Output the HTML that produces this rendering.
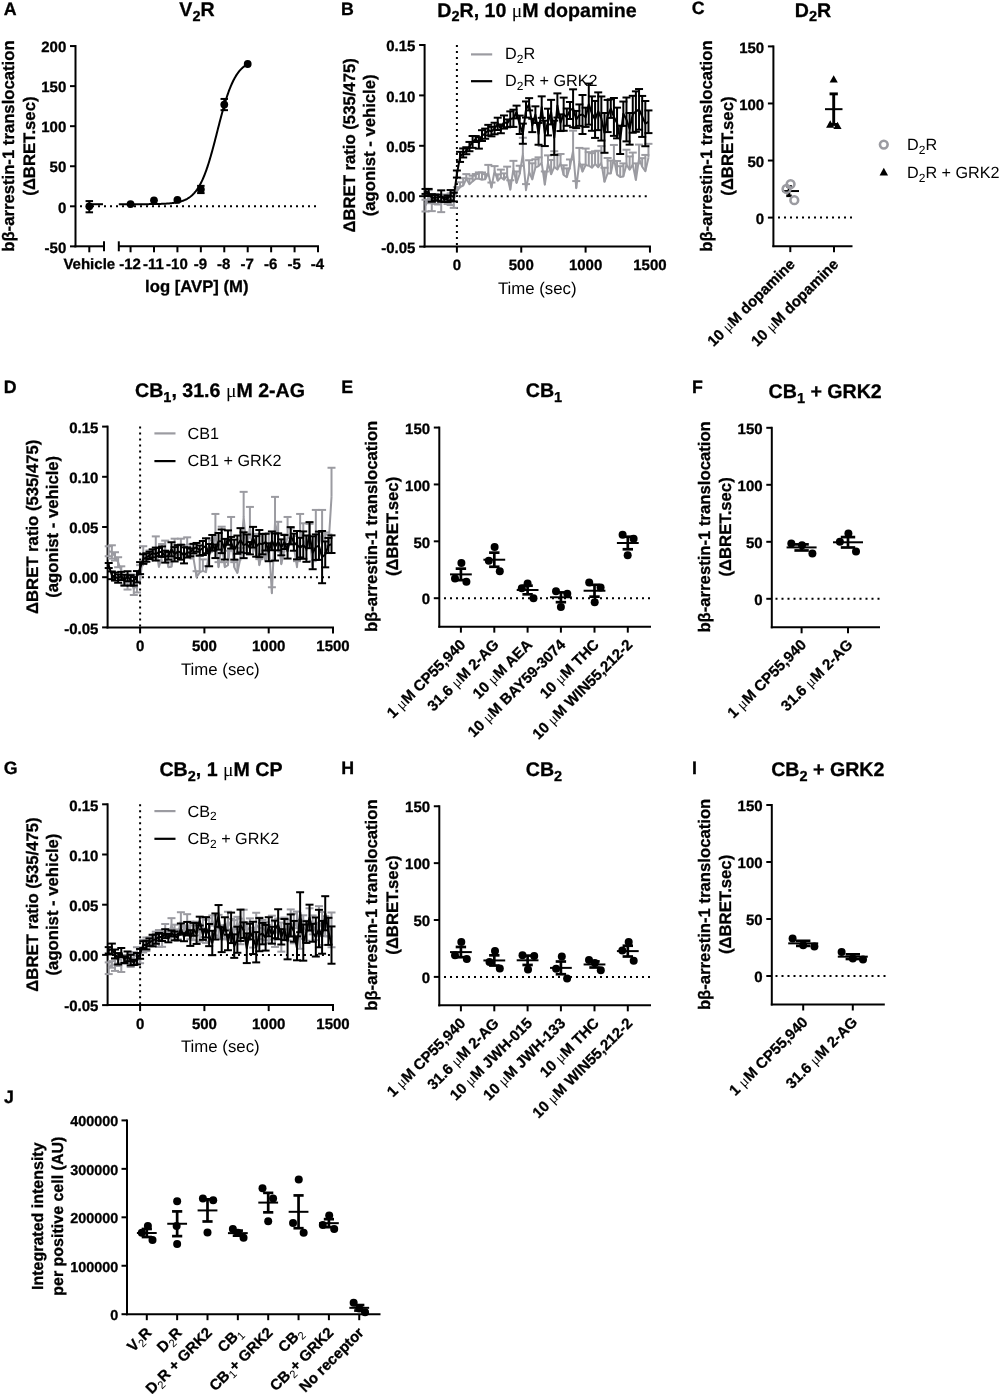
<!DOCTYPE html>
<html><head><meta charset="utf-8"><style>
html,body{margin:0;padding:0;background:#fff;}
svg{display:block;font-family:"Liberation Sans",sans-serif;text-rendering:geometricPrecision;will-change:transform;}
text[font-weight="bold"]{stroke:#000;stroke-width:0.3px;}
tspan[font-weight="normal"]{stroke:none;}
</style></head><body>
<svg width="1000" height="1394" viewBox="0 0 1000 1394">
<rect width="1000" height="1394" fill="#fff"/>
<text x="3.7" y="14.5" font-size="17.8" text-anchor="start" font-weight="bold" >A</text>
<text x="197" y="15.8" font-size="19.6" text-anchor="middle" font-weight="bold" >V<tspan font-size="14.5" dy="4.7">2</tspan><tspan dy="-4.7">R</tspan></text>
<line x1="75.5" y1="45.06" x2="75.5" y2="247.36" stroke="#000" stroke-width="2.0" />
<line x1="70" y1="46.06" x2="75.5" y2="46.06" stroke="#000" stroke-width="2.0" />
<text x="66.3" y="52.26" font-size="15.0" text-anchor="end" font-weight="bold" >200</text>
<line x1="70" y1="86.12" x2="75.5" y2="86.12" stroke="#000" stroke-width="2.0" />
<text x="66.3" y="92.32" font-size="15.0" text-anchor="end" font-weight="bold" >150</text>
<line x1="70" y1="126.18" x2="75.5" y2="126.18" stroke="#000" stroke-width="2.0" />
<text x="66.3" y="132.38" font-size="15.0" text-anchor="end" font-weight="bold" >100</text>
<line x1="70" y1="166.24" x2="75.5" y2="166.24" stroke="#000" stroke-width="2.0" />
<text x="66.3" y="172.44" font-size="15.0" text-anchor="end" font-weight="bold" >50</text>
<line x1="70" y1="206.3" x2="75.5" y2="206.3" stroke="#000" stroke-width="2.0" />
<text x="66.3" y="212.5" font-size="15.0" text-anchor="end" font-weight="bold" >0</text>
<line x1="70" y1="246.36" x2="75.5" y2="246.36" stroke="#000" stroke-width="2.0" />
<text x="66.3" y="252.56" font-size="15.0" text-anchor="end" font-weight="bold" >-50</text>
<text transform="translate(13.7,146.1) rotate(-90)" font-size="16.7" text-anchor="middle" font-weight="bold">bβ-arrestin-1 translocation</text>
<text transform="translate(34.7,146.1) rotate(-90)" font-size="16.7" text-anchor="middle" font-weight="bold">(ΔBRET.sec)</text>
<line x1="74.5" y1="246.3" x2="104" y2="246.3" stroke="#000" stroke-width="2.0" />
<line x1="104" y1="241.3" x2="104" y2="251.3" stroke="#000" stroke-width="2.0" />
<line x1="89.3" y1="246.3" x2="89.3" y2="252.3" stroke="#000" stroke-width="2.0" />
<line x1="118.8" y1="246.3" x2="319" y2="246.3" stroke="#000" stroke-width="2.0" />
<line x1="118.8" y1="241.3" x2="118.8" y2="251.3" stroke="#000" stroke-width="2.0" />
<line x1="130.56" y1="246.3" x2="130.56" y2="252.3" stroke="#000" stroke-width="2.0" />
<line x1="153.99" y1="246.3" x2="153.99" y2="252.3" stroke="#000" stroke-width="2.0" />
<line x1="177.42" y1="246.3" x2="177.42" y2="252.3" stroke="#000" stroke-width="2.0" />
<line x1="200.85" y1="246.3" x2="200.85" y2="252.3" stroke="#000" stroke-width="2.0" />
<line x1="224.28" y1="246.3" x2="224.28" y2="252.3" stroke="#000" stroke-width="2.0" />
<line x1="247.71" y1="246.3" x2="247.71" y2="252.3" stroke="#000" stroke-width="2.0" />
<line x1="271.14" y1="246.3" x2="271.14" y2="252.3" stroke="#000" stroke-width="2.0" />
<line x1="294.57" y1="246.3" x2="294.57" y2="252.3" stroke="#000" stroke-width="2.0" />
<line x1="318" y1="246.3" x2="318" y2="252.3" stroke="#000" stroke-width="2.0" />
<text x="89.3" y="269.1" font-size="15.0" text-anchor="middle" font-weight="bold" >Vehicle</text>
<text x="130.06" y="269.1" font-size="15.0" text-anchor="middle" font-weight="bold" >-12</text>
<text x="153.49" y="269.1" font-size="15.0" text-anchor="middle" font-weight="bold" >-11</text>
<text x="176.92" y="269.1" font-size="15.0" text-anchor="middle" font-weight="bold" >-10</text>
<text x="200.35" y="269.1" font-size="15.0" text-anchor="middle" font-weight="bold" >-9</text>
<text x="223.78" y="269.1" font-size="15.0" text-anchor="middle" font-weight="bold" >-8</text>
<text x="247.21" y="269.1" font-size="15.0" text-anchor="middle" font-weight="bold" >-7</text>
<text x="270.64" y="269.1" font-size="15.0" text-anchor="middle" font-weight="bold" >-6</text>
<text x="294.07" y="269.1" font-size="15.0" text-anchor="middle" font-weight="bold" >-5</text>
<text x="317.5" y="269.1" font-size="15.0" text-anchor="middle" font-weight="bold" >-4</text>
<text x="196.8" y="292.4" font-size="16.7" text-anchor="middle" font-weight="bold" >log [AVP] (M)</text>
<line x1="80" y1="206.3" x2="318" y2="206.3" stroke="#000" stroke-width="2" stroke-dasharray="2 4"/>
<polyline fill="none" stroke="#000" stroke-width="2" points="118.8,204.21 119.27,204.21 119.74,204.21 120.21,204.21 120.67,204.21 121.14,204.21 121.61,204.21 122.08,204.21 122.55,204.21 123.02,204.21 123.49,204.21 123.95,204.21 124.42,204.21 124.89,204.21 125.36,204.21 125.83,204.21 126.3,204.21 126.77,204.21 127.23,204.21 127.7,204.21 128.17,204.21 128.64,204.21 129.11,204.21 129.58,204.21 130.05,204.21 130.51,204.2 130.98,204.2 131.45,204.2 131.92,204.2 132.39,204.2 132.86,204.2 133.33,204.2 133.8,204.2 134.26,204.2 134.73,204.2 135.2,204.2 135.67,204.2 136.14,204.19 136.61,204.19 137.08,204.19 137.54,204.19 138.01,204.19 138.48,204.19 138.95,204.19 139.42,204.18 139.89,204.18 140.36,204.18 140.82,204.18 141.29,204.18 141.76,204.18 142.23,204.17 142.7,204.17 143.17,204.17 143.64,204.17 144.1,204.16 144.57,204.16 145.04,204.16 145.51,204.15 145.98,204.15 146.45,204.15 146.92,204.14 147.38,204.14 147.85,204.14 148.32,204.13 148.79,204.13 149.26,204.12 149.73,204.12 150.2,204.11 150.66,204.11 151.13,204.1 151.6,204.1 152.07,204.09 152.54,204.08 153.01,204.08 153.48,204.07 153.94,204.06 154.41,204.05 154.88,204.05 155.35,204.04 155.82,204.03 156.29,204.02 156.76,204.01 157.23,204 157.69,203.98 158.16,203.97 158.63,203.96 159.1,203.95 159.57,203.93 160.04,203.92 160.51,203.9 160.97,203.89 161.44,203.87 161.91,203.85 162.38,203.83 162.85,203.81 163.32,203.79 163.79,203.77 164.25,203.75 164.72,203.72 165.19,203.7 165.66,203.67 166.13,203.64 166.6,203.61 167.07,203.58 167.53,203.55 168,203.51 168.47,203.48 168.94,203.44 169.41,203.4 169.88,203.35 170.35,203.31 170.81,203.26 171.28,203.21 171.75,203.16 172.22,203.11 172.69,203.05 173.16,202.99 173.63,202.93 174.09,202.86 174.56,202.79 175.03,202.72 175.5,202.64 175.97,202.56 176.44,202.47 176.91,202.39 177.37,202.29 177.84,202.19 178.31,202.09 178.78,201.98 179.25,201.87 179.72,201.75 180.19,201.62 180.66,201.49 181.12,201.35 181.59,201.2 182.06,201.05 182.53,200.89 183,200.72 183.47,200.54 183.94,200.36 184.4,200.16 184.87,199.96 185.34,199.74 185.81,199.52 186.28,199.28 186.75,199.03 187.22,198.78 187.68,198.5 188.15,198.22 188.62,197.92 189.09,197.61 189.56,197.28 190.03,196.94 190.5,196.58 190.96,196.21 191.43,195.81 191.9,195.4 192.37,194.98 192.84,194.53 193.31,194.06 193.78,193.57 194.24,193.06 194.71,192.53 195.18,191.97 195.65,191.39 196.12,190.78 196.59,190.15 197.06,189.5 197.52,188.81 197.99,188.1 198.46,187.36 198.93,186.59 199.4,185.79 199.87,184.96 200.34,184.1 200.8,183.21 201.27,182.28 201.74,181.32 202.21,180.32 202.68,179.3 203.15,178.23 203.62,177.13 204.09,176 204.55,174.83 205.02,173.62 205.49,172.38 205.96,171.11 206.43,169.79 206.9,168.44 207.37,167.06 207.83,165.64 208.3,164.19 208.77,162.7 209.24,161.19 209.71,159.64 210.18,158.05 210.65,156.44 211.11,154.81 211.58,153.14 212.05,151.45 212.52,149.74 212.99,148 213.46,146.24 213.93,144.47 214.39,142.68 214.86,140.88 215.33,139.06 215.8,137.23 216.27,135.4 216.74,133.56 217.21,131.72 217.67,129.88 218.14,128.05 218.61,126.21 219.08,124.39 219.55,122.57 220.02,120.76 220.49,118.97 220.95,117.19 221.42,115.43 221.89,113.69 222.36,111.97 222.83,110.28 223.3,108.61 223.77,106.96 224.23,105.35 224.7,103.76 225.17,102.21 225.64,100.68 226.11,99.19 226.58,97.73 227.05,96.31 227.52,94.92 227.98,93.56 228.45,92.24 228.92,90.96 229.39,89.71 229.86,88.5 230.33,87.32 230.8,86.18 231.26,85.07 231.73,84 232.2,82.97 232.67,81.97 233.14,81 233.61,80.07 234.08,79.17 234.54,78.3 235.01,77.46 235.48,76.66 235.95,75.88 236.42,75.13 236.89,74.42 237.36,73.73 237.82,73.07 238.29,72.43 238.76,71.82 239.23,71.24 239.7,70.68 240.17,70.14 240.64,69.62 241.1,69.13 241.57,68.66 242.04,68.21 242.51,67.77 242.98,67.36 243.45,66.96 243.92,66.59 244.38,66.22 244.85,65.88 245.32,65.55 245.79,65.23 246.26,64.93 246.73,64.65 247.2,64.37 247.66,64.11 247.71,64.09"/>
<line x1="89.3" y1="204.22" x2="103" y2="204.22" stroke="#000" stroke-width="2" />
<line x1="89.3" y1="201.09" x2="89.3" y2="212.31" stroke="#000" stroke-width="2.0" />
<line x1="85.55" y1="201.09" x2="93.05" y2="201.09" stroke="#000" stroke-width="2.0" />
<line x1="85.55" y1="212.31" x2="93.05" y2="212.31" stroke="#000" stroke-width="2.0" />
<circle cx="89.3" cy="206.3" r="3.9" fill="#000" stroke="none" stroke-width="0"/>
<circle cx="130.56" cy="204.06" r="3.9" fill="#000" stroke="none" stroke-width="0"/>
<circle cx="153.99" cy="200.29" r="3.9" fill="#000" stroke="none" stroke-width="0"/>
<circle cx="177.42" cy="199.89" r="3.9" fill="#000" stroke="none" stroke-width="0"/>
<line x1="200.85" y1="185.87" x2="200.85" y2="193.08" stroke="#000" stroke-width="2.0" />
<line x1="197.1" y1="185.87" x2="204.6" y2="185.87" stroke="#000" stroke-width="2.0" />
<line x1="197.1" y1="193.08" x2="204.6" y2="193.08" stroke="#000" stroke-width="2.0" />
<circle cx="200.85" cy="189.47" r="3.9" fill="#000" stroke="none" stroke-width="0"/>
<line x1="224.28" y1="98.94" x2="224.28" y2="110.16" stroke="#000" stroke-width="2.0" />
<line x1="220.53" y1="98.94" x2="228.03" y2="98.94" stroke="#000" stroke-width="2.0" />
<line x1="220.53" y1="110.16" x2="228.03" y2="110.16" stroke="#000" stroke-width="2.0" />
<circle cx="224.28" cy="104.55" r="3.9" fill="#000" stroke="none" stroke-width="0"/>
<circle cx="247.71" cy="64.01" r="3.9" fill="#000" stroke="none" stroke-width="0"/>
<text x="341" y="14.5" font-size="17.8" text-anchor="start" font-weight="bold" >B</text>
<text x="537" y="16.6" font-size="19.6" text-anchor="middle" font-weight="bold" >D<tspan font-size="14.5" dy="4.7">2</tspan><tspan dy="-4.7">R, 10 <tspan font-weight="normal" font-family="Liberation Serif">μ</tspan>M dopamine</tspan></text>
<line x1="424.6" y1="44" x2="424.6" y2="247.6" stroke="#000" stroke-width="2.0" />
<line x1="419.1" y1="45" x2="424.6" y2="45" stroke="#000" stroke-width="2.0" />
<text x="415.4" y="51.2" font-size="15.0" text-anchor="end" font-weight="bold" >0.15</text>
<line x1="419.1" y1="95.4" x2="424.6" y2="95.4" stroke="#000" stroke-width="2.0" />
<text x="415.4" y="101.6" font-size="15.0" text-anchor="end" font-weight="bold" >0.10</text>
<line x1="419.1" y1="145.8" x2="424.6" y2="145.8" stroke="#000" stroke-width="2.0" />
<text x="415.4" y="152" font-size="15.0" text-anchor="end" font-weight="bold" >0.05</text>
<line x1="419.1" y1="196.2" x2="424.6" y2="196.2" stroke="#000" stroke-width="2.0" />
<text x="415.4" y="202.4" font-size="15.0" text-anchor="end" font-weight="bold" >0.00</text>
<line x1="419.1" y1="246.6" x2="424.6" y2="246.6" stroke="#000" stroke-width="2.0" />
<text x="415.4" y="252.8" font-size="15.0" text-anchor="end" font-weight="bold" >-0.05</text>
<text transform="translate(355,145.4) rotate(-90)" font-size="16.7" text-anchor="middle" font-weight="bold">ΔBRET ratio (535/475)</text>
<text transform="translate(375.3,145.4) rotate(-90)" font-size="16.7" text-anchor="middle" font-weight="bold">(agonist - vehicle)</text>
<line x1="423.6" y1="246.6" x2="650.95" y2="246.6" stroke="#000" stroke-width="2.0" />
<line x1="456.9" y1="246.6" x2="456.9" y2="252.6" stroke="#000" stroke-width="2.0" />
<text x="456.9" y="269.7" font-size="15.0" text-anchor="middle" font-weight="bold" >0</text>
<line x1="521.25" y1="246.6" x2="521.25" y2="252.6" stroke="#000" stroke-width="2.0" />
<text x="521.25" y="269.7" font-size="15.0" text-anchor="middle" font-weight="bold" >500</text>
<line x1="585.6" y1="246.6" x2="585.6" y2="252.6" stroke="#000" stroke-width="2.0" />
<text x="585.6" y="269.7" font-size="15.0" text-anchor="middle" font-weight="bold" >1000</text>
<line x1="649.95" y1="246.6" x2="649.95" y2="252.6" stroke="#000" stroke-width="2.0" />
<text x="649.95" y="269.7" font-size="15.0" text-anchor="middle" font-weight="bold" >1500</text>
<text x="537.28" y="294" font-size="16.8" text-anchor="middle"  >Time (sec)</text>
<line x1="428.72" y1="196.2" x2="649.95" y2="196.2" stroke="#000" stroke-width="2" stroke-dasharray="2 4"/>
<line x1="456.9" y1="45" x2="456.9" y2="246.6" stroke="#000" stroke-width="2" stroke-dasharray="2 4"/>
<polyline fill="none" stroke="#9b9ba1" stroke-width="2.0" stroke-linejoin="round" points="425.5,205.61 428.64,196.7 431.78,203.48 434.92,198.91 438.06,200.93 441.2,203.55 444.34,197.9 447.48,200.4 450.62,199.19 453.76,199.97 456.9,191.16 460.04,187.12 463.18,185.51 466.32,178.8 469.46,184.21 472.6,181.37 475.74,178.75 478.88,178.68 482.02,179.69 485.16,179.32 488.3,173.02 491.44,187.65 494.58,170.88 497.72,180.78 500.86,177.32 504,179.77 507.14,175.47 510.28,189.66 513.43,168.78 516.57,183.03 519.71,174.03 522.85,153.86 525.99,190.15 529.13,171.86 532.27,179.36 535.41,167.62 538.55,166.07 541.69,162.89 544.83,184.68 547.97,163.14 551.11,174.27 554.25,166.83 557.39,169.57 560.53,163.11 563.67,174.97 566.81,177.24 569.95,166.78 573.09,150.84 576.23,188.14 579.37,161.72 582.51,171.62 585.65,165.12 588.79,165.7 591.93,167.76 595.07,163.86 598.21,167.19 601.35,162.7 604.49,181.86 607.63,173.23 610.77,173.49 613.91,158.24 617.05,174.6 620.19,177.06 623.33,176.4 626.48,164.56 629.62,169.61 632.76,164.66 635.9,180.06 639.04,158.64 642.18,166.69 645.32,171.3 648.46,157.73"/>
<line x1="425.5" y1="199.75" x2="425.5" y2="211.48" stroke="#9b9ba1" stroke-width="2.0" />
<line x1="421.5" y1="199.75" x2="429.5" y2="199.75" stroke="#9b9ba1" stroke-width="2.0" />
<line x1="421.5" y1="211.48" x2="429.5" y2="211.48" stroke="#9b9ba1" stroke-width="2.0" />
<line x1="428.64" y1="190.18" x2="428.64" y2="203.23" stroke="#9b9ba1" stroke-width="2.0" />
<line x1="424.64" y1="190.18" x2="432.64" y2="190.18" stroke="#9b9ba1" stroke-width="2.0" />
<line x1="424.64" y1="203.23" x2="432.64" y2="203.23" stroke="#9b9ba1" stroke-width="2.0" />
<line x1="431.78" y1="195.83" x2="431.78" y2="211.12" stroke="#9b9ba1" stroke-width="2.0" />
<line x1="427.78" y1="195.83" x2="435.78" y2="195.83" stroke="#9b9ba1" stroke-width="2.0" />
<line x1="427.78" y1="211.12" x2="435.78" y2="211.12" stroke="#9b9ba1" stroke-width="2.0" />
<line x1="434.92" y1="193.93" x2="434.92" y2="203.88" stroke="#9b9ba1" stroke-width="2.0" />
<line x1="430.92" y1="193.93" x2="438.92" y2="193.93" stroke="#9b9ba1" stroke-width="2.0" />
<line x1="430.92" y1="203.88" x2="438.92" y2="203.88" stroke="#9b9ba1" stroke-width="2.0" />
<line x1="438.06" y1="197.37" x2="438.06" y2="204.48" stroke="#9b9ba1" stroke-width="2.0" />
<line x1="434.06" y1="197.37" x2="442.06" y2="197.37" stroke="#9b9ba1" stroke-width="2.0" />
<line x1="434.06" y1="204.48" x2="442.06" y2="204.48" stroke="#9b9ba1" stroke-width="2.0" />
<line x1="441.2" y1="194.97" x2="441.2" y2="212.13" stroke="#9b9ba1" stroke-width="2.0" />
<line x1="437.2" y1="194.97" x2="445.2" y2="194.97" stroke="#9b9ba1" stroke-width="2.0" />
<line x1="437.2" y1="212.13" x2="445.2" y2="212.13" stroke="#9b9ba1" stroke-width="2.0" />
<line x1="444.34" y1="194.49" x2="444.34" y2="201.31" stroke="#9b9ba1" stroke-width="2.0" />
<line x1="440.34" y1="194.49" x2="448.34" y2="194.49" stroke="#9b9ba1" stroke-width="2.0" />
<line x1="440.34" y1="201.31" x2="448.34" y2="201.31" stroke="#9b9ba1" stroke-width="2.0" />
<line x1="447.48" y1="196.75" x2="447.48" y2="204.05" stroke="#9b9ba1" stroke-width="2.0" />
<line x1="443.48" y1="196.75" x2="451.48" y2="196.75" stroke="#9b9ba1" stroke-width="2.0" />
<line x1="443.48" y1="204.05" x2="451.48" y2="204.05" stroke="#9b9ba1" stroke-width="2.0" />
<line x1="450.62" y1="193.33" x2="450.62" y2="205.04" stroke="#9b9ba1" stroke-width="2.0" />
<line x1="446.62" y1="193.33" x2="454.62" y2="193.33" stroke="#9b9ba1" stroke-width="2.0" />
<line x1="446.62" y1="205.04" x2="454.62" y2="205.04" stroke="#9b9ba1" stroke-width="2.0" />
<line x1="453.76" y1="192.06" x2="453.76" y2="207.88" stroke="#9b9ba1" stroke-width="2.0" />
<line x1="449.76" y1="192.06" x2="457.76" y2="192.06" stroke="#9b9ba1" stroke-width="2.0" />
<line x1="449.76" y1="207.88" x2="457.76" y2="207.88" stroke="#9b9ba1" stroke-width="2.0" />
<line x1="456.9" y1="187.13" x2="456.9" y2="191.16" stroke="#9b9ba1" stroke-width="2.0" />
<line x1="452.9" y1="187.13" x2="460.9" y2="187.13" stroke="#9b9ba1" stroke-width="2.0" />
<line x1="460.04" y1="182.24" x2="460.04" y2="187.12" stroke="#9b9ba1" stroke-width="2.0" />
<line x1="456.04" y1="182.24" x2="464.04" y2="182.24" stroke="#9b9ba1" stroke-width="2.0" />
<line x1="463.18" y1="178.2" x2="463.18" y2="185.51" stroke="#9b9ba1" stroke-width="2.0" />
<line x1="459.18" y1="178.2" x2="467.18" y2="178.2" stroke="#9b9ba1" stroke-width="2.0" />
<line x1="466.32" y1="174.1" x2="466.32" y2="178.8" stroke="#9b9ba1" stroke-width="2.0" />
<line x1="462.32" y1="174.1" x2="470.32" y2="174.1" stroke="#9b9ba1" stroke-width="2.0" />
<line x1="469.46" y1="178.5" x2="469.46" y2="184.21" stroke="#9b9ba1" stroke-width="2.0" />
<line x1="465.46" y1="178.5" x2="473.46" y2="178.5" stroke="#9b9ba1" stroke-width="2.0" />
<line x1="472.6" y1="175.7" x2="472.6" y2="181.37" stroke="#9b9ba1" stroke-width="2.0" />
<line x1="468.6" y1="175.7" x2="476.6" y2="175.7" stroke="#9b9ba1" stroke-width="2.0" />
<line x1="475.74" y1="174.03" x2="475.74" y2="178.75" stroke="#9b9ba1" stroke-width="2.0" />
<line x1="471.74" y1="174.03" x2="479.74" y2="174.03" stroke="#9b9ba1" stroke-width="2.0" />
<line x1="478.88" y1="172.42" x2="478.88" y2="178.68" stroke="#9b9ba1" stroke-width="2.0" />
<line x1="474.88" y1="172.42" x2="482.88" y2="172.42" stroke="#9b9ba1" stroke-width="2.0" />
<line x1="482.02" y1="172.45" x2="482.02" y2="179.69" stroke="#9b9ba1" stroke-width="2.0" />
<line x1="478.02" y1="172.45" x2="486.02" y2="172.45" stroke="#9b9ba1" stroke-width="2.0" />
<line x1="485.16" y1="174.13" x2="485.16" y2="179.32" stroke="#9b9ba1" stroke-width="2.0" />
<line x1="481.16" y1="174.13" x2="489.16" y2="174.13" stroke="#9b9ba1" stroke-width="2.0" />
<line x1="488.3" y1="164.89" x2="488.3" y2="173.02" stroke="#9b9ba1" stroke-width="2.0" />
<line x1="484.3" y1="164.89" x2="492.3" y2="164.89" stroke="#9b9ba1" stroke-width="2.0" />
<line x1="491.44" y1="182.52" x2="491.44" y2="187.65" stroke="#9b9ba1" stroke-width="2.0" />
<line x1="487.44" y1="182.52" x2="495.44" y2="182.52" stroke="#9b9ba1" stroke-width="2.0" />
<line x1="494.58" y1="166.12" x2="494.58" y2="170.88" stroke="#9b9ba1" stroke-width="2.0" />
<line x1="490.58" y1="166.12" x2="498.58" y2="166.12" stroke="#9b9ba1" stroke-width="2.0" />
<line x1="497.72" y1="174.34" x2="497.72" y2="180.78" stroke="#9b9ba1" stroke-width="2.0" />
<line x1="493.72" y1="174.34" x2="501.72" y2="174.34" stroke="#9b9ba1" stroke-width="2.0" />
<line x1="500.86" y1="169.62" x2="500.86" y2="177.32" stroke="#9b9ba1" stroke-width="2.0" />
<line x1="496.86" y1="169.62" x2="504.86" y2="169.62" stroke="#9b9ba1" stroke-width="2.0" />
<line x1="504" y1="173.39" x2="504" y2="179.77" stroke="#9b9ba1" stroke-width="2.0" />
<line x1="500" y1="173.39" x2="508" y2="173.39" stroke="#9b9ba1" stroke-width="2.0" />
<line x1="507.14" y1="166.66" x2="507.14" y2="175.47" stroke="#9b9ba1" stroke-width="2.0" />
<line x1="503.14" y1="166.66" x2="511.14" y2="166.66" stroke="#9b9ba1" stroke-width="2.0" />
<line x1="510.28" y1="180.26" x2="510.28" y2="189.66" stroke="#9b9ba1" stroke-width="2.0" />
<line x1="506.28" y1="180.26" x2="514.28" y2="180.26" stroke="#9b9ba1" stroke-width="2.0" />
<line x1="513.43" y1="160.85" x2="513.43" y2="168.78" stroke="#9b9ba1" stroke-width="2.0" />
<line x1="509.43" y1="160.85" x2="517.43" y2="160.85" stroke="#9b9ba1" stroke-width="2.0" />
<line x1="516.57" y1="171.46" x2="516.57" y2="183.03" stroke="#9b9ba1" stroke-width="2.0" />
<line x1="512.57" y1="171.46" x2="520.57" y2="171.46" stroke="#9b9ba1" stroke-width="2.0" />
<line x1="519.71" y1="165.75" x2="519.71" y2="174.03" stroke="#9b9ba1" stroke-width="2.0" />
<line x1="515.71" y1="165.75" x2="523.71" y2="165.75" stroke="#9b9ba1" stroke-width="2.0" />
<line x1="522.85" y1="137.74" x2="522.85" y2="153.86" stroke="#9b9ba1" stroke-width="2.0" />
<line x1="518.85" y1="137.74" x2="526.85" y2="137.74" stroke="#9b9ba1" stroke-width="2.0" />
<line x1="525.99" y1="184.1" x2="525.99" y2="190.15" stroke="#9b9ba1" stroke-width="2.0" />
<line x1="521.99" y1="184.1" x2="529.99" y2="184.1" stroke="#9b9ba1" stroke-width="2.0" />
<line x1="529.13" y1="160.28" x2="529.13" y2="171.86" stroke="#9b9ba1" stroke-width="2.0" />
<line x1="525.13" y1="160.28" x2="533.13" y2="160.28" stroke="#9b9ba1" stroke-width="2.0" />
<line x1="532.27" y1="163.27" x2="532.27" y2="179.36" stroke="#9b9ba1" stroke-width="2.0" />
<line x1="528.27" y1="163.27" x2="536.27" y2="163.27" stroke="#9b9ba1" stroke-width="2.0" />
<line x1="535.41" y1="159.29" x2="535.41" y2="167.62" stroke="#9b9ba1" stroke-width="2.0" />
<line x1="531.41" y1="159.29" x2="539.41" y2="159.29" stroke="#9b9ba1" stroke-width="2.0" />
<line x1="538.55" y1="157.35" x2="538.55" y2="166.07" stroke="#9b9ba1" stroke-width="2.0" />
<line x1="534.55" y1="157.35" x2="542.55" y2="157.35" stroke="#9b9ba1" stroke-width="2.0" />
<line x1="541.69" y1="146" x2="541.69" y2="162.89" stroke="#9b9ba1" stroke-width="2.0" />
<line x1="537.69" y1="146" x2="545.69" y2="146" stroke="#9b9ba1" stroke-width="2.0" />
<line x1="544.83" y1="171.45" x2="544.83" y2="184.68" stroke="#9b9ba1" stroke-width="2.0" />
<line x1="540.83" y1="171.45" x2="548.83" y2="171.45" stroke="#9b9ba1" stroke-width="2.0" />
<line x1="547.97" y1="155.36" x2="547.97" y2="163.14" stroke="#9b9ba1" stroke-width="2.0" />
<line x1="543.97" y1="155.36" x2="551.97" y2="155.36" stroke="#9b9ba1" stroke-width="2.0" />
<line x1="551.11" y1="159.95" x2="551.11" y2="174.27" stroke="#9b9ba1" stroke-width="2.0" />
<line x1="547.11" y1="159.95" x2="555.11" y2="159.95" stroke="#9b9ba1" stroke-width="2.0" />
<line x1="554.25" y1="151.21" x2="554.25" y2="166.83" stroke="#9b9ba1" stroke-width="2.0" />
<line x1="550.25" y1="151.21" x2="558.25" y2="151.21" stroke="#9b9ba1" stroke-width="2.0" />
<line x1="557.39" y1="155.08" x2="557.39" y2="169.57" stroke="#9b9ba1" stroke-width="2.0" />
<line x1="553.39" y1="155.08" x2="561.39" y2="155.08" stroke="#9b9ba1" stroke-width="2.0" />
<line x1="560.53" y1="153.97" x2="560.53" y2="163.11" stroke="#9b9ba1" stroke-width="2.0" />
<line x1="556.53" y1="153.97" x2="564.53" y2="153.97" stroke="#9b9ba1" stroke-width="2.0" />
<line x1="563.67" y1="165.27" x2="563.67" y2="174.97" stroke="#9b9ba1" stroke-width="2.0" />
<line x1="559.67" y1="165.27" x2="567.67" y2="165.27" stroke="#9b9ba1" stroke-width="2.0" />
<line x1="566.81" y1="168.37" x2="566.81" y2="177.24" stroke="#9b9ba1" stroke-width="2.0" />
<line x1="562.81" y1="168.37" x2="570.81" y2="168.37" stroke="#9b9ba1" stroke-width="2.0" />
<line x1="569.95" y1="159.47" x2="569.95" y2="166.78" stroke="#9b9ba1" stroke-width="2.0" />
<line x1="565.95" y1="159.47" x2="573.95" y2="159.47" stroke="#9b9ba1" stroke-width="2.0" />
<line x1="573.09" y1="130.68" x2="573.09" y2="150.84" stroke="#9b9ba1" stroke-width="2.0" />
<line x1="569.09" y1="130.68" x2="577.09" y2="130.68" stroke="#9b9ba1" stroke-width="2.0" />
<line x1="576.23" y1="181.08" x2="576.23" y2="188.14" stroke="#9b9ba1" stroke-width="2.0" />
<line x1="572.23" y1="181.08" x2="580.23" y2="181.08" stroke="#9b9ba1" stroke-width="2.0" />
<line x1="579.37" y1="147.91" x2="579.37" y2="161.72" stroke="#9b9ba1" stroke-width="2.0" />
<line x1="575.37" y1="147.91" x2="583.37" y2="147.91" stroke="#9b9ba1" stroke-width="2.0" />
<line x1="582.51" y1="164.59" x2="582.51" y2="171.62" stroke="#9b9ba1" stroke-width="2.0" />
<line x1="578.51" y1="164.59" x2="586.51" y2="164.59" stroke="#9b9ba1" stroke-width="2.0" />
<line x1="585.65" y1="148.56" x2="585.65" y2="165.12" stroke="#9b9ba1" stroke-width="2.0" />
<line x1="581.65" y1="148.56" x2="589.65" y2="148.56" stroke="#9b9ba1" stroke-width="2.0" />
<line x1="588.79" y1="152.12" x2="588.79" y2="165.7" stroke="#9b9ba1" stroke-width="2.0" />
<line x1="584.79" y1="152.12" x2="592.79" y2="152.12" stroke="#9b9ba1" stroke-width="2.0" />
<line x1="591.93" y1="153.16" x2="591.93" y2="167.76" stroke="#9b9ba1" stroke-width="2.0" />
<line x1="587.93" y1="153.16" x2="595.93" y2="153.16" stroke="#9b9ba1" stroke-width="2.0" />
<line x1="595.07" y1="151.26" x2="595.07" y2="163.86" stroke="#9b9ba1" stroke-width="2.0" />
<line x1="591.07" y1="151.26" x2="599.07" y2="151.26" stroke="#9b9ba1" stroke-width="2.0" />
<line x1="598.21" y1="150.73" x2="598.21" y2="167.19" stroke="#9b9ba1" stroke-width="2.0" />
<line x1="594.21" y1="150.73" x2="602.21" y2="150.73" stroke="#9b9ba1" stroke-width="2.0" />
<line x1="601.35" y1="146.09" x2="601.35" y2="162.7" stroke="#9b9ba1" stroke-width="2.0" />
<line x1="597.35" y1="146.09" x2="605.35" y2="146.09" stroke="#9b9ba1" stroke-width="2.0" />
<line x1="604.49" y1="167.75" x2="604.49" y2="181.86" stroke="#9b9ba1" stroke-width="2.0" />
<line x1="600.49" y1="167.75" x2="608.49" y2="167.75" stroke="#9b9ba1" stroke-width="2.0" />
<line x1="607.63" y1="157.97" x2="607.63" y2="173.23" stroke="#9b9ba1" stroke-width="2.0" />
<line x1="603.63" y1="157.97" x2="611.63" y2="157.97" stroke="#9b9ba1" stroke-width="2.0" />
<line x1="610.77" y1="160.6" x2="610.77" y2="173.49" stroke="#9b9ba1" stroke-width="2.0" />
<line x1="606.77" y1="160.6" x2="614.77" y2="160.6" stroke="#9b9ba1" stroke-width="2.0" />
<line x1="613.91" y1="144.96" x2="613.91" y2="158.24" stroke="#9b9ba1" stroke-width="2.0" />
<line x1="609.91" y1="144.96" x2="617.91" y2="144.96" stroke="#9b9ba1" stroke-width="2.0" />
<line x1="617.05" y1="160.98" x2="617.05" y2="174.6" stroke="#9b9ba1" stroke-width="2.0" />
<line x1="613.05" y1="160.98" x2="621.05" y2="160.98" stroke="#9b9ba1" stroke-width="2.0" />
<line x1="620.19" y1="166.17" x2="620.19" y2="177.06" stroke="#9b9ba1" stroke-width="2.0" />
<line x1="616.19" y1="166.17" x2="624.19" y2="166.17" stroke="#9b9ba1" stroke-width="2.0" />
<line x1="623.33" y1="163.42" x2="623.33" y2="176.4" stroke="#9b9ba1" stroke-width="2.0" />
<line x1="619.33" y1="163.42" x2="627.33" y2="163.42" stroke="#9b9ba1" stroke-width="2.0" />
<line x1="626.48" y1="149.74" x2="626.48" y2="164.56" stroke="#9b9ba1" stroke-width="2.0" />
<line x1="622.48" y1="149.74" x2="630.48" y2="149.74" stroke="#9b9ba1" stroke-width="2.0" />
<line x1="629.62" y1="156.42" x2="629.62" y2="169.61" stroke="#9b9ba1" stroke-width="2.0" />
<line x1="625.62" y1="156.42" x2="633.62" y2="156.42" stroke="#9b9ba1" stroke-width="2.0" />
<line x1="632.76" y1="152.59" x2="632.76" y2="164.66" stroke="#9b9ba1" stroke-width="2.0" />
<line x1="628.76" y1="152.59" x2="636.76" y2="152.59" stroke="#9b9ba1" stroke-width="2.0" />
<line x1="635.9" y1="163.39" x2="635.9" y2="180.06" stroke="#9b9ba1" stroke-width="2.0" />
<line x1="631.9" y1="163.39" x2="639.9" y2="163.39" stroke="#9b9ba1" stroke-width="2.0" />
<line x1="639.04" y1="144.6" x2="639.04" y2="158.64" stroke="#9b9ba1" stroke-width="2.0" />
<line x1="635.04" y1="144.6" x2="643.04" y2="144.6" stroke="#9b9ba1" stroke-width="2.0" />
<line x1="642.18" y1="158.19" x2="642.18" y2="166.69" stroke="#9b9ba1" stroke-width="2.0" />
<line x1="638.18" y1="158.19" x2="646.18" y2="158.19" stroke="#9b9ba1" stroke-width="2.0" />
<line x1="645.32" y1="154.94" x2="645.32" y2="171.3" stroke="#9b9ba1" stroke-width="2.0" />
<line x1="641.32" y1="154.94" x2="649.32" y2="154.94" stroke="#9b9ba1" stroke-width="2.0" />
<line x1="648.46" y1="143.83" x2="648.46" y2="157.73" stroke="#9b9ba1" stroke-width="2.0" />
<line x1="644.46" y1="143.83" x2="652.46" y2="143.83" stroke="#9b9ba1" stroke-width="2.0" />
<polyline fill="none" stroke="#000" stroke-width="2.0" stroke-linejoin="round" points="425.5,191.43 428.64,192.46 431.78,197.93 434.92,197.77 438.06,197.6 441.2,196 444.34,199.49 447.48,198.7 450.62,195.24 453.76,197.08 456.9,174.02 460.04,156.89 463.18,152.96 466.32,150.75 469.46,146.58 472.6,141.92 475.74,139.03 478.88,142.97 482.02,135.59 485.16,133.71 488.3,130.13 491.44,131.61 494.58,128.5 497.72,123.86 500.86,128.84 504,122.04 507.14,123.35 510.28,119.08 513.43,118.3 516.57,112.01 519.71,124.79 522.85,133.7 525.99,109.51 529.13,104.28 532.27,125.45 535.41,114.59 538.55,133.84 541.69,107.1 544.83,133.39 547.97,122.04 551.11,112.13 554.25,137.74 557.39,105.48 560.53,122.71 563.67,114.19 566.81,117.15 569.95,110.48 573.09,108.29 576.23,119.51 579.37,115.16 582.51,114.48 585.65,117.29 588.79,104.11 591.93,113.59 595.07,119.42 598.21,111.26 601.35,118.52 604.49,132.91 607.63,116 610.77,108.62 613.91,116.94 617.05,122.99 620.19,139.87 623.33,113.72 626.48,119.46 629.62,128.82 632.76,114.28 635.9,111.58 639.04,109.36 642.18,116.42 645.32,123.63 648.46,121.77"/>
<line x1="425.5" y1="188.95" x2="425.5" y2="193.91" stroke="#000" stroke-width="2.0" />
<line x1="421.5" y1="188.95" x2="429.5" y2="188.95" stroke="#000" stroke-width="2.0" />
<line x1="421.5" y1="193.91" x2="429.5" y2="193.91" stroke="#000" stroke-width="2.0" />
<line x1="428.64" y1="188.91" x2="428.64" y2="196" stroke="#000" stroke-width="2.0" />
<line x1="424.64" y1="188.91" x2="432.64" y2="188.91" stroke="#000" stroke-width="2.0" />
<line x1="424.64" y1="196" x2="432.64" y2="196" stroke="#000" stroke-width="2.0" />
<line x1="431.78" y1="194.14" x2="431.78" y2="201.73" stroke="#000" stroke-width="2.0" />
<line x1="427.78" y1="194.14" x2="435.78" y2="194.14" stroke="#000" stroke-width="2.0" />
<line x1="427.78" y1="201.73" x2="435.78" y2="201.73" stroke="#000" stroke-width="2.0" />
<line x1="434.92" y1="195.22" x2="434.92" y2="200.31" stroke="#000" stroke-width="2.0" />
<line x1="430.92" y1="195.22" x2="438.92" y2="195.22" stroke="#000" stroke-width="2.0" />
<line x1="430.92" y1="200.31" x2="438.92" y2="200.31" stroke="#000" stroke-width="2.0" />
<line x1="438.06" y1="194.57" x2="438.06" y2="200.63" stroke="#000" stroke-width="2.0" />
<line x1="434.06" y1="194.57" x2="442.06" y2="194.57" stroke="#000" stroke-width="2.0" />
<line x1="434.06" y1="200.63" x2="442.06" y2="200.63" stroke="#000" stroke-width="2.0" />
<line x1="441.2" y1="190.35" x2="441.2" y2="201.66" stroke="#000" stroke-width="2.0" />
<line x1="437.2" y1="190.35" x2="445.2" y2="190.35" stroke="#000" stroke-width="2.0" />
<line x1="437.2" y1="201.66" x2="445.2" y2="201.66" stroke="#000" stroke-width="2.0" />
<line x1="444.34" y1="197.11" x2="444.34" y2="201.88" stroke="#000" stroke-width="2.0" />
<line x1="440.34" y1="197.11" x2="448.34" y2="197.11" stroke="#000" stroke-width="2.0" />
<line x1="440.34" y1="201.88" x2="448.34" y2="201.88" stroke="#000" stroke-width="2.0" />
<line x1="447.48" y1="195.43" x2="447.48" y2="201.97" stroke="#000" stroke-width="2.0" />
<line x1="443.48" y1="195.43" x2="451.48" y2="195.43" stroke="#000" stroke-width="2.0" />
<line x1="443.48" y1="201.97" x2="451.48" y2="201.97" stroke="#000" stroke-width="2.0" />
<line x1="450.62" y1="190.06" x2="450.62" y2="200.42" stroke="#000" stroke-width="2.0" />
<line x1="446.62" y1="190.06" x2="454.62" y2="190.06" stroke="#000" stroke-width="2.0" />
<line x1="446.62" y1="200.42" x2="454.62" y2="200.42" stroke="#000" stroke-width="2.0" />
<line x1="453.76" y1="192.75" x2="453.76" y2="201.4" stroke="#000" stroke-width="2.0" />
<line x1="449.76" y1="192.75" x2="457.76" y2="192.75" stroke="#000" stroke-width="2.0" />
<line x1="449.76" y1="201.4" x2="457.76" y2="201.4" stroke="#000" stroke-width="2.0" />
<line x1="456.9" y1="170.5" x2="456.9" y2="177.55" stroke="#000" stroke-width="2.0" />
<line x1="452.9" y1="170.5" x2="460.9" y2="170.5" stroke="#000" stroke-width="2.0" />
<line x1="452.9" y1="177.55" x2="460.9" y2="177.55" stroke="#000" stroke-width="2.0" />
<line x1="460.04" y1="151.85" x2="460.04" y2="161.93" stroke="#000" stroke-width="2.0" />
<line x1="456.04" y1="151.85" x2="464.04" y2="151.85" stroke="#000" stroke-width="2.0" />
<line x1="456.04" y1="161.93" x2="464.04" y2="161.93" stroke="#000" stroke-width="2.0" />
<line x1="463.18" y1="148.44" x2="463.18" y2="157.48" stroke="#000" stroke-width="2.0" />
<line x1="459.18" y1="148.44" x2="467.18" y2="148.44" stroke="#000" stroke-width="2.0" />
<line x1="459.18" y1="157.48" x2="467.18" y2="157.48" stroke="#000" stroke-width="2.0" />
<line x1="466.32" y1="147.24" x2="466.32" y2="154.25" stroke="#000" stroke-width="2.0" />
<line x1="462.32" y1="147.24" x2="470.32" y2="147.24" stroke="#000" stroke-width="2.0" />
<line x1="462.32" y1="154.25" x2="470.32" y2="154.25" stroke="#000" stroke-width="2.0" />
<line x1="469.46" y1="141.93" x2="469.46" y2="151.23" stroke="#000" stroke-width="2.0" />
<line x1="465.46" y1="141.93" x2="473.46" y2="141.93" stroke="#000" stroke-width="2.0" />
<line x1="465.46" y1="151.23" x2="473.46" y2="151.23" stroke="#000" stroke-width="2.0" />
<line x1="472.6" y1="135.98" x2="472.6" y2="147.86" stroke="#000" stroke-width="2.0" />
<line x1="468.6" y1="135.98" x2="476.6" y2="135.98" stroke="#000" stroke-width="2.0" />
<line x1="468.6" y1="147.86" x2="476.6" y2="147.86" stroke="#000" stroke-width="2.0" />
<line x1="475.74" y1="136.06" x2="475.74" y2="141.99" stroke="#000" stroke-width="2.0" />
<line x1="471.74" y1="136.06" x2="479.74" y2="136.06" stroke="#000" stroke-width="2.0" />
<line x1="471.74" y1="141.99" x2="479.74" y2="141.99" stroke="#000" stroke-width="2.0" />
<line x1="478.88" y1="137.3" x2="478.88" y2="148.64" stroke="#000" stroke-width="2.0" />
<line x1="474.88" y1="137.3" x2="482.88" y2="137.3" stroke="#000" stroke-width="2.0" />
<line x1="474.88" y1="148.64" x2="482.88" y2="148.64" stroke="#000" stroke-width="2.0" />
<line x1="482.02" y1="130.19" x2="482.02" y2="140.99" stroke="#000" stroke-width="2.0" />
<line x1="478.02" y1="130.19" x2="486.02" y2="130.19" stroke="#000" stroke-width="2.0" />
<line x1="478.02" y1="140.99" x2="486.02" y2="140.99" stroke="#000" stroke-width="2.0" />
<line x1="485.16" y1="128.62" x2="485.16" y2="138.79" stroke="#000" stroke-width="2.0" />
<line x1="481.16" y1="128.62" x2="489.16" y2="128.62" stroke="#000" stroke-width="2.0" />
<line x1="481.16" y1="138.79" x2="489.16" y2="138.79" stroke="#000" stroke-width="2.0" />
<line x1="488.3" y1="124.87" x2="488.3" y2="135.39" stroke="#000" stroke-width="2.0" />
<line x1="484.3" y1="124.87" x2="492.3" y2="124.87" stroke="#000" stroke-width="2.0" />
<line x1="484.3" y1="135.39" x2="492.3" y2="135.39" stroke="#000" stroke-width="2.0" />
<line x1="491.44" y1="126.87" x2="491.44" y2="136.35" stroke="#000" stroke-width="2.0" />
<line x1="487.44" y1="126.87" x2="495.44" y2="126.87" stroke="#000" stroke-width="2.0" />
<line x1="487.44" y1="136.35" x2="495.44" y2="136.35" stroke="#000" stroke-width="2.0" />
<line x1="494.58" y1="122.74" x2="494.58" y2="134.26" stroke="#000" stroke-width="2.0" />
<line x1="490.58" y1="122.74" x2="498.58" y2="122.74" stroke="#000" stroke-width="2.0" />
<line x1="490.58" y1="134.26" x2="498.58" y2="134.26" stroke="#000" stroke-width="2.0" />
<line x1="497.72" y1="117.7" x2="497.72" y2="130.02" stroke="#000" stroke-width="2.0" />
<line x1="493.72" y1="117.7" x2="501.72" y2="117.7" stroke="#000" stroke-width="2.0" />
<line x1="493.72" y1="130.02" x2="501.72" y2="130.02" stroke="#000" stroke-width="2.0" />
<line x1="500.86" y1="124.44" x2="500.86" y2="133.24" stroke="#000" stroke-width="2.0" />
<line x1="496.86" y1="124.44" x2="504.86" y2="124.44" stroke="#000" stroke-width="2.0" />
<line x1="496.86" y1="133.24" x2="504.86" y2="133.24" stroke="#000" stroke-width="2.0" />
<line x1="504" y1="115.47" x2="504" y2="128.62" stroke="#000" stroke-width="2.0" />
<line x1="500" y1="115.47" x2="508" y2="115.47" stroke="#000" stroke-width="2.0" />
<line x1="500" y1="128.62" x2="508" y2="128.62" stroke="#000" stroke-width="2.0" />
<line x1="507.14" y1="119.44" x2="507.14" y2="127.25" stroke="#000" stroke-width="2.0" />
<line x1="503.14" y1="119.44" x2="511.14" y2="119.44" stroke="#000" stroke-width="2.0" />
<line x1="503.14" y1="127.25" x2="511.14" y2="127.25" stroke="#000" stroke-width="2.0" />
<line x1="510.28" y1="111.39" x2="510.28" y2="126.77" stroke="#000" stroke-width="2.0" />
<line x1="506.28" y1="111.39" x2="514.28" y2="111.39" stroke="#000" stroke-width="2.0" />
<line x1="506.28" y1="126.77" x2="514.28" y2="126.77" stroke="#000" stroke-width="2.0" />
<line x1="513.43" y1="109.7" x2="513.43" y2="126.9" stroke="#000" stroke-width="2.0" />
<line x1="509.43" y1="109.7" x2="517.43" y2="109.7" stroke="#000" stroke-width="2.0" />
<line x1="509.43" y1="126.9" x2="517.43" y2="126.9" stroke="#000" stroke-width="2.0" />
<line x1="516.57" y1="105.63" x2="516.57" y2="118.39" stroke="#000" stroke-width="2.0" />
<line x1="512.57" y1="105.63" x2="520.57" y2="105.63" stroke="#000" stroke-width="2.0" />
<line x1="512.57" y1="118.39" x2="520.57" y2="118.39" stroke="#000" stroke-width="2.0" />
<line x1="519.71" y1="115.59" x2="519.71" y2="134" stroke="#000" stroke-width="2.0" />
<line x1="515.71" y1="115.59" x2="523.71" y2="115.59" stroke="#000" stroke-width="2.0" />
<line x1="515.71" y1="134" x2="523.71" y2="134" stroke="#000" stroke-width="2.0" />
<line x1="522.85" y1="123.62" x2="522.85" y2="143.78" stroke="#000" stroke-width="2.0" />
<line x1="518.85" y1="123.62" x2="526.85" y2="123.62" stroke="#000" stroke-width="2.0" />
<line x1="518.85" y1="143.78" x2="526.85" y2="143.78" stroke="#000" stroke-width="2.0" />
<line x1="525.99" y1="101.45" x2="525.99" y2="117.58" stroke="#000" stroke-width="2.0" />
<line x1="521.99" y1="101.45" x2="529.99" y2="101.45" stroke="#000" stroke-width="2.0" />
<line x1="521.99" y1="117.58" x2="529.99" y2="117.58" stroke="#000" stroke-width="2.0" />
<line x1="529.13" y1="98.15" x2="529.13" y2="110.42" stroke="#000" stroke-width="2.0" />
<line x1="525.13" y1="98.15" x2="533.13" y2="98.15" stroke="#000" stroke-width="2.0" />
<line x1="525.13" y1="110.42" x2="533.13" y2="110.42" stroke="#000" stroke-width="2.0" />
<line x1="532.27" y1="118.77" x2="532.27" y2="132.13" stroke="#000" stroke-width="2.0" />
<line x1="528.27" y1="118.77" x2="536.27" y2="118.77" stroke="#000" stroke-width="2.0" />
<line x1="528.27" y1="132.13" x2="536.27" y2="132.13" stroke="#000" stroke-width="2.0" />
<line x1="535.41" y1="106.34" x2="535.41" y2="122.84" stroke="#000" stroke-width="2.0" />
<line x1="531.41" y1="106.34" x2="539.41" y2="106.34" stroke="#000" stroke-width="2.0" />
<line x1="531.41" y1="122.84" x2="539.41" y2="122.84" stroke="#000" stroke-width="2.0" />
<line x1="538.55" y1="122.93" x2="538.55" y2="144.75" stroke="#000" stroke-width="2.0" />
<line x1="534.55" y1="122.93" x2="542.55" y2="122.93" stroke="#000" stroke-width="2.0" />
<line x1="534.55" y1="144.75" x2="542.55" y2="144.75" stroke="#000" stroke-width="2.0" />
<line x1="541.69" y1="96.35" x2="541.69" y2="117.85" stroke="#000" stroke-width="2.0" />
<line x1="537.69" y1="96.35" x2="545.69" y2="96.35" stroke="#000" stroke-width="2.0" />
<line x1="537.69" y1="117.85" x2="545.69" y2="117.85" stroke="#000" stroke-width="2.0" />
<line x1="544.83" y1="120.7" x2="544.83" y2="146.07" stroke="#000" stroke-width="2.0" />
<line x1="540.83" y1="120.7" x2="548.83" y2="120.7" stroke="#000" stroke-width="2.0" />
<line x1="540.83" y1="146.07" x2="548.83" y2="146.07" stroke="#000" stroke-width="2.0" />
<line x1="547.97" y1="108.67" x2="547.97" y2="135.41" stroke="#000" stroke-width="2.0" />
<line x1="543.97" y1="108.67" x2="551.97" y2="108.67" stroke="#000" stroke-width="2.0" />
<line x1="543.97" y1="135.41" x2="551.97" y2="135.41" stroke="#000" stroke-width="2.0" />
<line x1="551.11" y1="99.85" x2="551.11" y2="124.41" stroke="#000" stroke-width="2.0" />
<line x1="547.11" y1="99.85" x2="555.11" y2="99.85" stroke="#000" stroke-width="2.0" />
<line x1="547.11" y1="124.41" x2="555.11" y2="124.41" stroke="#000" stroke-width="2.0" />
<line x1="554.25" y1="120.6" x2="554.25" y2="154.87" stroke="#000" stroke-width="2.0" />
<line x1="550.25" y1="120.6" x2="558.25" y2="120.6" stroke="#000" stroke-width="2.0" />
<line x1="550.25" y1="154.87" x2="558.25" y2="154.87" stroke="#000" stroke-width="2.0" />
<line x1="557.39" y1="93.38" x2="557.39" y2="117.58" stroke="#000" stroke-width="2.0" />
<line x1="553.39" y1="93.38" x2="561.39" y2="93.38" stroke="#000" stroke-width="2.0" />
<line x1="553.39" y1="117.58" x2="561.39" y2="117.58" stroke="#000" stroke-width="2.0" />
<line x1="560.53" y1="114.37" x2="560.53" y2="131.05" stroke="#000" stroke-width="2.0" />
<line x1="556.53" y1="114.37" x2="564.53" y2="114.37" stroke="#000" stroke-width="2.0" />
<line x1="556.53" y1="131.05" x2="564.53" y2="131.05" stroke="#000" stroke-width="2.0" />
<line x1="563.67" y1="97.62" x2="563.67" y2="130.76" stroke="#000" stroke-width="2.0" />
<line x1="559.67" y1="97.62" x2="567.67" y2="97.62" stroke="#000" stroke-width="2.0" />
<line x1="559.67" y1="130.76" x2="567.67" y2="130.76" stroke="#000" stroke-width="2.0" />
<line x1="566.81" y1="108.51" x2="566.81" y2="125.79" stroke="#000" stroke-width="2.0" />
<line x1="562.81" y1="108.51" x2="570.81" y2="108.51" stroke="#000" stroke-width="2.0" />
<line x1="562.81" y1="125.79" x2="570.81" y2="125.79" stroke="#000" stroke-width="2.0" />
<line x1="569.95" y1="101.97" x2="569.95" y2="118.99" stroke="#000" stroke-width="2.0" />
<line x1="565.95" y1="101.97" x2="573.95" y2="101.97" stroke="#000" stroke-width="2.0" />
<line x1="565.95" y1="118.99" x2="573.95" y2="118.99" stroke="#000" stroke-width="2.0" />
<line x1="573.09" y1="89.33" x2="573.09" y2="127.25" stroke="#000" stroke-width="2.0" />
<line x1="569.09" y1="89.33" x2="577.09" y2="89.33" stroke="#000" stroke-width="2.0" />
<line x1="569.09" y1="127.25" x2="577.09" y2="127.25" stroke="#000" stroke-width="2.0" />
<line x1="576.23" y1="110.92" x2="576.23" y2="128.09" stroke="#000" stroke-width="2.0" />
<line x1="572.23" y1="110.92" x2="580.23" y2="110.92" stroke="#000" stroke-width="2.0" />
<line x1="572.23" y1="128.09" x2="580.23" y2="128.09" stroke="#000" stroke-width="2.0" />
<line x1="579.37" y1="104.42" x2="579.37" y2="125.9" stroke="#000" stroke-width="2.0" />
<line x1="575.37" y1="104.42" x2="583.37" y2="104.42" stroke="#000" stroke-width="2.0" />
<line x1="575.37" y1="125.9" x2="583.37" y2="125.9" stroke="#000" stroke-width="2.0" />
<line x1="582.51" y1="94.98" x2="582.51" y2="133.98" stroke="#000" stroke-width="2.0" />
<line x1="578.51" y1="94.98" x2="586.51" y2="94.98" stroke="#000" stroke-width="2.0" />
<line x1="578.51" y1="133.98" x2="586.51" y2="133.98" stroke="#000" stroke-width="2.0" />
<line x1="585.65" y1="107.67" x2="585.65" y2="126.92" stroke="#000" stroke-width="2.0" />
<line x1="581.65" y1="107.67" x2="589.65" y2="107.67" stroke="#000" stroke-width="2.0" />
<line x1="581.65" y1="126.92" x2="589.65" y2="126.92" stroke="#000" stroke-width="2.0" />
<line x1="588.79" y1="83.56" x2="588.79" y2="124.65" stroke="#000" stroke-width="2.0" />
<line x1="584.79" y1="83.56" x2="592.79" y2="83.56" stroke="#000" stroke-width="2.0" />
<line x1="584.79" y1="124.65" x2="592.79" y2="124.65" stroke="#000" stroke-width="2.0" />
<line x1="591.93" y1="96.4" x2="591.93" y2="130.78" stroke="#000" stroke-width="2.0" />
<line x1="587.93" y1="96.4" x2="595.93" y2="96.4" stroke="#000" stroke-width="2.0" />
<line x1="587.93" y1="130.78" x2="595.93" y2="130.78" stroke="#000" stroke-width="2.0" />
<line x1="595.07" y1="100.93" x2="595.07" y2="137.91" stroke="#000" stroke-width="2.0" />
<line x1="591.07" y1="100.93" x2="599.07" y2="100.93" stroke="#000" stroke-width="2.0" />
<line x1="591.07" y1="137.91" x2="599.07" y2="137.91" stroke="#000" stroke-width="2.0" />
<line x1="598.21" y1="92.37" x2="598.21" y2="130.15" stroke="#000" stroke-width="2.0" />
<line x1="594.21" y1="92.37" x2="602.21" y2="92.37" stroke="#000" stroke-width="2.0" />
<line x1="594.21" y1="130.15" x2="602.21" y2="130.15" stroke="#000" stroke-width="2.0" />
<line x1="601.35" y1="96.47" x2="601.35" y2="140.56" stroke="#000" stroke-width="2.0" />
<line x1="597.35" y1="96.47" x2="605.35" y2="96.47" stroke="#000" stroke-width="2.0" />
<line x1="597.35" y1="140.56" x2="605.35" y2="140.56" stroke="#000" stroke-width="2.0" />
<line x1="604.49" y1="113.02" x2="604.49" y2="152.8" stroke="#000" stroke-width="2.0" />
<line x1="600.49" y1="113.02" x2="608.49" y2="113.02" stroke="#000" stroke-width="2.0" />
<line x1="600.49" y1="152.8" x2="608.49" y2="152.8" stroke="#000" stroke-width="2.0" />
<line x1="607.63" y1="99.91" x2="607.63" y2="132.09" stroke="#000" stroke-width="2.0" />
<line x1="603.63" y1="99.91" x2="611.63" y2="99.91" stroke="#000" stroke-width="2.0" />
<line x1="603.63" y1="132.09" x2="611.63" y2="132.09" stroke="#000" stroke-width="2.0" />
<line x1="610.77" y1="99.35" x2="610.77" y2="117.89" stroke="#000" stroke-width="2.0" />
<line x1="606.77" y1="99.35" x2="614.77" y2="99.35" stroke="#000" stroke-width="2.0" />
<line x1="606.77" y1="117.89" x2="614.77" y2="117.89" stroke="#000" stroke-width="2.0" />
<line x1="613.91" y1="98.02" x2="613.91" y2="135.87" stroke="#000" stroke-width="2.0" />
<line x1="609.91" y1="98.02" x2="617.91" y2="98.02" stroke="#000" stroke-width="2.0" />
<line x1="609.91" y1="135.87" x2="617.91" y2="135.87" stroke="#000" stroke-width="2.0" />
<line x1="617.05" y1="107.63" x2="617.05" y2="138.35" stroke="#000" stroke-width="2.0" />
<line x1="613.05" y1="107.63" x2="621.05" y2="107.63" stroke="#000" stroke-width="2.0" />
<line x1="613.05" y1="138.35" x2="621.05" y2="138.35" stroke="#000" stroke-width="2.0" />
<line x1="620.19" y1="125.71" x2="620.19" y2="154.03" stroke="#000" stroke-width="2.0" />
<line x1="616.19" y1="125.71" x2="624.19" y2="125.71" stroke="#000" stroke-width="2.0" />
<line x1="616.19" y1="154.03" x2="624.19" y2="154.03" stroke="#000" stroke-width="2.0" />
<line x1="623.33" y1="101.56" x2="623.33" y2="125.89" stroke="#000" stroke-width="2.0" />
<line x1="619.33" y1="101.56" x2="627.33" y2="101.56" stroke="#000" stroke-width="2.0" />
<line x1="619.33" y1="125.89" x2="627.33" y2="125.89" stroke="#000" stroke-width="2.0" />
<line x1="626.48" y1="97.52" x2="626.48" y2="141.39" stroke="#000" stroke-width="2.0" />
<line x1="622.48" y1="97.52" x2="630.48" y2="97.52" stroke="#000" stroke-width="2.0" />
<line x1="622.48" y1="141.39" x2="630.48" y2="141.39" stroke="#000" stroke-width="2.0" />
<line x1="629.62" y1="112.99" x2="629.62" y2="144.65" stroke="#000" stroke-width="2.0" />
<line x1="625.62" y1="112.99" x2="633.62" y2="112.99" stroke="#000" stroke-width="2.0" />
<line x1="625.62" y1="144.65" x2="633.62" y2="144.65" stroke="#000" stroke-width="2.0" />
<line x1="632.76" y1="95.82" x2="632.76" y2="132.74" stroke="#000" stroke-width="2.0" />
<line x1="628.76" y1="95.82" x2="636.76" y2="95.82" stroke="#000" stroke-width="2.0" />
<line x1="628.76" y1="132.74" x2="636.76" y2="132.74" stroke="#000" stroke-width="2.0" />
<line x1="635.9" y1="91.35" x2="635.9" y2="131.8" stroke="#000" stroke-width="2.0" />
<line x1="631.9" y1="91.35" x2="639.9" y2="91.35" stroke="#000" stroke-width="2.0" />
<line x1="631.9" y1="131.8" x2="639.9" y2="131.8" stroke="#000" stroke-width="2.0" />
<line x1="639.04" y1="89.04" x2="639.04" y2="129.69" stroke="#000" stroke-width="2.0" />
<line x1="635.04" y1="89.04" x2="643.04" y2="89.04" stroke="#000" stroke-width="2.0" />
<line x1="635.04" y1="129.69" x2="643.04" y2="129.69" stroke="#000" stroke-width="2.0" />
<line x1="642.18" y1="95.93" x2="642.18" y2="136.92" stroke="#000" stroke-width="2.0" />
<line x1="638.18" y1="95.93" x2="646.18" y2="95.93" stroke="#000" stroke-width="2.0" />
<line x1="638.18" y1="136.92" x2="646.18" y2="136.92" stroke="#000" stroke-width="2.0" />
<line x1="645.32" y1="101.01" x2="645.32" y2="146.24" stroke="#000" stroke-width="2.0" />
<line x1="641.32" y1="101.01" x2="649.32" y2="101.01" stroke="#000" stroke-width="2.0" />
<line x1="641.32" y1="146.24" x2="649.32" y2="146.24" stroke="#000" stroke-width="2.0" />
<line x1="648.46" y1="110.43" x2="648.46" y2="133.11" stroke="#000" stroke-width="2.0" />
<line x1="644.46" y1="110.43" x2="652.46" y2="110.43" stroke="#000" stroke-width="2.0" />
<line x1="644.46" y1="133.11" x2="652.46" y2="133.11" stroke="#000" stroke-width="2.0" />
<line x1="471" y1="54.4" x2="492.2" y2="54.4" stroke="#9b9ba1" stroke-width="2.2" />
<line x1="471" y1="81.2" x2="492.2" y2="81.2" stroke="#000" stroke-width="2.2" />
<text x="505" y="58.8" font-size="16.2" text-anchor="start"  >D<tspan font-size="11.99" dy="3.89">2</tspan><tspan dy="-3.89">R</tspan></text>
<text x="505" y="85.8" font-size="16.2" text-anchor="start"  >D<tspan font-size="11.99" dy="3.89">2</tspan><tspan dy="-3.89">R + GRK2</tspan></text>
<text x="691.8" y="14.4" font-size="17.8" text-anchor="start" font-weight="bold" >C</text>
<text x="813" y="16.6" font-size="19.6" text-anchor="middle" font-weight="bold" >D<tspan font-size="14.5" dy="4.7">2</tspan><tspan dy="-4.7">R</tspan></text>
<line x1="773.4" y1="45.41" x2="773.4" y2="247.13" stroke="#000" stroke-width="2.0" />
<line x1="767.9" y1="46.41" x2="773.4" y2="46.41" stroke="#000" stroke-width="2.0" />
<text x="764.2" y="52.6" font-size="15.0" text-anchor="end" font-weight="bold" >150</text>
<line x1="767.9" y1="103.47" x2="773.4" y2="103.47" stroke="#000" stroke-width="2.0" />
<text x="764.2" y="109.67" font-size="15.0" text-anchor="end" font-weight="bold" >100</text>
<line x1="767.9" y1="160.53" x2="773.4" y2="160.53" stroke="#000" stroke-width="2.0" />
<text x="764.2" y="166.74" font-size="15.0" text-anchor="end" font-weight="bold" >50</text>
<line x1="767.9" y1="217.6" x2="773.4" y2="217.6" stroke="#000" stroke-width="2.0" />
<text x="764.2" y="223.8" font-size="15.0" text-anchor="end" font-weight="bold" >0</text>
<text transform="translate(711.6,146.1) rotate(-90)" font-size="16.7" text-anchor="middle" font-weight="bold">bβ-arrestin-1 translocation</text>
<text transform="translate(732.6,146.1) rotate(-90)" font-size="16.7" text-anchor="middle" font-weight="bold">(ΔBRET.sec)</text>
<line x1="772.4" y1="246.13" x2="852.5" y2="246.13" stroke="#000" stroke-width="2.0" />
<line x1="790.3" y1="246.13" x2="790.3" y2="252.13" stroke="#000" stroke-width="2.0" />
<line x1="834" y1="246.13" x2="834" y2="252.13" stroke="#000" stroke-width="2.0" />
<line x1="778" y1="217.6" x2="852" y2="217.6" stroke="#000" stroke-width="2" stroke-dasharray="2 4"/>
<line x1="782" y1="191.05" x2="799" y2="191.05" stroke="#000" stroke-width="2" />
<line x1="789" y1="186.28" x2="789" y2="195.81" stroke="#000" stroke-width="2.6" />
<line x1="786.25" y1="186.28" x2="791.75" y2="186.28" stroke="#000" stroke-width="2.6" />
<line x1="786.25" y1="195.81" x2="791.75" y2="195.81" stroke="#000" stroke-width="2.6" />
<circle cx="790.6" cy="184.05" r="3.85" fill="none" stroke="#9b9ba1" stroke-width="2.6"/>
<circle cx="786.5" cy="188.95" r="3.85" fill="none" stroke="#9b9ba1" stroke-width="2.6"/>
<circle cx="794.3" cy="200.14" r="3.85" fill="none" stroke="#9b9ba1" stroke-width="2.6"/>
<line x1="825" y1="109.18" x2="842.5" y2="109.18" stroke="#000" stroke-width="2" />
<line x1="833.7" y1="93.88" x2="833.7" y2="124.47" stroke="#000" stroke-width="2.9" />
<line x1="829.55" y1="93.88" x2="837.85" y2="93.88" stroke="#000" stroke-width="2.9" />
<line x1="829.55" y1="124.47" x2="837.85" y2="124.47" stroke="#000" stroke-width="2.9" />
<polygon points="833.7,75.16 829.6,82.54 837.8,82.54" fill="#000"/>
<polygon points="830.2,120.35 826.1,127.73 834.3,127.73" fill="#000"/>
<polygon points="837.5,121.72 833.4,129.1 841.6,129.1" fill="#000"/>
<circle cx="883.8" cy="144.6" r="3.85" fill="none" stroke="#9b9ba1" stroke-width="2.6"/>
<polygon points="883.8,167.86 879.55,175.51 888.05,175.51" fill="#000"/>
<text x="907" y="150.4" font-size="16.2" text-anchor="start"  >D<tspan font-size="11.99" dy="3.89">2</tspan><tspan dy="-3.89">R</tspan></text>
<text x="907" y="178.4" font-size="16.2" text-anchor="start"  >D<tspan font-size="11.99" dy="3.89">2</tspan><tspan dy="-3.89">R + GRK2</tspan></text>
<text transform="translate(795.8,265) rotate(-45)" font-size="15.0" text-anchor="end" font-weight="bold">10 <tspan font-weight="normal" font-family="Liberation Serif">μ</tspan>M dopamine</text>
<text transform="translate(839.5,265) rotate(-45)" font-size="15.0" text-anchor="end" font-weight="bold">10 <tspan font-weight="normal" font-family="Liberation Serif">μ</tspan>M dopamine</text>
<text x="3.7" y="392.7" font-size="17.8" text-anchor="start" font-weight="bold" >D</text>
<text x="220" y="397.2" font-size="19.6" text-anchor="middle" font-weight="bold" >CB<tspan font-size="14.5" dy="4.7">1</tspan><tspan dy="-4.7">, 31.6 <tspan font-weight="normal" font-family="Liberation Serif">μ</tspan>M 2-AG</tspan></text>
<line x1="107.6" y1="425.6" x2="107.6" y2="628.4" stroke="#000" stroke-width="2.0" />
<line x1="102.1" y1="426.6" x2="107.6" y2="426.6" stroke="#000" stroke-width="2.0" />
<text x="98.4" y="432.8" font-size="15.0" text-anchor="end" font-weight="bold" >0.15</text>
<line x1="102.1" y1="476.8" x2="107.6" y2="476.8" stroke="#000" stroke-width="2.0" />
<text x="98.4" y="483" font-size="15.0" text-anchor="end" font-weight="bold" >0.10</text>
<line x1="102.1" y1="527" x2="107.6" y2="527" stroke="#000" stroke-width="2.0" />
<text x="98.4" y="533.2" font-size="15.0" text-anchor="end" font-weight="bold" >0.05</text>
<line x1="102.1" y1="577.2" x2="107.6" y2="577.2" stroke="#000" stroke-width="2.0" />
<text x="98.4" y="583.4" font-size="15.0" text-anchor="end" font-weight="bold" >0.00</text>
<line x1="102.1" y1="627.4" x2="107.6" y2="627.4" stroke="#000" stroke-width="2.0" />
<text x="98.4" y="633.6" font-size="15.0" text-anchor="end" font-weight="bold" >-0.05</text>
<text transform="translate(38,526.8) rotate(-90)" font-size="16.7" text-anchor="middle" font-weight="bold">ΔBRET ratio (535/475)</text>
<text transform="translate(58.3,526.8) rotate(-90)" font-size="16.7" text-anchor="middle" font-weight="bold">(agonist - vehicle)</text>
<line x1="106.6" y1="627.4" x2="334" y2="627.4" stroke="#000" stroke-width="2.0" />
<line x1="140.1" y1="627.4" x2="140.1" y2="633.4" stroke="#000" stroke-width="2.0" />
<text x="140.1" y="651.1" font-size="15.0" text-anchor="middle" font-weight="bold" >0</text>
<line x1="204.4" y1="627.4" x2="204.4" y2="633.4" stroke="#000" stroke-width="2.0" />
<text x="204.4" y="651.1" font-size="15.0" text-anchor="middle" font-weight="bold" >500</text>
<line x1="268.7" y1="627.4" x2="268.7" y2="633.4" stroke="#000" stroke-width="2.0" />
<text x="268.7" y="651.1" font-size="15.0" text-anchor="middle" font-weight="bold" >1000</text>
<line x1="333" y1="627.4" x2="333" y2="633.4" stroke="#000" stroke-width="2.0" />
<text x="333" y="651.1" font-size="15.0" text-anchor="middle" font-weight="bold" >1500</text>
<text x="220.3" y="674.5" font-size="16.8" text-anchor="middle"  >Time (sec)</text>
<line x1="111.95" y1="577.2" x2="333" y2="577.2" stroke="#000" stroke-width="2" stroke-dasharray="2 4"/>
<line x1="140.1" y1="426.6" x2="140.1" y2="627.4" stroke="#000" stroke-width="2" stroke-dasharray="2 4"/>
<polyline fill="none" stroke="#9b9ba1" stroke-width="2.0" stroke-linejoin="round" points="108.72,551.23 111.86,551.93 115,556.39 118.14,562.22 121.27,570.75 124.41,580.96 127.55,582.66 130.69,579.82 133.82,589.13 136.96,583.67 140.1,580.21 143.24,553.48 146.38,564.22 149.51,556.36 152.65,561.05 155.79,546.85 158.93,566.92 162.06,556.59 165.2,549.26 168.34,567.16 171.48,566.82 174.62,549.23 177.75,557.04 180.89,551 184.03,560.47 187.17,549.53 190.31,558.74 193.44,557.9 196.58,577.2 199.72,572.39 202.86,570.81 205.99,572.18 209.13,553.09 212.27,551.79 215.41,532.02 218.55,567.16 221.68,543.75 224.82,567.16 227.96,565.25 231.1,537.04 234.24,567.16 237.37,572.9 240.51,557.75 243.65,516.96 246.79,551.04 249.92,527 253.06,552.37 256.2,542.29 259.34,565.15 262.48,551.09 265.61,561.33 268.75,542.77 271.89,593.26 275.03,521.98 278.16,538.18 281.3,564.15 284.44,549.97 287.58,537.04 290.72,539.38 293.85,546.78 296.99,567.16 300.13,532.02 303.27,539.17 306.41,550.44 309.54,535.65 312.68,567.16 315.82,532.02 318.96,545.09 322.09,532.02 325.23,544.96 328.37,547.66 331.51,496.88"/>
<line x1="108.72" y1="546.25" x2="108.72" y2="556.2" stroke="#9b9ba1" stroke-width="2.0" />
<line x1="104.72" y1="546.25" x2="112.72" y2="546.25" stroke="#9b9ba1" stroke-width="2.0" />
<line x1="104.72" y1="556.2" x2="112.72" y2="556.2" stroke="#9b9ba1" stroke-width="2.0" />
<line x1="111.86" y1="545.28" x2="111.86" y2="558.58" stroke="#9b9ba1" stroke-width="2.0" />
<line x1="107.86" y1="545.28" x2="115.86" y2="545.28" stroke="#9b9ba1" stroke-width="2.0" />
<line x1="107.86" y1="558.58" x2="115.86" y2="558.58" stroke="#9b9ba1" stroke-width="2.0" />
<line x1="115" y1="552.23" x2="115" y2="560.56" stroke="#9b9ba1" stroke-width="2.0" />
<line x1="111" y1="552.23" x2="119" y2="552.23" stroke="#9b9ba1" stroke-width="2.0" />
<line x1="111" y1="560.56" x2="119" y2="560.56" stroke="#9b9ba1" stroke-width="2.0" />
<line x1="118.14" y1="557.22" x2="118.14" y2="567.22" stroke="#9b9ba1" stroke-width="2.0" />
<line x1="114.14" y1="557.22" x2="122.14" y2="557.22" stroke="#9b9ba1" stroke-width="2.0" />
<line x1="114.14" y1="567.22" x2="122.14" y2="567.22" stroke="#9b9ba1" stroke-width="2.0" />
<line x1="121.27" y1="566.31" x2="121.27" y2="575.19" stroke="#9b9ba1" stroke-width="2.0" />
<line x1="117.27" y1="566.31" x2="125.27" y2="566.31" stroke="#9b9ba1" stroke-width="2.0" />
<line x1="117.27" y1="575.19" x2="125.27" y2="575.19" stroke="#9b9ba1" stroke-width="2.0" />
<line x1="124.41" y1="577.41" x2="124.41" y2="584.52" stroke="#9b9ba1" stroke-width="2.0" />
<line x1="120.41" y1="577.41" x2="128.41" y2="577.41" stroke="#9b9ba1" stroke-width="2.0" />
<line x1="120.41" y1="584.52" x2="128.41" y2="584.52" stroke="#9b9ba1" stroke-width="2.0" />
<line x1="127.55" y1="575.77" x2="127.55" y2="589.56" stroke="#9b9ba1" stroke-width="2.0" />
<line x1="123.55" y1="575.77" x2="131.55" y2="575.77" stroke="#9b9ba1" stroke-width="2.0" />
<line x1="123.55" y1="589.56" x2="131.55" y2="589.56" stroke="#9b9ba1" stroke-width="2.0" />
<line x1="130.69" y1="574.37" x2="130.69" y2="585.27" stroke="#9b9ba1" stroke-width="2.0" />
<line x1="126.69" y1="574.37" x2="134.69" y2="574.37" stroke="#9b9ba1" stroke-width="2.0" />
<line x1="126.69" y1="585.27" x2="134.69" y2="585.27" stroke="#9b9ba1" stroke-width="2.0" />
<line x1="133.82" y1="583.28" x2="133.82" y2="594.98" stroke="#9b9ba1" stroke-width="2.0" />
<line x1="129.82" y1="583.28" x2="137.82" y2="583.28" stroke="#9b9ba1" stroke-width="2.0" />
<line x1="129.82" y1="594.98" x2="137.82" y2="594.98" stroke="#9b9ba1" stroke-width="2.0" />
<line x1="136.96" y1="574.89" x2="136.96" y2="592.46" stroke="#9b9ba1" stroke-width="2.0" />
<line x1="132.96" y1="574.89" x2="140.96" y2="574.89" stroke="#9b9ba1" stroke-width="2.0" />
<line x1="132.96" y1="592.46" x2="140.96" y2="592.46" stroke="#9b9ba1" stroke-width="2.0" />
<line x1="140.1" y1="565.15" x2="140.1" y2="580.21" stroke="#9b9ba1" stroke-width="2.0" />
<line x1="136.1" y1="565.15" x2="144.1" y2="565.15" stroke="#9b9ba1" stroke-width="2.0" />
<line x1="143.24" y1="546.22" x2="143.24" y2="553.48" stroke="#9b9ba1" stroke-width="2.0" />
<line x1="139.24" y1="546.22" x2="147.24" y2="546.22" stroke="#9b9ba1" stroke-width="2.0" />
<line x1="146.38" y1="558.37" x2="146.38" y2="564.22" stroke="#9b9ba1" stroke-width="2.0" />
<line x1="142.38" y1="558.37" x2="150.38" y2="558.37" stroke="#9b9ba1" stroke-width="2.0" />
<line x1="149.51" y1="550.46" x2="149.51" y2="556.36" stroke="#9b9ba1" stroke-width="2.0" />
<line x1="145.51" y1="550.46" x2="153.51" y2="550.46" stroke="#9b9ba1" stroke-width="2.0" />
<line x1="152.65" y1="550.74" x2="152.65" y2="561.05" stroke="#9b9ba1" stroke-width="2.0" />
<line x1="148.65" y1="550.74" x2="156.65" y2="550.74" stroke="#9b9ba1" stroke-width="2.0" />
<line x1="155.79" y1="536.39" x2="155.79" y2="546.85" stroke="#9b9ba1" stroke-width="2.0" />
<line x1="151.79" y1="536.39" x2="159.79" y2="536.39" stroke="#9b9ba1" stroke-width="2.0" />
<line x1="158.93" y1="560.35" x2="158.93" y2="566.92" stroke="#9b9ba1" stroke-width="2.0" />
<line x1="154.93" y1="560.35" x2="162.93" y2="560.35" stroke="#9b9ba1" stroke-width="2.0" />
<line x1="162.06" y1="544.03" x2="162.06" y2="556.59" stroke="#9b9ba1" stroke-width="2.0" />
<line x1="158.06" y1="544.03" x2="166.06" y2="544.03" stroke="#9b9ba1" stroke-width="2.0" />
<line x1="165.2" y1="540.61" x2="165.2" y2="549.26" stroke="#9b9ba1" stroke-width="2.0" />
<line x1="161.2" y1="540.61" x2="169.2" y2="540.61" stroke="#9b9ba1" stroke-width="2.0" />
<line x1="168.34" y1="562.14" x2="168.34" y2="567.16" stroke="#9b9ba1" stroke-width="2.0" />
<line x1="164.34" y1="562.14" x2="172.34" y2="562.14" stroke="#9b9ba1" stroke-width="2.0" />
<line x1="171.48" y1="551.96" x2="171.48" y2="566.82" stroke="#9b9ba1" stroke-width="2.0" />
<line x1="167.48" y1="551.96" x2="175.48" y2="551.96" stroke="#9b9ba1" stroke-width="2.0" />
<line x1="174.62" y1="538.69" x2="174.62" y2="549.23" stroke="#9b9ba1" stroke-width="2.0" />
<line x1="170.62" y1="538.69" x2="178.62" y2="538.69" stroke="#9b9ba1" stroke-width="2.0" />
<line x1="177.75" y1="545.02" x2="177.75" y2="557.04" stroke="#9b9ba1" stroke-width="2.0" />
<line x1="173.75" y1="545.02" x2="181.75" y2="545.02" stroke="#9b9ba1" stroke-width="2.0" />
<line x1="180.89" y1="538.69" x2="180.89" y2="551" stroke="#9b9ba1" stroke-width="2.0" />
<line x1="176.89" y1="538.69" x2="184.89" y2="538.69" stroke="#9b9ba1" stroke-width="2.0" />
<line x1="184.03" y1="545.04" x2="184.03" y2="560.47" stroke="#9b9ba1" stroke-width="2.0" />
<line x1="180.03" y1="545.04" x2="188.03" y2="545.04" stroke="#9b9ba1" stroke-width="2.0" />
<line x1="187.17" y1="537.34" x2="187.17" y2="549.53" stroke="#9b9ba1" stroke-width="2.0" />
<line x1="183.17" y1="537.34" x2="191.17" y2="537.34" stroke="#9b9ba1" stroke-width="2.0" />
<line x1="190.31" y1="544.29" x2="190.31" y2="558.74" stroke="#9b9ba1" stroke-width="2.0" />
<line x1="186.31" y1="544.29" x2="194.31" y2="544.29" stroke="#9b9ba1" stroke-width="2.0" />
<line x1="193.44" y1="547.85" x2="193.44" y2="557.9" stroke="#9b9ba1" stroke-width="2.0" />
<line x1="189.44" y1="547.85" x2="197.44" y2="547.85" stroke="#9b9ba1" stroke-width="2.0" />
<line x1="196.58" y1="571.18" x2="196.58" y2="577.2" stroke="#9b9ba1" stroke-width="2.0" />
<line x1="192.58" y1="571.18" x2="200.58" y2="571.18" stroke="#9b9ba1" stroke-width="2.0" />
<line x1="199.72" y1="555.9" x2="199.72" y2="572.39" stroke="#9b9ba1" stroke-width="2.0" />
<line x1="195.72" y1="555.9" x2="203.72" y2="555.9" stroke="#9b9ba1" stroke-width="2.0" />
<line x1="202.86" y1="559.39" x2="202.86" y2="570.81" stroke="#9b9ba1" stroke-width="2.0" />
<line x1="198.86" y1="559.39" x2="206.86" y2="559.39" stroke="#9b9ba1" stroke-width="2.0" />
<line x1="205.99" y1="566.16" x2="205.99" y2="572.18" stroke="#9b9ba1" stroke-width="2.0" />
<line x1="201.99" y1="566.16" x2="209.99" y2="566.16" stroke="#9b9ba1" stroke-width="2.0" />
<line x1="209.13" y1="538.25" x2="209.13" y2="553.09" stroke="#9b9ba1" stroke-width="2.0" />
<line x1="205.13" y1="538.25" x2="213.13" y2="538.25" stroke="#9b9ba1" stroke-width="2.0" />
<line x1="212.27" y1="540.27" x2="212.27" y2="551.79" stroke="#9b9ba1" stroke-width="2.0" />
<line x1="208.27" y1="540.27" x2="216.27" y2="540.27" stroke="#9b9ba1" stroke-width="2.0" />
<line x1="215.41" y1="513.95" x2="215.41" y2="532.02" stroke="#9b9ba1" stroke-width="2.0" />
<line x1="211.41" y1="513.95" x2="219.41" y2="513.95" stroke="#9b9ba1" stroke-width="2.0" />
<line x1="218.55" y1="562.14" x2="218.55" y2="567.16" stroke="#9b9ba1" stroke-width="2.0" />
<line x1="214.55" y1="562.14" x2="222.55" y2="562.14" stroke="#9b9ba1" stroke-width="2.0" />
<line x1="221.68" y1="526.69" x2="221.68" y2="543.75" stroke="#9b9ba1" stroke-width="2.0" />
<line x1="217.68" y1="526.69" x2="225.68" y2="526.69" stroke="#9b9ba1" stroke-width="2.0" />
<line x1="224.82" y1="562.14" x2="224.82" y2="567.16" stroke="#9b9ba1" stroke-width="2.0" />
<line x1="220.82" y1="562.14" x2="228.82" y2="562.14" stroke="#9b9ba1" stroke-width="2.0" />
<line x1="227.96" y1="550.78" x2="227.96" y2="565.25" stroke="#9b9ba1" stroke-width="2.0" />
<line x1="223.96" y1="550.78" x2="231.96" y2="550.78" stroke="#9b9ba1" stroke-width="2.0" />
<line x1="231.1" y1="516.96" x2="231.1" y2="537.04" stroke="#9b9ba1" stroke-width="2.0" />
<line x1="227.1" y1="516.96" x2="235.1" y2="516.96" stroke="#9b9ba1" stroke-width="2.0" />
<line x1="234.24" y1="562.14" x2="234.24" y2="567.16" stroke="#9b9ba1" stroke-width="2.0" />
<line x1="230.24" y1="562.14" x2="238.24" y2="562.14" stroke="#9b9ba1" stroke-width="2.0" />
<line x1="237.37" y1="559.82" x2="237.37" y2="572.9" stroke="#9b9ba1" stroke-width="2.0" />
<line x1="233.37" y1="559.82" x2="241.37" y2="559.82" stroke="#9b9ba1" stroke-width="2.0" />
<line x1="240.51" y1="547.97" x2="240.51" y2="557.75" stroke="#9b9ba1" stroke-width="2.0" />
<line x1="236.51" y1="547.97" x2="244.51" y2="547.97" stroke="#9b9ba1" stroke-width="2.0" />
<line x1="243.65" y1="491.86" x2="243.65" y2="516.96" stroke="#9b9ba1" stroke-width="2.0" />
<line x1="239.65" y1="491.86" x2="247.65" y2="491.86" stroke="#9b9ba1" stroke-width="2.0" />
<line x1="246.79" y1="537.62" x2="246.79" y2="551.04" stroke="#9b9ba1" stroke-width="2.0" />
<line x1="242.79" y1="537.62" x2="250.79" y2="537.62" stroke="#9b9ba1" stroke-width="2.0" />
<line x1="249.92" y1="506.92" x2="249.92" y2="527" stroke="#9b9ba1" stroke-width="2.0" />
<line x1="245.92" y1="506.92" x2="253.92" y2="506.92" stroke="#9b9ba1" stroke-width="2.0" />
<line x1="253.06" y1="534.71" x2="253.06" y2="552.37" stroke="#9b9ba1" stroke-width="2.0" />
<line x1="249.06" y1="534.71" x2="257.06" y2="534.71" stroke="#9b9ba1" stroke-width="2.0" />
<line x1="256.2" y1="533.87" x2="256.2" y2="542.29" stroke="#9b9ba1" stroke-width="2.0" />
<line x1="252.2" y1="533.87" x2="260.2" y2="533.87" stroke="#9b9ba1" stroke-width="2.0" />
<line x1="259.34" y1="559.13" x2="259.34" y2="565.15" stroke="#9b9ba1" stroke-width="2.0" />
<line x1="255.34" y1="559.13" x2="263.34" y2="559.13" stroke="#9b9ba1" stroke-width="2.0" />
<line x1="262.48" y1="534.22" x2="262.48" y2="551.09" stroke="#9b9ba1" stroke-width="2.0" />
<line x1="258.48" y1="534.22" x2="266.48" y2="534.22" stroke="#9b9ba1" stroke-width="2.0" />
<line x1="265.61" y1="550.6" x2="265.61" y2="561.33" stroke="#9b9ba1" stroke-width="2.0" />
<line x1="261.61" y1="550.6" x2="269.61" y2="550.6" stroke="#9b9ba1" stroke-width="2.0" />
<line x1="268.75" y1="533.2" x2="268.75" y2="542.77" stroke="#9b9ba1" stroke-width="2.0" />
<line x1="264.75" y1="533.2" x2="272.75" y2="533.2" stroke="#9b9ba1" stroke-width="2.0" />
<line x1="271.89" y1="587.24" x2="271.89" y2="593.26" stroke="#9b9ba1" stroke-width="2.0" />
<line x1="267.89" y1="587.24" x2="275.89" y2="587.24" stroke="#9b9ba1" stroke-width="2.0" />
<line x1="275.03" y1="496.88" x2="275.03" y2="521.98" stroke="#9b9ba1" stroke-width="2.0" />
<line x1="271.03" y1="496.88" x2="279.03" y2="496.88" stroke="#9b9ba1" stroke-width="2.0" />
<line x1="278.16" y1="521.8" x2="278.16" y2="538.18" stroke="#9b9ba1" stroke-width="2.0" />
<line x1="274.16" y1="521.8" x2="282.16" y2="521.8" stroke="#9b9ba1" stroke-width="2.0" />
<line x1="281.3" y1="551.52" x2="281.3" y2="564.15" stroke="#9b9ba1" stroke-width="2.0" />
<line x1="277.3" y1="551.52" x2="285.3" y2="551.52" stroke="#9b9ba1" stroke-width="2.0" />
<line x1="284.44" y1="534.37" x2="284.44" y2="549.97" stroke="#9b9ba1" stroke-width="2.0" />
<line x1="280.44" y1="534.37" x2="288.44" y2="534.37" stroke="#9b9ba1" stroke-width="2.0" />
<line x1="287.58" y1="516.96" x2="287.58" y2="537.04" stroke="#9b9ba1" stroke-width="2.0" />
<line x1="283.58" y1="516.96" x2="291.58" y2="516.96" stroke="#9b9ba1" stroke-width="2.0" />
<line x1="290.72" y1="528.42" x2="290.72" y2="539.38" stroke="#9b9ba1" stroke-width="2.0" />
<line x1="286.72" y1="528.42" x2="294.72" y2="528.42" stroke="#9b9ba1" stroke-width="2.0" />
<line x1="293.85" y1="535.94" x2="293.85" y2="546.78" stroke="#9b9ba1" stroke-width="2.0" />
<line x1="289.85" y1="535.94" x2="297.85" y2="535.94" stroke="#9b9ba1" stroke-width="2.0" />
<line x1="296.99" y1="561.14" x2="296.99" y2="567.16" stroke="#9b9ba1" stroke-width="2.0" />
<line x1="292.99" y1="561.14" x2="300.99" y2="561.14" stroke="#9b9ba1" stroke-width="2.0" />
<line x1="300.13" y1="513.95" x2="300.13" y2="532.02" stroke="#9b9ba1" stroke-width="2.0" />
<line x1="296.13" y1="513.95" x2="304.13" y2="513.95" stroke="#9b9ba1" stroke-width="2.0" />
<line x1="303.27" y1="523.27" x2="303.27" y2="539.17" stroke="#9b9ba1" stroke-width="2.0" />
<line x1="299.27" y1="523.27" x2="307.27" y2="523.27" stroke="#9b9ba1" stroke-width="2.0" />
<line x1="306.41" y1="536.16" x2="306.41" y2="550.44" stroke="#9b9ba1" stroke-width="2.0" />
<line x1="302.41" y1="536.16" x2="310.41" y2="536.16" stroke="#9b9ba1" stroke-width="2.0" />
<line x1="309.54" y1="523.83" x2="309.54" y2="535.65" stroke="#9b9ba1" stroke-width="2.0" />
<line x1="305.54" y1="523.83" x2="313.54" y2="523.83" stroke="#9b9ba1" stroke-width="2.0" />
<line x1="312.68" y1="561.14" x2="312.68" y2="567.16" stroke="#9b9ba1" stroke-width="2.0" />
<line x1="308.68" y1="561.14" x2="316.68" y2="561.14" stroke="#9b9ba1" stroke-width="2.0" />
<line x1="315.82" y1="509.93" x2="315.82" y2="532.02" stroke="#9b9ba1" stroke-width="2.0" />
<line x1="311.82" y1="509.93" x2="319.82" y2="509.93" stroke="#9b9ba1" stroke-width="2.0" />
<line x1="318.96" y1="531.95" x2="318.96" y2="545.09" stroke="#9b9ba1" stroke-width="2.0" />
<line x1="314.96" y1="531.95" x2="322.96" y2="531.95" stroke="#9b9ba1" stroke-width="2.0" />
<line x1="322.09" y1="509.93" x2="322.09" y2="532.02" stroke="#9b9ba1" stroke-width="2.0" />
<line x1="318.09" y1="509.93" x2="326.09" y2="509.93" stroke="#9b9ba1" stroke-width="2.0" />
<line x1="325.23" y1="532.44" x2="325.23" y2="544.96" stroke="#9b9ba1" stroke-width="2.0" />
<line x1="321.23" y1="532.44" x2="329.23" y2="532.44" stroke="#9b9ba1" stroke-width="2.0" />
<line x1="328.37" y1="534.52" x2="328.37" y2="547.66" stroke="#9b9ba1" stroke-width="2.0" />
<line x1="324.37" y1="534.52" x2="332.37" y2="534.52" stroke="#9b9ba1" stroke-width="2.0" />
<line x1="331.51" y1="467.76" x2="331.51" y2="496.88" stroke="#9b9ba1" stroke-width="2.0" />
<line x1="327.51" y1="467.76" x2="335.51" y2="467.76" stroke="#9b9ba1" stroke-width="2.0" />
<polyline fill="none" stroke="#000" stroke-width="2.0" stroke-linejoin="round" points="108.72,565.53 111.86,575.3 115,576.58 118.14,578.58 121.27,575.96 124.41,580.19 127.55,576.24 130.69,580.36 133.82,581.31 136.96,576.7 140.1,568.11 143.24,559.06 146.38,557.51 149.51,555.37 152.65,553.33 155.79,554.05 158.93,552.03 162.06,551.67 165.2,556.66 168.34,555.79 171.48,549.29 174.62,554.28 177.75,551.6 180.89,552.18 184.03,555.36 187.17,552.46 190.31,552.44 193.44,548.64 196.58,547.38 199.72,550.51 202.86,548.01 205.99,545.8 209.13,555.17 212.27,542.8 215.41,551.32 218.55,541.31 221.68,541.3 224.82,549.22 227.96,537.59 231.1,542.75 234.24,549.64 237.37,544.67 240.51,540.25 243.65,545.21 246.79,543.79 249.92,548.2 253.06,537.21 256.2,546.38 259.34,543.6 262.48,544.14 265.61,542.14 268.75,552.25 271.89,540.86 275.03,547.05 278.16,541.84 281.3,547.35 284.44,542.03 287.58,551.39 290.72,535.68 293.85,542.21 296.99,545.15 300.13,547.61 303.27,545.11 306.41,548.64 309.54,535.16 312.68,552.76 315.82,547.17 318.96,545.71 322.09,557.12 325.23,554.39 328.37,545.49 331.51,544.19"/>
<line x1="108.72" y1="563" x2="108.72" y2="568.05" stroke="#000" stroke-width="2.0" />
<line x1="104.72" y1="563" x2="112.72" y2="563" stroke="#000" stroke-width="2.0" />
<line x1="104.72" y1="568.05" x2="112.72" y2="568.05" stroke="#000" stroke-width="2.0" />
<line x1="111.86" y1="571.44" x2="111.86" y2="579.15" stroke="#000" stroke-width="2.0" />
<line x1="107.86" y1="571.44" x2="115.86" y2="571.44" stroke="#000" stroke-width="2.0" />
<line x1="107.86" y1="579.15" x2="115.86" y2="579.15" stroke="#000" stroke-width="2.0" />
<line x1="115" y1="572.55" x2="115" y2="580.6" stroke="#000" stroke-width="2.0" />
<line x1="111" y1="572.55" x2="119" y2="572.55" stroke="#000" stroke-width="2.0" />
<line x1="111" y1="580.6" x2="119" y2="580.6" stroke="#000" stroke-width="2.0" />
<line x1="118.14" y1="574.42" x2="118.14" y2="582.74" stroke="#000" stroke-width="2.0" />
<line x1="114.14" y1="574.42" x2="122.14" y2="574.42" stroke="#000" stroke-width="2.0" />
<line x1="114.14" y1="582.74" x2="122.14" y2="582.74" stroke="#000" stroke-width="2.0" />
<line x1="121.27" y1="571.84" x2="121.27" y2="580.08" stroke="#000" stroke-width="2.0" />
<line x1="117.27" y1="571.84" x2="125.27" y2="571.84" stroke="#000" stroke-width="2.0" />
<line x1="117.27" y1="580.08" x2="125.27" y2="580.08" stroke="#000" stroke-width="2.0" />
<line x1="124.41" y1="574.71" x2="124.41" y2="585.67" stroke="#000" stroke-width="2.0" />
<line x1="120.41" y1="574.71" x2="128.41" y2="574.71" stroke="#000" stroke-width="2.0" />
<line x1="120.41" y1="585.67" x2="128.41" y2="585.67" stroke="#000" stroke-width="2.0" />
<line x1="127.55" y1="571.25" x2="127.55" y2="581.24" stroke="#000" stroke-width="2.0" />
<line x1="123.55" y1="571.25" x2="131.55" y2="571.25" stroke="#000" stroke-width="2.0" />
<line x1="123.55" y1="581.24" x2="131.55" y2="581.24" stroke="#000" stroke-width="2.0" />
<line x1="130.69" y1="575.12" x2="130.69" y2="585.6" stroke="#000" stroke-width="2.0" />
<line x1="126.69" y1="575.12" x2="134.69" y2="575.12" stroke="#000" stroke-width="2.0" />
<line x1="126.69" y1="585.6" x2="134.69" y2="585.6" stroke="#000" stroke-width="2.0" />
<line x1="133.82" y1="577.05" x2="133.82" y2="585.56" stroke="#000" stroke-width="2.0" />
<line x1="129.82" y1="577.05" x2="137.82" y2="577.05" stroke="#000" stroke-width="2.0" />
<line x1="129.82" y1="585.56" x2="137.82" y2="585.56" stroke="#000" stroke-width="2.0" />
<line x1="136.96" y1="571.06" x2="136.96" y2="582.33" stroke="#000" stroke-width="2.0" />
<line x1="132.96" y1="571.06" x2="140.96" y2="571.06" stroke="#000" stroke-width="2.0" />
<line x1="132.96" y1="582.33" x2="140.96" y2="582.33" stroke="#000" stroke-width="2.0" />
<line x1="140.1" y1="562.11" x2="140.1" y2="574.11" stroke="#000" stroke-width="2.0" />
<line x1="136.1" y1="562.11" x2="144.1" y2="562.11" stroke="#000" stroke-width="2.0" />
<line x1="136.1" y1="574.11" x2="144.1" y2="574.11" stroke="#000" stroke-width="2.0" />
<line x1="143.24" y1="554.28" x2="143.24" y2="563.84" stroke="#000" stroke-width="2.0" />
<line x1="139.24" y1="554.28" x2="147.24" y2="554.28" stroke="#000" stroke-width="2.0" />
<line x1="139.24" y1="563.84" x2="147.24" y2="563.84" stroke="#000" stroke-width="2.0" />
<line x1="146.38" y1="553.29" x2="146.38" y2="561.73" stroke="#000" stroke-width="2.0" />
<line x1="142.38" y1="553.29" x2="150.38" y2="553.29" stroke="#000" stroke-width="2.0" />
<line x1="142.38" y1="561.73" x2="150.38" y2="561.73" stroke="#000" stroke-width="2.0" />
<line x1="149.51" y1="551.72" x2="149.51" y2="559.01" stroke="#000" stroke-width="2.0" />
<line x1="145.51" y1="551.72" x2="153.51" y2="551.72" stroke="#000" stroke-width="2.0" />
<line x1="145.51" y1="559.01" x2="153.51" y2="559.01" stroke="#000" stroke-width="2.0" />
<line x1="152.65" y1="549.33" x2="152.65" y2="557.34" stroke="#000" stroke-width="2.0" />
<line x1="148.65" y1="549.33" x2="156.65" y2="549.33" stroke="#000" stroke-width="2.0" />
<line x1="148.65" y1="557.34" x2="156.65" y2="557.34" stroke="#000" stroke-width="2.0" />
<line x1="155.79" y1="547.58" x2="155.79" y2="560.52" stroke="#000" stroke-width="2.0" />
<line x1="151.79" y1="547.58" x2="159.79" y2="547.58" stroke="#000" stroke-width="2.0" />
<line x1="151.79" y1="560.52" x2="159.79" y2="560.52" stroke="#000" stroke-width="2.0" />
<line x1="158.93" y1="547.9" x2="158.93" y2="556.17" stroke="#000" stroke-width="2.0" />
<line x1="154.93" y1="547.9" x2="162.93" y2="547.9" stroke="#000" stroke-width="2.0" />
<line x1="154.93" y1="556.17" x2="162.93" y2="556.17" stroke="#000" stroke-width="2.0" />
<line x1="162.06" y1="546.43" x2="162.06" y2="556.91" stroke="#000" stroke-width="2.0" />
<line x1="158.06" y1="546.43" x2="166.06" y2="546.43" stroke="#000" stroke-width="2.0" />
<line x1="158.06" y1="556.91" x2="166.06" y2="556.91" stroke="#000" stroke-width="2.0" />
<line x1="165.2" y1="550.7" x2="165.2" y2="562.61" stroke="#000" stroke-width="2.0" />
<line x1="161.2" y1="550.7" x2="169.2" y2="550.7" stroke="#000" stroke-width="2.0" />
<line x1="161.2" y1="562.61" x2="169.2" y2="562.61" stroke="#000" stroke-width="2.0" />
<line x1="168.34" y1="551.96" x2="168.34" y2="559.63" stroke="#000" stroke-width="2.0" />
<line x1="164.34" y1="551.96" x2="172.34" y2="551.96" stroke="#000" stroke-width="2.0" />
<line x1="164.34" y1="559.63" x2="172.34" y2="559.63" stroke="#000" stroke-width="2.0" />
<line x1="171.48" y1="542.25" x2="171.48" y2="556.32" stroke="#000" stroke-width="2.0" />
<line x1="167.48" y1="542.25" x2="175.48" y2="542.25" stroke="#000" stroke-width="2.0" />
<line x1="167.48" y1="556.32" x2="175.48" y2="556.32" stroke="#000" stroke-width="2.0" />
<line x1="174.62" y1="547.11" x2="174.62" y2="561.45" stroke="#000" stroke-width="2.0" />
<line x1="170.62" y1="547.11" x2="178.62" y2="547.11" stroke="#000" stroke-width="2.0" />
<line x1="170.62" y1="561.45" x2="178.62" y2="561.45" stroke="#000" stroke-width="2.0" />
<line x1="177.75" y1="545.18" x2="177.75" y2="558.02" stroke="#000" stroke-width="2.0" />
<line x1="173.75" y1="545.18" x2="181.75" y2="545.18" stroke="#000" stroke-width="2.0" />
<line x1="173.75" y1="558.02" x2="181.75" y2="558.02" stroke="#000" stroke-width="2.0" />
<line x1="180.89" y1="544.69" x2="180.89" y2="559.67" stroke="#000" stroke-width="2.0" />
<line x1="176.89" y1="544.69" x2="184.89" y2="544.69" stroke="#000" stroke-width="2.0" />
<line x1="176.89" y1="559.67" x2="184.89" y2="559.67" stroke="#000" stroke-width="2.0" />
<line x1="184.03" y1="547.33" x2="184.03" y2="563.38" stroke="#000" stroke-width="2.0" />
<line x1="180.03" y1="547.33" x2="188.03" y2="547.33" stroke="#000" stroke-width="2.0" />
<line x1="180.03" y1="563.38" x2="188.03" y2="563.38" stroke="#000" stroke-width="2.0" />
<line x1="187.17" y1="547.38" x2="187.17" y2="557.55" stroke="#000" stroke-width="2.0" />
<line x1="183.17" y1="547.38" x2="191.17" y2="547.38" stroke="#000" stroke-width="2.0" />
<line x1="183.17" y1="557.55" x2="191.17" y2="557.55" stroke="#000" stroke-width="2.0" />
<line x1="190.31" y1="548.58" x2="190.31" y2="556.29" stroke="#000" stroke-width="2.0" />
<line x1="186.31" y1="548.58" x2="194.31" y2="548.58" stroke="#000" stroke-width="2.0" />
<line x1="186.31" y1="556.29" x2="194.31" y2="556.29" stroke="#000" stroke-width="2.0" />
<line x1="193.44" y1="543.87" x2="193.44" y2="553.41" stroke="#000" stroke-width="2.0" />
<line x1="189.44" y1="543.87" x2="197.44" y2="543.87" stroke="#000" stroke-width="2.0" />
<line x1="189.44" y1="553.41" x2="197.44" y2="553.41" stroke="#000" stroke-width="2.0" />
<line x1="196.58" y1="542.96" x2="196.58" y2="551.81" stroke="#000" stroke-width="2.0" />
<line x1="192.58" y1="542.96" x2="200.58" y2="542.96" stroke="#000" stroke-width="2.0" />
<line x1="192.58" y1="551.81" x2="200.58" y2="551.81" stroke="#000" stroke-width="2.0" />
<line x1="199.72" y1="545.45" x2="199.72" y2="555.58" stroke="#000" stroke-width="2.0" />
<line x1="195.72" y1="545.45" x2="203.72" y2="545.45" stroke="#000" stroke-width="2.0" />
<line x1="195.72" y1="555.58" x2="203.72" y2="555.58" stroke="#000" stroke-width="2.0" />
<line x1="202.86" y1="541.01" x2="202.86" y2="555.02" stroke="#000" stroke-width="2.0" />
<line x1="198.86" y1="541.01" x2="206.86" y2="541.01" stroke="#000" stroke-width="2.0" />
<line x1="198.86" y1="555.02" x2="206.86" y2="555.02" stroke="#000" stroke-width="2.0" />
<line x1="205.99" y1="538.32" x2="205.99" y2="553.27" stroke="#000" stroke-width="2.0" />
<line x1="201.99" y1="538.32" x2="209.99" y2="538.32" stroke="#000" stroke-width="2.0" />
<line x1="201.99" y1="553.27" x2="209.99" y2="553.27" stroke="#000" stroke-width="2.0" />
<line x1="209.13" y1="544.06" x2="209.13" y2="566.27" stroke="#000" stroke-width="2.0" />
<line x1="205.13" y1="544.06" x2="213.13" y2="544.06" stroke="#000" stroke-width="2.0" />
<line x1="205.13" y1="566.27" x2="213.13" y2="566.27" stroke="#000" stroke-width="2.0" />
<line x1="212.27" y1="534.96" x2="212.27" y2="550.65" stroke="#000" stroke-width="2.0" />
<line x1="208.27" y1="534.96" x2="216.27" y2="534.96" stroke="#000" stroke-width="2.0" />
<line x1="208.27" y1="550.65" x2="216.27" y2="550.65" stroke="#000" stroke-width="2.0" />
<line x1="215.41" y1="544.56" x2="215.41" y2="558.08" stroke="#000" stroke-width="2.0" />
<line x1="211.41" y1="544.56" x2="219.41" y2="544.56" stroke="#000" stroke-width="2.0" />
<line x1="211.41" y1="558.08" x2="219.41" y2="558.08" stroke="#000" stroke-width="2.0" />
<line x1="218.55" y1="532.98" x2="218.55" y2="549.65" stroke="#000" stroke-width="2.0" />
<line x1="214.55" y1="532.98" x2="222.55" y2="532.98" stroke="#000" stroke-width="2.0" />
<line x1="214.55" y1="549.65" x2="222.55" y2="549.65" stroke="#000" stroke-width="2.0" />
<line x1="221.68" y1="529.46" x2="221.68" y2="553.14" stroke="#000" stroke-width="2.0" />
<line x1="217.68" y1="529.46" x2="225.68" y2="529.46" stroke="#000" stroke-width="2.0" />
<line x1="217.68" y1="553.14" x2="225.68" y2="553.14" stroke="#000" stroke-width="2.0" />
<line x1="224.82" y1="538.89" x2="224.82" y2="559.54" stroke="#000" stroke-width="2.0" />
<line x1="220.82" y1="538.89" x2="228.82" y2="538.89" stroke="#000" stroke-width="2.0" />
<line x1="220.82" y1="559.54" x2="228.82" y2="559.54" stroke="#000" stroke-width="2.0" />
<line x1="227.96" y1="530.39" x2="227.96" y2="544.8" stroke="#000" stroke-width="2.0" />
<line x1="223.96" y1="530.39" x2="231.96" y2="530.39" stroke="#000" stroke-width="2.0" />
<line x1="223.96" y1="544.8" x2="231.96" y2="544.8" stroke="#000" stroke-width="2.0" />
<line x1="231.1" y1="536.92" x2="231.1" y2="548.58" stroke="#000" stroke-width="2.0" />
<line x1="227.1" y1="536.92" x2="235.1" y2="536.92" stroke="#000" stroke-width="2.0" />
<line x1="227.1" y1="548.58" x2="235.1" y2="548.58" stroke="#000" stroke-width="2.0" />
<line x1="234.24" y1="539.64" x2="234.24" y2="559.63" stroke="#000" stroke-width="2.0" />
<line x1="230.24" y1="539.64" x2="238.24" y2="539.64" stroke="#000" stroke-width="2.0" />
<line x1="230.24" y1="559.63" x2="238.24" y2="559.63" stroke="#000" stroke-width="2.0" />
<line x1="237.37" y1="535.54" x2="237.37" y2="553.79" stroke="#000" stroke-width="2.0" />
<line x1="233.37" y1="535.54" x2="241.37" y2="535.54" stroke="#000" stroke-width="2.0" />
<line x1="233.37" y1="553.79" x2="241.37" y2="553.79" stroke="#000" stroke-width="2.0" />
<line x1="240.51" y1="528.13" x2="240.51" y2="552.37" stroke="#000" stroke-width="2.0" />
<line x1="236.51" y1="528.13" x2="244.51" y2="528.13" stroke="#000" stroke-width="2.0" />
<line x1="236.51" y1="552.37" x2="244.51" y2="552.37" stroke="#000" stroke-width="2.0" />
<line x1="243.65" y1="532.28" x2="243.65" y2="558.15" stroke="#000" stroke-width="2.0" />
<line x1="239.65" y1="532.28" x2="247.65" y2="532.28" stroke="#000" stroke-width="2.0" />
<line x1="239.65" y1="558.15" x2="247.65" y2="558.15" stroke="#000" stroke-width="2.0" />
<line x1="246.79" y1="534.44" x2="246.79" y2="553.15" stroke="#000" stroke-width="2.0" />
<line x1="242.79" y1="534.44" x2="250.79" y2="534.44" stroke="#000" stroke-width="2.0" />
<line x1="242.79" y1="553.15" x2="250.79" y2="553.15" stroke="#000" stroke-width="2.0" />
<line x1="249.92" y1="542.03" x2="249.92" y2="554.36" stroke="#000" stroke-width="2.0" />
<line x1="245.92" y1="542.03" x2="253.92" y2="542.03" stroke="#000" stroke-width="2.0" />
<line x1="245.92" y1="554.36" x2="253.92" y2="554.36" stroke="#000" stroke-width="2.0" />
<line x1="253.06" y1="526.89" x2="253.06" y2="547.53" stroke="#000" stroke-width="2.0" />
<line x1="249.06" y1="526.89" x2="257.06" y2="526.89" stroke="#000" stroke-width="2.0" />
<line x1="249.06" y1="547.53" x2="257.06" y2="547.53" stroke="#000" stroke-width="2.0" />
<line x1="256.2" y1="536.1" x2="256.2" y2="556.67" stroke="#000" stroke-width="2.0" />
<line x1="252.2" y1="536.1" x2="260.2" y2="536.1" stroke="#000" stroke-width="2.0" />
<line x1="252.2" y1="556.67" x2="260.2" y2="556.67" stroke="#000" stroke-width="2.0" />
<line x1="259.34" y1="530.03" x2="259.34" y2="557.16" stroke="#000" stroke-width="2.0" />
<line x1="255.34" y1="530.03" x2="263.34" y2="530.03" stroke="#000" stroke-width="2.0" />
<line x1="255.34" y1="557.16" x2="263.34" y2="557.16" stroke="#000" stroke-width="2.0" />
<line x1="262.48" y1="533.95" x2="262.48" y2="554.33" stroke="#000" stroke-width="2.0" />
<line x1="258.48" y1="533.95" x2="266.48" y2="533.95" stroke="#000" stroke-width="2.0" />
<line x1="258.48" y1="554.33" x2="266.48" y2="554.33" stroke="#000" stroke-width="2.0" />
<line x1="265.61" y1="533.78" x2="265.61" y2="550.51" stroke="#000" stroke-width="2.0" />
<line x1="261.61" y1="533.78" x2="269.61" y2="533.78" stroke="#000" stroke-width="2.0" />
<line x1="261.61" y1="550.51" x2="269.61" y2="550.51" stroke="#000" stroke-width="2.0" />
<line x1="268.75" y1="543.28" x2="268.75" y2="561.22" stroke="#000" stroke-width="2.0" />
<line x1="264.75" y1="543.28" x2="272.75" y2="543.28" stroke="#000" stroke-width="2.0" />
<line x1="264.75" y1="561.22" x2="272.75" y2="561.22" stroke="#000" stroke-width="2.0" />
<line x1="271.89" y1="531.46" x2="271.89" y2="550.26" stroke="#000" stroke-width="2.0" />
<line x1="267.89" y1="531.46" x2="275.89" y2="531.46" stroke="#000" stroke-width="2.0" />
<line x1="267.89" y1="550.26" x2="275.89" y2="550.26" stroke="#000" stroke-width="2.0" />
<line x1="275.03" y1="533.51" x2="275.03" y2="560.59" stroke="#000" stroke-width="2.0" />
<line x1="271.03" y1="533.51" x2="279.03" y2="533.51" stroke="#000" stroke-width="2.0" />
<line x1="271.03" y1="560.59" x2="279.03" y2="560.59" stroke="#000" stroke-width="2.0" />
<line x1="278.16" y1="533.34" x2="278.16" y2="550.34" stroke="#000" stroke-width="2.0" />
<line x1="274.16" y1="533.34" x2="282.16" y2="533.34" stroke="#000" stroke-width="2.0" />
<line x1="274.16" y1="550.34" x2="282.16" y2="550.34" stroke="#000" stroke-width="2.0" />
<line x1="281.3" y1="539.37" x2="281.3" y2="555.33" stroke="#000" stroke-width="2.0" />
<line x1="277.3" y1="539.37" x2="285.3" y2="539.37" stroke="#000" stroke-width="2.0" />
<line x1="277.3" y1="555.33" x2="285.3" y2="555.33" stroke="#000" stroke-width="2.0" />
<line x1="284.44" y1="535.03" x2="284.44" y2="549.03" stroke="#000" stroke-width="2.0" />
<line x1="280.44" y1="535.03" x2="288.44" y2="535.03" stroke="#000" stroke-width="2.0" />
<line x1="280.44" y1="549.03" x2="288.44" y2="549.03" stroke="#000" stroke-width="2.0" />
<line x1="287.58" y1="544.23" x2="287.58" y2="558.55" stroke="#000" stroke-width="2.0" />
<line x1="283.58" y1="544.23" x2="291.58" y2="544.23" stroke="#000" stroke-width="2.0" />
<line x1="283.58" y1="558.55" x2="291.58" y2="558.55" stroke="#000" stroke-width="2.0" />
<line x1="290.72" y1="527.11" x2="290.72" y2="544.26" stroke="#000" stroke-width="2.0" />
<line x1="286.72" y1="527.11" x2="294.72" y2="527.11" stroke="#000" stroke-width="2.0" />
<line x1="286.72" y1="544.26" x2="294.72" y2="544.26" stroke="#000" stroke-width="2.0" />
<line x1="293.85" y1="533.69" x2="293.85" y2="550.73" stroke="#000" stroke-width="2.0" />
<line x1="289.85" y1="533.69" x2="297.85" y2="533.69" stroke="#000" stroke-width="2.0" />
<line x1="289.85" y1="550.73" x2="297.85" y2="550.73" stroke="#000" stroke-width="2.0" />
<line x1="296.99" y1="530.97" x2="296.99" y2="559.34" stroke="#000" stroke-width="2.0" />
<line x1="292.99" y1="530.97" x2="300.99" y2="530.97" stroke="#000" stroke-width="2.0" />
<line x1="292.99" y1="559.34" x2="300.99" y2="559.34" stroke="#000" stroke-width="2.0" />
<line x1="300.13" y1="537.81" x2="300.13" y2="557.42" stroke="#000" stroke-width="2.0" />
<line x1="296.13" y1="537.81" x2="304.13" y2="537.81" stroke="#000" stroke-width="2.0" />
<line x1="296.13" y1="557.42" x2="304.13" y2="557.42" stroke="#000" stroke-width="2.0" />
<line x1="303.27" y1="531.41" x2="303.27" y2="558.8" stroke="#000" stroke-width="2.0" />
<line x1="299.27" y1="531.41" x2="307.27" y2="531.41" stroke="#000" stroke-width="2.0" />
<line x1="299.27" y1="558.8" x2="307.27" y2="558.8" stroke="#000" stroke-width="2.0" />
<line x1="306.41" y1="535.45" x2="306.41" y2="561.83" stroke="#000" stroke-width="2.0" />
<line x1="302.41" y1="535.45" x2="310.41" y2="535.45" stroke="#000" stroke-width="2.0" />
<line x1="302.41" y1="561.83" x2="310.41" y2="561.83" stroke="#000" stroke-width="2.0" />
<line x1="309.54" y1="522.13" x2="309.54" y2="548.19" stroke="#000" stroke-width="2.0" />
<line x1="305.54" y1="522.13" x2="313.54" y2="522.13" stroke="#000" stroke-width="2.0" />
<line x1="305.54" y1="548.19" x2="313.54" y2="548.19" stroke="#000" stroke-width="2.0" />
<line x1="312.68" y1="536.3" x2="312.68" y2="569.22" stroke="#000" stroke-width="2.0" />
<line x1="308.68" y1="536.3" x2="316.68" y2="536.3" stroke="#000" stroke-width="2.0" />
<line x1="308.68" y1="569.22" x2="316.68" y2="569.22" stroke="#000" stroke-width="2.0" />
<line x1="315.82" y1="534.41" x2="315.82" y2="559.93" stroke="#000" stroke-width="2.0" />
<line x1="311.82" y1="534.41" x2="319.82" y2="534.41" stroke="#000" stroke-width="2.0" />
<line x1="311.82" y1="559.93" x2="319.82" y2="559.93" stroke="#000" stroke-width="2.0" />
<line x1="318.96" y1="531.59" x2="318.96" y2="559.83" stroke="#000" stroke-width="2.0" />
<line x1="314.96" y1="531.59" x2="322.96" y2="531.59" stroke="#000" stroke-width="2.0" />
<line x1="314.96" y1="559.83" x2="322.96" y2="559.83" stroke="#000" stroke-width="2.0" />
<line x1="322.09" y1="531.02" x2="322.09" y2="583.22" stroke="#000" stroke-width="2.0" />
<line x1="318.09" y1="531.02" x2="326.09" y2="531.02" stroke="#000" stroke-width="2.0" />
<line x1="318.09" y1="583.22" x2="326.09" y2="583.22" stroke="#000" stroke-width="2.0" />
<line x1="325.23" y1="541.45" x2="325.23" y2="567.33" stroke="#000" stroke-width="2.0" />
<line x1="321.23" y1="541.45" x2="329.23" y2="541.45" stroke="#000" stroke-width="2.0" />
<line x1="321.23" y1="567.33" x2="329.23" y2="567.33" stroke="#000" stroke-width="2.0" />
<line x1="328.37" y1="537.93" x2="328.37" y2="553.04" stroke="#000" stroke-width="2.0" />
<line x1="324.37" y1="537.93" x2="332.37" y2="537.93" stroke="#000" stroke-width="2.0" />
<line x1="324.37" y1="553.04" x2="332.37" y2="553.04" stroke="#000" stroke-width="2.0" />
<line x1="331.51" y1="535.36" x2="331.51" y2="553.02" stroke="#000" stroke-width="2.0" />
<line x1="327.51" y1="535.36" x2="335.51" y2="535.36" stroke="#000" stroke-width="2.0" />
<line x1="327.51" y1="553.02" x2="335.51" y2="553.02" stroke="#000" stroke-width="2.0" />
<line x1="154.4" y1="433.4" x2="175.5" y2="433.4" stroke="#9b9ba1" stroke-width="2.2" />
<line x1="154.4" y1="461.1" x2="175.5" y2="461.1" stroke="#000" stroke-width="2.2" />
<text x="187.5" y="438.9" font-size="16.2" text-anchor="start"  >CB1</text>
<text x="187.5" y="466.3" font-size="16.2" text-anchor="start"  >CB1 + GRK2</text>
<text x="3.7" y="774" font-size="17.8" text-anchor="start" font-weight="bold" >G</text>
<text x="221" y="775.9" font-size="19.6" text-anchor="middle" font-weight="bold" >CB<tspan font-size="14.5" dy="4.7">2</tspan><tspan dy="-4.7">, 1 <tspan font-weight="normal" font-family="Liberation Serif">μ</tspan>M CP</tspan></text>
<line x1="107.6" y1="803.3" x2="107.6" y2="1006.1" stroke="#000" stroke-width="2.0" />
<line x1="102.1" y1="804.3" x2="107.6" y2="804.3" stroke="#000" stroke-width="2.0" />
<text x="98.4" y="810.5" font-size="15.0" text-anchor="end" font-weight="bold" >0.15</text>
<line x1="102.1" y1="854.5" x2="107.6" y2="854.5" stroke="#000" stroke-width="2.0" />
<text x="98.4" y="860.7" font-size="15.0" text-anchor="end" font-weight="bold" >0.10</text>
<line x1="102.1" y1="904.7" x2="107.6" y2="904.7" stroke="#000" stroke-width="2.0" />
<text x="98.4" y="910.9" font-size="15.0" text-anchor="end" font-weight="bold" >0.05</text>
<line x1="102.1" y1="954.9" x2="107.6" y2="954.9" stroke="#000" stroke-width="2.0" />
<text x="98.4" y="961.1" font-size="15.0" text-anchor="end" font-weight="bold" >0.00</text>
<line x1="102.1" y1="1005.1" x2="107.6" y2="1005.1" stroke="#000" stroke-width="2.0" />
<text x="98.4" y="1011.3" font-size="15.0" text-anchor="end" font-weight="bold" >-0.05</text>
<text transform="translate(38,904.5) rotate(-90)" font-size="16.7" text-anchor="middle" font-weight="bold">ΔBRET ratio (535/475)</text>
<text transform="translate(58.3,904.5) rotate(-90)" font-size="16.7" text-anchor="middle" font-weight="bold">(agonist - vehicle)</text>
<line x1="106.6" y1="1005.1" x2="334" y2="1005.1" stroke="#000" stroke-width="2.0" />
<line x1="140.1" y1="1005.1" x2="140.1" y2="1011.1" stroke="#000" stroke-width="2.0" />
<text x="140.1" y="1028.8" font-size="15.0" text-anchor="middle" font-weight="bold" >0</text>
<line x1="204.4" y1="1005.1" x2="204.4" y2="1011.1" stroke="#000" stroke-width="2.0" />
<text x="204.4" y="1028.8" font-size="15.0" text-anchor="middle" font-weight="bold" >500</text>
<line x1="268.7" y1="1005.1" x2="268.7" y2="1011.1" stroke="#000" stroke-width="2.0" />
<text x="268.7" y="1028.8" font-size="15.0" text-anchor="middle" font-weight="bold" >1000</text>
<line x1="333" y1="1005.1" x2="333" y2="1011.1" stroke="#000" stroke-width="2.0" />
<text x="333" y="1028.8" font-size="15.0" text-anchor="middle" font-weight="bold" >1500</text>
<text x="220.3" y="1052.2" font-size="16.8" text-anchor="middle"  >Time (sec)</text>
<line x1="111.95" y1="954.9" x2="333" y2="954.9" stroke="#000" stroke-width="2" stroke-dasharray="2 4"/>
<line x1="140.1" y1="804.3" x2="140.1" y2="1005.1" stroke="#000" stroke-width="2" stroke-dasharray="2 4"/>
<polyline fill="none" stroke="#9b9ba1" stroke-width="2.0" stroke-linejoin="round" points="108.72,968.23 111.86,964.43 115,964.8 118.14,962.63 121.27,964.71 124.41,960.86 127.55,959.21 130.69,959.84 133.82,957.29 136.96,953.76 140.1,955.99 143.24,946.19 146.38,944.21 149.51,941.24 152.65,940.21 155.79,936.94 158.93,938.46 162.06,939.21 165.2,930.43 168.34,934.06 171.48,925.79 174.62,930.73 177.75,934.38 180.89,921.04 184.03,930.13 187.17,924.55 190.31,930.42 193.44,932.8 196.58,928.49 199.72,933.06 202.86,927.44 205.99,931.36 209.13,929.89 212.27,920.1 215.41,930.5 218.55,926.11 221.68,932.81 224.82,932.36 227.96,920.7 231.1,926.96 234.24,930.88 237.37,922.89 240.51,931.45 243.65,919.6 246.79,931.12 249.92,926.82 253.06,937.65 256.2,924.84 259.34,928.34 262.48,927.64 265.61,931.2 268.75,934.18 271.89,927.62 275.03,934.21 278.16,928.69 281.3,937.13 284.44,927.98 287.58,930.01 290.72,922.64 293.85,928.48 296.99,919.84 300.13,934.31 303.27,927.16 306.41,930.7 309.54,919.8 312.68,924.89 315.82,931.47 318.96,921.17 322.09,928.5 325.23,926.11 328.37,927.25 331.51,929.88"/>
<line x1="108.72" y1="962.38" x2="108.72" y2="974.08" stroke="#9b9ba1" stroke-width="2.0" />
<line x1="104.72" y1="962.38" x2="112.72" y2="962.38" stroke="#9b9ba1" stroke-width="2.0" />
<line x1="104.72" y1="974.08" x2="112.72" y2="974.08" stroke="#9b9ba1" stroke-width="2.0" />
<line x1="111.86" y1="961.16" x2="111.86" y2="967.69" stroke="#9b9ba1" stroke-width="2.0" />
<line x1="107.86" y1="961.16" x2="115.86" y2="961.16" stroke="#9b9ba1" stroke-width="2.0" />
<line x1="107.86" y1="967.69" x2="115.86" y2="967.69" stroke="#9b9ba1" stroke-width="2.0" />
<line x1="115" y1="958.69" x2="115" y2="970.91" stroke="#9b9ba1" stroke-width="2.0" />
<line x1="111" y1="958.69" x2="119" y2="958.69" stroke="#9b9ba1" stroke-width="2.0" />
<line x1="111" y1="970.91" x2="119" y2="970.91" stroke="#9b9ba1" stroke-width="2.0" />
<line x1="118.14" y1="959.26" x2="118.14" y2="966.01" stroke="#9b9ba1" stroke-width="2.0" />
<line x1="114.14" y1="959.26" x2="122.14" y2="959.26" stroke="#9b9ba1" stroke-width="2.0" />
<line x1="114.14" y1="966.01" x2="122.14" y2="966.01" stroke="#9b9ba1" stroke-width="2.0" />
<line x1="121.27" y1="957.45" x2="121.27" y2="971.97" stroke="#9b9ba1" stroke-width="2.0" />
<line x1="117.27" y1="957.45" x2="125.27" y2="957.45" stroke="#9b9ba1" stroke-width="2.0" />
<line x1="117.27" y1="971.97" x2="125.27" y2="971.97" stroke="#9b9ba1" stroke-width="2.0" />
<line x1="124.41" y1="958.01" x2="124.41" y2="963.71" stroke="#9b9ba1" stroke-width="2.0" />
<line x1="120.41" y1="958.01" x2="128.41" y2="958.01" stroke="#9b9ba1" stroke-width="2.0" />
<line x1="120.41" y1="963.71" x2="128.41" y2="963.71" stroke="#9b9ba1" stroke-width="2.0" />
<line x1="127.55" y1="954.95" x2="127.55" y2="963.46" stroke="#9b9ba1" stroke-width="2.0" />
<line x1="123.55" y1="954.95" x2="131.55" y2="954.95" stroke="#9b9ba1" stroke-width="2.0" />
<line x1="123.55" y1="963.46" x2="131.55" y2="963.46" stroke="#9b9ba1" stroke-width="2.0" />
<line x1="130.69" y1="952.77" x2="130.69" y2="966.92" stroke="#9b9ba1" stroke-width="2.0" />
<line x1="126.69" y1="952.77" x2="134.69" y2="952.77" stroke="#9b9ba1" stroke-width="2.0" />
<line x1="126.69" y1="966.92" x2="134.69" y2="966.92" stroke="#9b9ba1" stroke-width="2.0" />
<line x1="133.82" y1="952.06" x2="133.82" y2="962.52" stroke="#9b9ba1" stroke-width="2.0" />
<line x1="129.82" y1="952.06" x2="137.82" y2="952.06" stroke="#9b9ba1" stroke-width="2.0" />
<line x1="129.82" y1="962.52" x2="137.82" y2="962.52" stroke="#9b9ba1" stroke-width="2.0" />
<line x1="136.96" y1="947.21" x2="136.96" y2="960.31" stroke="#9b9ba1" stroke-width="2.0" />
<line x1="132.96" y1="947.21" x2="140.96" y2="947.21" stroke="#9b9ba1" stroke-width="2.0" />
<line x1="132.96" y1="960.31" x2="140.96" y2="960.31" stroke="#9b9ba1" stroke-width="2.0" />
<line x1="140.1" y1="948.76" x2="140.1" y2="963.22" stroke="#9b9ba1" stroke-width="2.0" />
<line x1="136.1" y1="948.76" x2="144.1" y2="948.76" stroke="#9b9ba1" stroke-width="2.0" />
<line x1="136.1" y1="963.22" x2="144.1" y2="963.22" stroke="#9b9ba1" stroke-width="2.0" />
<line x1="143.24" y1="939.93" x2="143.24" y2="952.45" stroke="#9b9ba1" stroke-width="2.0" />
<line x1="139.24" y1="939.93" x2="147.24" y2="939.93" stroke="#9b9ba1" stroke-width="2.0" />
<line x1="139.24" y1="952.45" x2="147.24" y2="952.45" stroke="#9b9ba1" stroke-width="2.0" />
<line x1="146.38" y1="937.48" x2="146.38" y2="950.95" stroke="#9b9ba1" stroke-width="2.0" />
<line x1="142.38" y1="937.48" x2="150.38" y2="937.48" stroke="#9b9ba1" stroke-width="2.0" />
<line x1="142.38" y1="950.95" x2="150.38" y2="950.95" stroke="#9b9ba1" stroke-width="2.0" />
<line x1="149.51" y1="937.29" x2="149.51" y2="945.2" stroke="#9b9ba1" stroke-width="2.0" />
<line x1="145.51" y1="937.29" x2="153.51" y2="937.29" stroke="#9b9ba1" stroke-width="2.0" />
<line x1="145.51" y1="945.2" x2="153.51" y2="945.2" stroke="#9b9ba1" stroke-width="2.0" />
<line x1="152.65" y1="935.43" x2="152.65" y2="944.99" stroke="#9b9ba1" stroke-width="2.0" />
<line x1="148.65" y1="935.43" x2="156.65" y2="935.43" stroke="#9b9ba1" stroke-width="2.0" />
<line x1="148.65" y1="944.99" x2="156.65" y2="944.99" stroke="#9b9ba1" stroke-width="2.0" />
<line x1="155.79" y1="931.72" x2="155.79" y2="942.16" stroke="#9b9ba1" stroke-width="2.0" />
<line x1="151.79" y1="931.72" x2="159.79" y2="931.72" stroke="#9b9ba1" stroke-width="2.0" />
<line x1="151.79" y1="942.16" x2="159.79" y2="942.16" stroke="#9b9ba1" stroke-width="2.0" />
<line x1="158.93" y1="930.03" x2="158.93" y2="946.9" stroke="#9b9ba1" stroke-width="2.0" />
<line x1="154.93" y1="930.03" x2="162.93" y2="930.03" stroke="#9b9ba1" stroke-width="2.0" />
<line x1="154.93" y1="946.9" x2="162.93" y2="946.9" stroke="#9b9ba1" stroke-width="2.0" />
<line x1="162.06" y1="931.58" x2="162.06" y2="946.83" stroke="#9b9ba1" stroke-width="2.0" />
<line x1="158.06" y1="931.58" x2="166.06" y2="931.58" stroke="#9b9ba1" stroke-width="2.0" />
<line x1="158.06" y1="946.83" x2="166.06" y2="946.83" stroke="#9b9ba1" stroke-width="2.0" />
<line x1="165.2" y1="923.98" x2="165.2" y2="936.89" stroke="#9b9ba1" stroke-width="2.0" />
<line x1="161.2" y1="923.98" x2="169.2" y2="923.98" stroke="#9b9ba1" stroke-width="2.0" />
<line x1="161.2" y1="936.89" x2="169.2" y2="936.89" stroke="#9b9ba1" stroke-width="2.0" />
<line x1="168.34" y1="930.04" x2="168.34" y2="938.08" stroke="#9b9ba1" stroke-width="2.0" />
<line x1="164.34" y1="930.04" x2="172.34" y2="930.04" stroke="#9b9ba1" stroke-width="2.0" />
<line x1="164.34" y1="938.08" x2="172.34" y2="938.08" stroke="#9b9ba1" stroke-width="2.0" />
<line x1="171.48" y1="918.16" x2="171.48" y2="933.42" stroke="#9b9ba1" stroke-width="2.0" />
<line x1="167.48" y1="918.16" x2="175.48" y2="918.16" stroke="#9b9ba1" stroke-width="2.0" />
<line x1="167.48" y1="933.42" x2="175.48" y2="933.42" stroke="#9b9ba1" stroke-width="2.0" />
<line x1="174.62" y1="924.69" x2="174.62" y2="936.76" stroke="#9b9ba1" stroke-width="2.0" />
<line x1="170.62" y1="924.69" x2="178.62" y2="924.69" stroke="#9b9ba1" stroke-width="2.0" />
<line x1="170.62" y1="936.76" x2="178.62" y2="936.76" stroke="#9b9ba1" stroke-width="2.0" />
<line x1="177.75" y1="929.45" x2="177.75" y2="939.32" stroke="#9b9ba1" stroke-width="2.0" />
<line x1="173.75" y1="929.45" x2="181.75" y2="929.45" stroke="#9b9ba1" stroke-width="2.0" />
<line x1="173.75" y1="939.32" x2="181.75" y2="939.32" stroke="#9b9ba1" stroke-width="2.0" />
<line x1="180.89" y1="912.24" x2="180.89" y2="929.85" stroke="#9b9ba1" stroke-width="2.0" />
<line x1="176.89" y1="912.24" x2="184.89" y2="912.24" stroke="#9b9ba1" stroke-width="2.0" />
<line x1="176.89" y1="929.85" x2="184.89" y2="929.85" stroke="#9b9ba1" stroke-width="2.0" />
<line x1="184.03" y1="925.48" x2="184.03" y2="934.77" stroke="#9b9ba1" stroke-width="2.0" />
<line x1="180.03" y1="925.48" x2="188.03" y2="925.48" stroke="#9b9ba1" stroke-width="2.0" />
<line x1="180.03" y1="934.77" x2="188.03" y2="934.77" stroke="#9b9ba1" stroke-width="2.0" />
<line x1="187.17" y1="914.18" x2="187.17" y2="934.91" stroke="#9b9ba1" stroke-width="2.0" />
<line x1="183.17" y1="914.18" x2="191.17" y2="914.18" stroke="#9b9ba1" stroke-width="2.0" />
<line x1="183.17" y1="934.91" x2="191.17" y2="934.91" stroke="#9b9ba1" stroke-width="2.0" />
<line x1="190.31" y1="921.63" x2="190.31" y2="939.21" stroke="#9b9ba1" stroke-width="2.0" />
<line x1="186.31" y1="921.63" x2="194.31" y2="921.63" stroke="#9b9ba1" stroke-width="2.0" />
<line x1="186.31" y1="939.21" x2="194.31" y2="939.21" stroke="#9b9ba1" stroke-width="2.0" />
<line x1="193.44" y1="925.45" x2="193.44" y2="940.16" stroke="#9b9ba1" stroke-width="2.0" />
<line x1="189.44" y1="925.45" x2="197.44" y2="925.45" stroke="#9b9ba1" stroke-width="2.0" />
<line x1="189.44" y1="940.16" x2="197.44" y2="940.16" stroke="#9b9ba1" stroke-width="2.0" />
<line x1="196.58" y1="921.7" x2="196.58" y2="935.27" stroke="#9b9ba1" stroke-width="2.0" />
<line x1="192.58" y1="921.7" x2="200.58" y2="921.7" stroke="#9b9ba1" stroke-width="2.0" />
<line x1="192.58" y1="935.27" x2="200.58" y2="935.27" stroke="#9b9ba1" stroke-width="2.0" />
<line x1="199.72" y1="924.29" x2="199.72" y2="941.83" stroke="#9b9ba1" stroke-width="2.0" />
<line x1="195.72" y1="924.29" x2="203.72" y2="924.29" stroke="#9b9ba1" stroke-width="2.0" />
<line x1="195.72" y1="941.83" x2="203.72" y2="941.83" stroke="#9b9ba1" stroke-width="2.0" />
<line x1="202.86" y1="917.87" x2="202.86" y2="937.02" stroke="#9b9ba1" stroke-width="2.0" />
<line x1="198.86" y1="917.87" x2="206.86" y2="917.87" stroke="#9b9ba1" stroke-width="2.0" />
<line x1="198.86" y1="937.02" x2="206.86" y2="937.02" stroke="#9b9ba1" stroke-width="2.0" />
<line x1="205.99" y1="919.84" x2="205.99" y2="942.89" stroke="#9b9ba1" stroke-width="2.0" />
<line x1="201.99" y1="919.84" x2="209.99" y2="919.84" stroke="#9b9ba1" stroke-width="2.0" />
<line x1="201.99" y1="942.89" x2="209.99" y2="942.89" stroke="#9b9ba1" stroke-width="2.0" />
<line x1="209.13" y1="918.14" x2="209.13" y2="941.64" stroke="#9b9ba1" stroke-width="2.0" />
<line x1="205.13" y1="918.14" x2="213.13" y2="918.14" stroke="#9b9ba1" stroke-width="2.0" />
<line x1="205.13" y1="941.64" x2="213.13" y2="941.64" stroke="#9b9ba1" stroke-width="2.0" />
<line x1="212.27" y1="915.46" x2="212.27" y2="924.73" stroke="#9b9ba1" stroke-width="2.0" />
<line x1="208.27" y1="915.46" x2="216.27" y2="915.46" stroke="#9b9ba1" stroke-width="2.0" />
<line x1="208.27" y1="924.73" x2="216.27" y2="924.73" stroke="#9b9ba1" stroke-width="2.0" />
<line x1="215.41" y1="925.55" x2="215.41" y2="935.45" stroke="#9b9ba1" stroke-width="2.0" />
<line x1="211.41" y1="925.55" x2="219.41" y2="925.55" stroke="#9b9ba1" stroke-width="2.0" />
<line x1="211.41" y1="935.45" x2="219.41" y2="935.45" stroke="#9b9ba1" stroke-width="2.0" />
<line x1="218.55" y1="914.85" x2="218.55" y2="937.36" stroke="#9b9ba1" stroke-width="2.0" />
<line x1="214.55" y1="914.85" x2="222.55" y2="914.85" stroke="#9b9ba1" stroke-width="2.0" />
<line x1="214.55" y1="937.36" x2="222.55" y2="937.36" stroke="#9b9ba1" stroke-width="2.0" />
<line x1="221.68" y1="926.61" x2="221.68" y2="939.02" stroke="#9b9ba1" stroke-width="2.0" />
<line x1="217.68" y1="926.61" x2="225.68" y2="926.61" stroke="#9b9ba1" stroke-width="2.0" />
<line x1="217.68" y1="939.02" x2="225.68" y2="939.02" stroke="#9b9ba1" stroke-width="2.0" />
<line x1="224.82" y1="925.26" x2="224.82" y2="939.46" stroke="#9b9ba1" stroke-width="2.0" />
<line x1="220.82" y1="925.26" x2="228.82" y2="925.26" stroke="#9b9ba1" stroke-width="2.0" />
<line x1="220.82" y1="939.46" x2="228.82" y2="939.46" stroke="#9b9ba1" stroke-width="2.0" />
<line x1="227.96" y1="911.74" x2="227.96" y2="929.66" stroke="#9b9ba1" stroke-width="2.0" />
<line x1="223.96" y1="911.74" x2="231.96" y2="911.74" stroke="#9b9ba1" stroke-width="2.0" />
<line x1="223.96" y1="929.66" x2="231.96" y2="929.66" stroke="#9b9ba1" stroke-width="2.0" />
<line x1="231.1" y1="918.88" x2="231.1" y2="935.04" stroke="#9b9ba1" stroke-width="2.0" />
<line x1="227.1" y1="918.88" x2="235.1" y2="918.88" stroke="#9b9ba1" stroke-width="2.0" />
<line x1="227.1" y1="935.04" x2="235.1" y2="935.04" stroke="#9b9ba1" stroke-width="2.0" />
<line x1="234.24" y1="920.17" x2="234.24" y2="941.6" stroke="#9b9ba1" stroke-width="2.0" />
<line x1="230.24" y1="920.17" x2="238.24" y2="920.17" stroke="#9b9ba1" stroke-width="2.0" />
<line x1="230.24" y1="941.6" x2="238.24" y2="941.6" stroke="#9b9ba1" stroke-width="2.0" />
<line x1="237.37" y1="916.82" x2="237.37" y2="928.96" stroke="#9b9ba1" stroke-width="2.0" />
<line x1="233.37" y1="916.82" x2="241.37" y2="916.82" stroke="#9b9ba1" stroke-width="2.0" />
<line x1="233.37" y1="928.96" x2="241.37" y2="928.96" stroke="#9b9ba1" stroke-width="2.0" />
<line x1="240.51" y1="918.64" x2="240.51" y2="944.26" stroke="#9b9ba1" stroke-width="2.0" />
<line x1="236.51" y1="918.64" x2="244.51" y2="918.64" stroke="#9b9ba1" stroke-width="2.0" />
<line x1="236.51" y1="944.26" x2="244.51" y2="944.26" stroke="#9b9ba1" stroke-width="2.0" />
<line x1="243.65" y1="909.68" x2="243.65" y2="929.52" stroke="#9b9ba1" stroke-width="2.0" />
<line x1="239.65" y1="909.68" x2="247.65" y2="909.68" stroke="#9b9ba1" stroke-width="2.0" />
<line x1="239.65" y1="929.52" x2="247.65" y2="929.52" stroke="#9b9ba1" stroke-width="2.0" />
<line x1="246.79" y1="922.39" x2="246.79" y2="939.84" stroke="#9b9ba1" stroke-width="2.0" />
<line x1="242.79" y1="922.39" x2="250.79" y2="922.39" stroke="#9b9ba1" stroke-width="2.0" />
<line x1="242.79" y1="939.84" x2="250.79" y2="939.84" stroke="#9b9ba1" stroke-width="2.0" />
<line x1="249.92" y1="918.38" x2="249.92" y2="935.26" stroke="#9b9ba1" stroke-width="2.0" />
<line x1="245.92" y1="918.38" x2="253.92" y2="918.38" stroke="#9b9ba1" stroke-width="2.0" />
<line x1="245.92" y1="935.26" x2="253.92" y2="935.26" stroke="#9b9ba1" stroke-width="2.0" />
<line x1="253.06" y1="927.74" x2="253.06" y2="947.56" stroke="#9b9ba1" stroke-width="2.0" />
<line x1="249.06" y1="927.74" x2="257.06" y2="927.74" stroke="#9b9ba1" stroke-width="2.0" />
<line x1="249.06" y1="947.56" x2="257.06" y2="947.56" stroke="#9b9ba1" stroke-width="2.0" />
<line x1="256.2" y1="912.77" x2="256.2" y2="936.91" stroke="#9b9ba1" stroke-width="2.0" />
<line x1="252.2" y1="912.77" x2="260.2" y2="912.77" stroke="#9b9ba1" stroke-width="2.0" />
<line x1="252.2" y1="936.91" x2="260.2" y2="936.91" stroke="#9b9ba1" stroke-width="2.0" />
<line x1="259.34" y1="917.59" x2="259.34" y2="939.1" stroke="#9b9ba1" stroke-width="2.0" />
<line x1="255.34" y1="917.59" x2="263.34" y2="917.59" stroke="#9b9ba1" stroke-width="2.0" />
<line x1="255.34" y1="939.1" x2="263.34" y2="939.1" stroke="#9b9ba1" stroke-width="2.0" />
<line x1="262.48" y1="919.93" x2="262.48" y2="935.34" stroke="#9b9ba1" stroke-width="2.0" />
<line x1="258.48" y1="919.93" x2="266.48" y2="919.93" stroke="#9b9ba1" stroke-width="2.0" />
<line x1="258.48" y1="935.34" x2="266.48" y2="935.34" stroke="#9b9ba1" stroke-width="2.0" />
<line x1="265.61" y1="922.14" x2="265.61" y2="940.26" stroke="#9b9ba1" stroke-width="2.0" />
<line x1="261.61" y1="922.14" x2="269.61" y2="922.14" stroke="#9b9ba1" stroke-width="2.0" />
<line x1="261.61" y1="940.26" x2="269.61" y2="940.26" stroke="#9b9ba1" stroke-width="2.0" />
<line x1="268.75" y1="925.19" x2="268.75" y2="943.18" stroke="#9b9ba1" stroke-width="2.0" />
<line x1="264.75" y1="925.19" x2="272.75" y2="925.19" stroke="#9b9ba1" stroke-width="2.0" />
<line x1="264.75" y1="943.18" x2="272.75" y2="943.18" stroke="#9b9ba1" stroke-width="2.0" />
<line x1="271.89" y1="915.68" x2="271.89" y2="939.57" stroke="#9b9ba1" stroke-width="2.0" />
<line x1="267.89" y1="915.68" x2="275.89" y2="915.68" stroke="#9b9ba1" stroke-width="2.0" />
<line x1="267.89" y1="939.57" x2="275.89" y2="939.57" stroke="#9b9ba1" stroke-width="2.0" />
<line x1="275.03" y1="921.47" x2="275.03" y2="946.94" stroke="#9b9ba1" stroke-width="2.0" />
<line x1="271.03" y1="921.47" x2="279.03" y2="921.47" stroke="#9b9ba1" stroke-width="2.0" />
<line x1="271.03" y1="946.94" x2="279.03" y2="946.94" stroke="#9b9ba1" stroke-width="2.0" />
<line x1="278.16" y1="918.55" x2="278.16" y2="938.84" stroke="#9b9ba1" stroke-width="2.0" />
<line x1="274.16" y1="918.55" x2="282.16" y2="918.55" stroke="#9b9ba1" stroke-width="2.0" />
<line x1="274.16" y1="938.84" x2="282.16" y2="938.84" stroke="#9b9ba1" stroke-width="2.0" />
<line x1="281.3" y1="922.6" x2="281.3" y2="951.65" stroke="#9b9ba1" stroke-width="2.0" />
<line x1="277.3" y1="922.6" x2="285.3" y2="922.6" stroke="#9b9ba1" stroke-width="2.0" />
<line x1="277.3" y1="951.65" x2="285.3" y2="951.65" stroke="#9b9ba1" stroke-width="2.0" />
<line x1="284.44" y1="917.61" x2="284.44" y2="938.34" stroke="#9b9ba1" stroke-width="2.0" />
<line x1="280.44" y1="917.61" x2="288.44" y2="917.61" stroke="#9b9ba1" stroke-width="2.0" />
<line x1="280.44" y1="938.34" x2="288.44" y2="938.34" stroke="#9b9ba1" stroke-width="2.0" />
<line x1="287.58" y1="919.64" x2="287.58" y2="940.39" stroke="#9b9ba1" stroke-width="2.0" />
<line x1="283.58" y1="919.64" x2="291.58" y2="919.64" stroke="#9b9ba1" stroke-width="2.0" />
<line x1="283.58" y1="940.39" x2="291.58" y2="940.39" stroke="#9b9ba1" stroke-width="2.0" />
<line x1="290.72" y1="909.42" x2="290.72" y2="935.85" stroke="#9b9ba1" stroke-width="2.0" />
<line x1="286.72" y1="909.42" x2="294.72" y2="909.42" stroke="#9b9ba1" stroke-width="2.0" />
<line x1="286.72" y1="935.85" x2="294.72" y2="935.85" stroke="#9b9ba1" stroke-width="2.0" />
<line x1="293.85" y1="913.63" x2="293.85" y2="943.32" stroke="#9b9ba1" stroke-width="2.0" />
<line x1="289.85" y1="913.63" x2="297.85" y2="913.63" stroke="#9b9ba1" stroke-width="2.0" />
<line x1="289.85" y1="943.32" x2="297.85" y2="943.32" stroke="#9b9ba1" stroke-width="2.0" />
<line x1="296.99" y1="911.54" x2="296.99" y2="928.14" stroke="#9b9ba1" stroke-width="2.0" />
<line x1="292.99" y1="911.54" x2="300.99" y2="911.54" stroke="#9b9ba1" stroke-width="2.0" />
<line x1="292.99" y1="928.14" x2="300.99" y2="928.14" stroke="#9b9ba1" stroke-width="2.0" />
<line x1="300.13" y1="919.85" x2="300.13" y2="948.77" stroke="#9b9ba1" stroke-width="2.0" />
<line x1="296.13" y1="919.85" x2="304.13" y2="919.85" stroke="#9b9ba1" stroke-width="2.0" />
<line x1="296.13" y1="948.77" x2="304.13" y2="948.77" stroke="#9b9ba1" stroke-width="2.0" />
<line x1="303.27" y1="915.3" x2="303.27" y2="939.02" stroke="#9b9ba1" stroke-width="2.0" />
<line x1="299.27" y1="915.3" x2="307.27" y2="915.3" stroke="#9b9ba1" stroke-width="2.0" />
<line x1="299.27" y1="939.02" x2="307.27" y2="939.02" stroke="#9b9ba1" stroke-width="2.0" />
<line x1="306.41" y1="920.77" x2="306.41" y2="940.64" stroke="#9b9ba1" stroke-width="2.0" />
<line x1="302.41" y1="920.77" x2="310.41" y2="920.77" stroke="#9b9ba1" stroke-width="2.0" />
<line x1="302.41" y1="940.64" x2="310.41" y2="940.64" stroke="#9b9ba1" stroke-width="2.0" />
<line x1="309.54" y1="908.29" x2="309.54" y2="931.31" stroke="#9b9ba1" stroke-width="2.0" />
<line x1="305.54" y1="908.29" x2="313.54" y2="908.29" stroke="#9b9ba1" stroke-width="2.0" />
<line x1="305.54" y1="931.31" x2="313.54" y2="931.31" stroke="#9b9ba1" stroke-width="2.0" />
<line x1="312.68" y1="915.44" x2="312.68" y2="934.33" stroke="#9b9ba1" stroke-width="2.0" />
<line x1="308.68" y1="915.44" x2="316.68" y2="915.44" stroke="#9b9ba1" stroke-width="2.0" />
<line x1="308.68" y1="934.33" x2="316.68" y2="934.33" stroke="#9b9ba1" stroke-width="2.0" />
<line x1="315.82" y1="922.84" x2="315.82" y2="940.1" stroke="#9b9ba1" stroke-width="2.0" />
<line x1="311.82" y1="922.84" x2="319.82" y2="922.84" stroke="#9b9ba1" stroke-width="2.0" />
<line x1="311.82" y1="940.1" x2="319.82" y2="940.1" stroke="#9b9ba1" stroke-width="2.0" />
<line x1="318.96" y1="906.18" x2="318.96" y2="936.15" stroke="#9b9ba1" stroke-width="2.0" />
<line x1="314.96" y1="906.18" x2="322.96" y2="906.18" stroke="#9b9ba1" stroke-width="2.0" />
<line x1="314.96" y1="936.15" x2="322.96" y2="936.15" stroke="#9b9ba1" stroke-width="2.0" />
<line x1="322.09" y1="912" x2="322.09" y2="945" stroke="#9b9ba1" stroke-width="2.0" />
<line x1="318.09" y1="912" x2="326.09" y2="912" stroke="#9b9ba1" stroke-width="2.0" />
<line x1="318.09" y1="945" x2="326.09" y2="945" stroke="#9b9ba1" stroke-width="2.0" />
<line x1="325.23" y1="916.17" x2="325.23" y2="936.04" stroke="#9b9ba1" stroke-width="2.0" />
<line x1="321.23" y1="916.17" x2="329.23" y2="916.17" stroke="#9b9ba1" stroke-width="2.0" />
<line x1="321.23" y1="936.04" x2="329.23" y2="936.04" stroke="#9b9ba1" stroke-width="2.0" />
<line x1="328.37" y1="918.05" x2="328.37" y2="936.46" stroke="#9b9ba1" stroke-width="2.0" />
<line x1="324.37" y1="918.05" x2="332.37" y2="918.05" stroke="#9b9ba1" stroke-width="2.0" />
<line x1="324.37" y1="936.46" x2="332.37" y2="936.46" stroke="#9b9ba1" stroke-width="2.0" />
<line x1="331.51" y1="912.49" x2="331.51" y2="947.26" stroke="#9b9ba1" stroke-width="2.0" />
<line x1="327.51" y1="912.49" x2="335.51" y2="912.49" stroke="#9b9ba1" stroke-width="2.0" />
<line x1="327.51" y1="947.26" x2="335.51" y2="947.26" stroke="#9b9ba1" stroke-width="2.0" />
<polyline fill="none" stroke="#000" stroke-width="2.0" stroke-linejoin="round" points="108.72,950.33 111.86,949.02 115,953.96 118.14,958.76 121.27,952.52 124.41,959.66 127.55,956.35 130.69,960.11 133.82,962.35 136.96,958.74 140.1,953.87 143.24,944.64 146.38,945.09 149.51,942.28 152.65,940.55 155.79,939.13 158.93,936.76 162.06,937.33 165.2,933.7 168.34,938.17 171.48,933.41 174.62,935.88 177.75,937.61 180.89,928.51 184.03,937.23 187.17,928.69 190.31,938.05 193.44,929.32 196.58,933.54 199.72,921.08 202.86,934.6 205.99,927.34 209.13,935.08 212.27,942.99 215.41,926.49 218.55,915.95 221.68,939.77 224.82,923.89 227.96,942.46 231.1,927.83 234.24,946.09 237.37,939.76 240.51,925.29 243.65,930.15 246.79,948.23 249.92,931.57 253.06,937.91 256.2,947.25 259.34,934.66 262.48,933.62 265.61,937.77 268.75,926.76 271.89,935.23 275.03,929.39 278.16,924.27 281.3,936.83 284.44,929.53 287.58,941.59 290.72,925.48 293.85,931.31 296.99,948.3 300.13,912.22 303.27,942.58 306.41,932.08 309.54,917.54 312.68,932.79 315.82,937 318.96,928.55 322.09,937.31 325.23,913.25 328.37,931.34 331.51,945.09"/>
<line x1="108.72" y1="947.12" x2="108.72" y2="953.54" stroke="#000" stroke-width="2.0" />
<line x1="104.72" y1="947.12" x2="112.72" y2="947.12" stroke="#000" stroke-width="2.0" />
<line x1="104.72" y1="953.54" x2="112.72" y2="953.54" stroke="#000" stroke-width="2.0" />
<line x1="111.86" y1="943.59" x2="111.86" y2="954.45" stroke="#000" stroke-width="2.0" />
<line x1="107.86" y1="943.59" x2="115.86" y2="943.59" stroke="#000" stroke-width="2.0" />
<line x1="107.86" y1="954.45" x2="115.86" y2="954.45" stroke="#000" stroke-width="2.0" />
<line x1="115" y1="949.52" x2="115" y2="958.4" stroke="#000" stroke-width="2.0" />
<line x1="111" y1="949.52" x2="119" y2="949.52" stroke="#000" stroke-width="2.0" />
<line x1="111" y1="958.4" x2="119" y2="958.4" stroke="#000" stroke-width="2.0" />
<line x1="118.14" y1="953.06" x2="118.14" y2="964.46" stroke="#000" stroke-width="2.0" />
<line x1="114.14" y1="953.06" x2="122.14" y2="953.06" stroke="#000" stroke-width="2.0" />
<line x1="114.14" y1="964.46" x2="122.14" y2="964.46" stroke="#000" stroke-width="2.0" />
<line x1="121.27" y1="948.01" x2="121.27" y2="957.03" stroke="#000" stroke-width="2.0" />
<line x1="117.27" y1="948.01" x2="125.27" y2="948.01" stroke="#000" stroke-width="2.0" />
<line x1="117.27" y1="957.03" x2="125.27" y2="957.03" stroke="#000" stroke-width="2.0" />
<line x1="124.41" y1="956.33" x2="124.41" y2="962.98" stroke="#000" stroke-width="2.0" />
<line x1="120.41" y1="956.33" x2="128.41" y2="956.33" stroke="#000" stroke-width="2.0" />
<line x1="120.41" y1="962.98" x2="128.41" y2="962.98" stroke="#000" stroke-width="2.0" />
<line x1="127.55" y1="951.48" x2="127.55" y2="961.21" stroke="#000" stroke-width="2.0" />
<line x1="123.55" y1="951.48" x2="131.55" y2="951.48" stroke="#000" stroke-width="2.0" />
<line x1="123.55" y1="961.21" x2="131.55" y2="961.21" stroke="#000" stroke-width="2.0" />
<line x1="130.69" y1="954.84" x2="130.69" y2="965.38" stroke="#000" stroke-width="2.0" />
<line x1="126.69" y1="954.84" x2="134.69" y2="954.84" stroke="#000" stroke-width="2.0" />
<line x1="126.69" y1="965.38" x2="134.69" y2="965.38" stroke="#000" stroke-width="2.0" />
<line x1="133.82" y1="959.72" x2="133.82" y2="964.99" stroke="#000" stroke-width="2.0" />
<line x1="129.82" y1="959.72" x2="137.82" y2="959.72" stroke="#000" stroke-width="2.0" />
<line x1="129.82" y1="964.99" x2="137.82" y2="964.99" stroke="#000" stroke-width="2.0" />
<line x1="136.96" y1="952.99" x2="136.96" y2="964.49" stroke="#000" stroke-width="2.0" />
<line x1="132.96" y1="952.99" x2="140.96" y2="952.99" stroke="#000" stroke-width="2.0" />
<line x1="132.96" y1="964.49" x2="140.96" y2="964.49" stroke="#000" stroke-width="2.0" />
<line x1="140.1" y1="948.95" x2="140.1" y2="958.79" stroke="#000" stroke-width="2.0" />
<line x1="136.1" y1="948.95" x2="144.1" y2="948.95" stroke="#000" stroke-width="2.0" />
<line x1="136.1" y1="958.79" x2="144.1" y2="958.79" stroke="#000" stroke-width="2.0" />
<line x1="143.24" y1="941.2" x2="143.24" y2="948.08" stroke="#000" stroke-width="2.0" />
<line x1="139.24" y1="941.2" x2="147.24" y2="941.2" stroke="#000" stroke-width="2.0" />
<line x1="139.24" y1="948.08" x2="147.24" y2="948.08" stroke="#000" stroke-width="2.0" />
<line x1="146.38" y1="940.82" x2="146.38" y2="949.36" stroke="#000" stroke-width="2.0" />
<line x1="142.38" y1="940.82" x2="150.38" y2="940.82" stroke="#000" stroke-width="2.0" />
<line x1="142.38" y1="949.36" x2="150.38" y2="949.36" stroke="#000" stroke-width="2.0" />
<line x1="149.51" y1="938.42" x2="149.51" y2="946.13" stroke="#000" stroke-width="2.0" />
<line x1="145.51" y1="938.42" x2="153.51" y2="938.42" stroke="#000" stroke-width="2.0" />
<line x1="145.51" y1="946.13" x2="153.51" y2="946.13" stroke="#000" stroke-width="2.0" />
<line x1="152.65" y1="934.75" x2="152.65" y2="946.35" stroke="#000" stroke-width="2.0" />
<line x1="148.65" y1="934.75" x2="156.65" y2="934.75" stroke="#000" stroke-width="2.0" />
<line x1="148.65" y1="946.35" x2="156.65" y2="946.35" stroke="#000" stroke-width="2.0" />
<line x1="155.79" y1="934.47" x2="155.79" y2="943.8" stroke="#000" stroke-width="2.0" />
<line x1="151.79" y1="934.47" x2="159.79" y2="934.47" stroke="#000" stroke-width="2.0" />
<line x1="151.79" y1="943.8" x2="159.79" y2="943.8" stroke="#000" stroke-width="2.0" />
<line x1="158.93" y1="933" x2="158.93" y2="940.52" stroke="#000" stroke-width="2.0" />
<line x1="154.93" y1="933" x2="162.93" y2="933" stroke="#000" stroke-width="2.0" />
<line x1="154.93" y1="940.52" x2="162.93" y2="940.52" stroke="#000" stroke-width="2.0" />
<line x1="162.06" y1="933.67" x2="162.06" y2="940.99" stroke="#000" stroke-width="2.0" />
<line x1="158.06" y1="933.67" x2="166.06" y2="933.67" stroke="#000" stroke-width="2.0" />
<line x1="158.06" y1="940.99" x2="166.06" y2="940.99" stroke="#000" stroke-width="2.0" />
<line x1="165.2" y1="929.21" x2="165.2" y2="938.19" stroke="#000" stroke-width="2.0" />
<line x1="161.2" y1="929.21" x2="169.2" y2="929.21" stroke="#000" stroke-width="2.0" />
<line x1="161.2" y1="938.19" x2="169.2" y2="938.19" stroke="#000" stroke-width="2.0" />
<line x1="168.34" y1="934.02" x2="168.34" y2="942.31" stroke="#000" stroke-width="2.0" />
<line x1="164.34" y1="934.02" x2="172.34" y2="934.02" stroke="#000" stroke-width="2.0" />
<line x1="164.34" y1="942.31" x2="172.34" y2="942.31" stroke="#000" stroke-width="2.0" />
<line x1="171.48" y1="930.44" x2="171.48" y2="936.37" stroke="#000" stroke-width="2.0" />
<line x1="167.48" y1="930.44" x2="175.48" y2="930.44" stroke="#000" stroke-width="2.0" />
<line x1="167.48" y1="936.37" x2="175.48" y2="936.37" stroke="#000" stroke-width="2.0" />
<line x1="174.62" y1="931.5" x2="174.62" y2="940.26" stroke="#000" stroke-width="2.0" />
<line x1="170.62" y1="931.5" x2="178.62" y2="931.5" stroke="#000" stroke-width="2.0" />
<line x1="170.62" y1="940.26" x2="178.62" y2="940.26" stroke="#000" stroke-width="2.0" />
<line x1="177.75" y1="934.79" x2="177.75" y2="940.42" stroke="#000" stroke-width="2.0" />
<line x1="173.75" y1="934.79" x2="181.75" y2="934.79" stroke="#000" stroke-width="2.0" />
<line x1="173.75" y1="940.42" x2="181.75" y2="940.42" stroke="#000" stroke-width="2.0" />
<line x1="180.89" y1="923.47" x2="180.89" y2="933.55" stroke="#000" stroke-width="2.0" />
<line x1="176.89" y1="923.47" x2="184.89" y2="923.47" stroke="#000" stroke-width="2.0" />
<line x1="176.89" y1="933.55" x2="184.89" y2="933.55" stroke="#000" stroke-width="2.0" />
<line x1="184.03" y1="933.25" x2="184.03" y2="941.22" stroke="#000" stroke-width="2.0" />
<line x1="180.03" y1="933.25" x2="188.03" y2="933.25" stroke="#000" stroke-width="2.0" />
<line x1="180.03" y1="941.22" x2="188.03" y2="941.22" stroke="#000" stroke-width="2.0" />
<line x1="187.17" y1="921.95" x2="187.17" y2="935.44" stroke="#000" stroke-width="2.0" />
<line x1="183.17" y1="921.95" x2="191.17" y2="921.95" stroke="#000" stroke-width="2.0" />
<line x1="183.17" y1="935.44" x2="191.17" y2="935.44" stroke="#000" stroke-width="2.0" />
<line x1="190.31" y1="930.17" x2="190.31" y2="945.93" stroke="#000" stroke-width="2.0" />
<line x1="186.31" y1="930.17" x2="194.31" y2="930.17" stroke="#000" stroke-width="2.0" />
<line x1="186.31" y1="945.93" x2="194.31" y2="945.93" stroke="#000" stroke-width="2.0" />
<line x1="193.44" y1="922.86" x2="193.44" y2="935.77" stroke="#000" stroke-width="2.0" />
<line x1="189.44" y1="922.86" x2="197.44" y2="922.86" stroke="#000" stroke-width="2.0" />
<line x1="189.44" y1="935.77" x2="197.44" y2="935.77" stroke="#000" stroke-width="2.0" />
<line x1="196.58" y1="923.13" x2="196.58" y2="943.94" stroke="#000" stroke-width="2.0" />
<line x1="192.58" y1="923.13" x2="200.58" y2="923.13" stroke="#000" stroke-width="2.0" />
<line x1="192.58" y1="943.94" x2="200.58" y2="943.94" stroke="#000" stroke-width="2.0" />
<line x1="199.72" y1="916.67" x2="199.72" y2="925.49" stroke="#000" stroke-width="2.0" />
<line x1="195.72" y1="916.67" x2="203.72" y2="916.67" stroke="#000" stroke-width="2.0" />
<line x1="195.72" y1="925.49" x2="203.72" y2="925.49" stroke="#000" stroke-width="2.0" />
<line x1="202.86" y1="929.33" x2="202.86" y2="939.87" stroke="#000" stroke-width="2.0" />
<line x1="198.86" y1="929.33" x2="206.86" y2="929.33" stroke="#000" stroke-width="2.0" />
<line x1="198.86" y1="939.87" x2="206.86" y2="939.87" stroke="#000" stroke-width="2.0" />
<line x1="205.99" y1="917.13" x2="205.99" y2="937.54" stroke="#000" stroke-width="2.0" />
<line x1="201.99" y1="917.13" x2="209.99" y2="917.13" stroke="#000" stroke-width="2.0" />
<line x1="201.99" y1="937.54" x2="209.99" y2="937.54" stroke="#000" stroke-width="2.0" />
<line x1="209.13" y1="923.99" x2="209.13" y2="946.17" stroke="#000" stroke-width="2.0" />
<line x1="205.13" y1="923.99" x2="213.13" y2="923.99" stroke="#000" stroke-width="2.0" />
<line x1="205.13" y1="946.17" x2="213.13" y2="946.17" stroke="#000" stroke-width="2.0" />
<line x1="212.27" y1="930.8" x2="212.27" y2="955.18" stroke="#000" stroke-width="2.0" />
<line x1="208.27" y1="930.8" x2="216.27" y2="930.8" stroke="#000" stroke-width="2.0" />
<line x1="208.27" y1="955.18" x2="216.27" y2="955.18" stroke="#000" stroke-width="2.0" />
<line x1="215.41" y1="913.44" x2="215.41" y2="939.55" stroke="#000" stroke-width="2.0" />
<line x1="211.41" y1="913.44" x2="219.41" y2="913.44" stroke="#000" stroke-width="2.0" />
<line x1="211.41" y1="939.55" x2="219.41" y2="939.55" stroke="#000" stroke-width="2.0" />
<line x1="218.55" y1="905.05" x2="218.55" y2="926.86" stroke="#000" stroke-width="2.0" />
<line x1="214.55" y1="905.05" x2="222.55" y2="905.05" stroke="#000" stroke-width="2.0" />
<line x1="214.55" y1="926.86" x2="222.55" y2="926.86" stroke="#000" stroke-width="2.0" />
<line x1="221.68" y1="927.42" x2="221.68" y2="952.12" stroke="#000" stroke-width="2.0" />
<line x1="217.68" y1="927.42" x2="225.68" y2="927.42" stroke="#000" stroke-width="2.0" />
<line x1="217.68" y1="952.12" x2="225.68" y2="952.12" stroke="#000" stroke-width="2.0" />
<line x1="224.82" y1="917.26" x2="224.82" y2="930.53" stroke="#000" stroke-width="2.0" />
<line x1="220.82" y1="917.26" x2="228.82" y2="917.26" stroke="#000" stroke-width="2.0" />
<line x1="220.82" y1="930.53" x2="228.82" y2="930.53" stroke="#000" stroke-width="2.0" />
<line x1="227.96" y1="934.69" x2="227.96" y2="950.24" stroke="#000" stroke-width="2.0" />
<line x1="223.96" y1="934.69" x2="231.96" y2="934.69" stroke="#000" stroke-width="2.0" />
<line x1="223.96" y1="950.24" x2="231.96" y2="950.24" stroke="#000" stroke-width="2.0" />
<line x1="231.1" y1="912.59" x2="231.1" y2="943.08" stroke="#000" stroke-width="2.0" />
<line x1="227.1" y1="912.59" x2="235.1" y2="912.59" stroke="#000" stroke-width="2.0" />
<line x1="227.1" y1="943.08" x2="235.1" y2="943.08" stroke="#000" stroke-width="2.0" />
<line x1="234.24" y1="934.33" x2="234.24" y2="957.86" stroke="#000" stroke-width="2.0" />
<line x1="230.24" y1="934.33" x2="238.24" y2="934.33" stroke="#000" stroke-width="2.0" />
<line x1="230.24" y1="957.86" x2="238.24" y2="957.86" stroke="#000" stroke-width="2.0" />
<line x1="237.37" y1="926.72" x2="237.37" y2="952.79" stroke="#000" stroke-width="2.0" />
<line x1="233.37" y1="926.72" x2="241.37" y2="926.72" stroke="#000" stroke-width="2.0" />
<line x1="233.37" y1="952.79" x2="241.37" y2="952.79" stroke="#000" stroke-width="2.0" />
<line x1="240.51" y1="909.62" x2="240.51" y2="940.97" stroke="#000" stroke-width="2.0" />
<line x1="236.51" y1="909.62" x2="244.51" y2="909.62" stroke="#000" stroke-width="2.0" />
<line x1="236.51" y1="940.97" x2="244.51" y2="940.97" stroke="#000" stroke-width="2.0" />
<line x1="243.65" y1="922.34" x2="243.65" y2="937.96" stroke="#000" stroke-width="2.0" />
<line x1="239.65" y1="922.34" x2="247.65" y2="922.34" stroke="#000" stroke-width="2.0" />
<line x1="239.65" y1="937.96" x2="247.65" y2="937.96" stroke="#000" stroke-width="2.0" />
<line x1="246.79" y1="933.37" x2="246.79" y2="963.09" stroke="#000" stroke-width="2.0" />
<line x1="242.79" y1="933.37" x2="250.79" y2="933.37" stroke="#000" stroke-width="2.0" />
<line x1="242.79" y1="963.09" x2="250.79" y2="963.09" stroke="#000" stroke-width="2.0" />
<line x1="249.92" y1="923.78" x2="249.92" y2="939.36" stroke="#000" stroke-width="2.0" />
<line x1="245.92" y1="923.78" x2="253.92" y2="923.78" stroke="#000" stroke-width="2.0" />
<line x1="245.92" y1="939.36" x2="253.92" y2="939.36" stroke="#000" stroke-width="2.0" />
<line x1="253.06" y1="921.76" x2="253.06" y2="954.06" stroke="#000" stroke-width="2.0" />
<line x1="249.06" y1="921.76" x2="257.06" y2="921.76" stroke="#000" stroke-width="2.0" />
<line x1="249.06" y1="954.06" x2="257.06" y2="954.06" stroke="#000" stroke-width="2.0" />
<line x1="256.2" y1="932.1" x2="256.2" y2="962.39" stroke="#000" stroke-width="2.0" />
<line x1="252.2" y1="932.1" x2="260.2" y2="932.1" stroke="#000" stroke-width="2.0" />
<line x1="252.2" y1="962.39" x2="260.2" y2="962.39" stroke="#000" stroke-width="2.0" />
<line x1="259.34" y1="918.08" x2="259.34" y2="951.25" stroke="#000" stroke-width="2.0" />
<line x1="255.34" y1="918.08" x2="263.34" y2="918.08" stroke="#000" stroke-width="2.0" />
<line x1="255.34" y1="951.25" x2="263.34" y2="951.25" stroke="#000" stroke-width="2.0" />
<line x1="262.48" y1="922.91" x2="262.48" y2="944.33" stroke="#000" stroke-width="2.0" />
<line x1="258.48" y1="922.91" x2="266.48" y2="922.91" stroke="#000" stroke-width="2.0" />
<line x1="258.48" y1="944.33" x2="266.48" y2="944.33" stroke="#000" stroke-width="2.0" />
<line x1="265.61" y1="924.94" x2="265.61" y2="950.59" stroke="#000" stroke-width="2.0" />
<line x1="261.61" y1="924.94" x2="269.61" y2="924.94" stroke="#000" stroke-width="2.0" />
<line x1="261.61" y1="950.59" x2="269.61" y2="950.59" stroke="#000" stroke-width="2.0" />
<line x1="268.75" y1="917.2" x2="268.75" y2="936.31" stroke="#000" stroke-width="2.0" />
<line x1="264.75" y1="917.2" x2="272.75" y2="917.2" stroke="#000" stroke-width="2.0" />
<line x1="264.75" y1="936.31" x2="272.75" y2="936.31" stroke="#000" stroke-width="2.0" />
<line x1="271.89" y1="926.81" x2="271.89" y2="943.65" stroke="#000" stroke-width="2.0" />
<line x1="267.89" y1="926.81" x2="275.89" y2="926.81" stroke="#000" stroke-width="2.0" />
<line x1="267.89" y1="943.65" x2="275.89" y2="943.65" stroke="#000" stroke-width="2.0" />
<line x1="275.03" y1="920.55" x2="275.03" y2="938.22" stroke="#000" stroke-width="2.0" />
<line x1="271.03" y1="920.55" x2="279.03" y2="920.55" stroke="#000" stroke-width="2.0" />
<line x1="271.03" y1="938.22" x2="279.03" y2="938.22" stroke="#000" stroke-width="2.0" />
<line x1="278.16" y1="909.25" x2="278.16" y2="939.29" stroke="#000" stroke-width="2.0" />
<line x1="274.16" y1="909.25" x2="282.16" y2="909.25" stroke="#000" stroke-width="2.0" />
<line x1="274.16" y1="939.29" x2="282.16" y2="939.29" stroke="#000" stroke-width="2.0" />
<line x1="281.3" y1="929.15" x2="281.3" y2="944.51" stroke="#000" stroke-width="2.0" />
<line x1="277.3" y1="929.15" x2="285.3" y2="929.15" stroke="#000" stroke-width="2.0" />
<line x1="277.3" y1="944.51" x2="285.3" y2="944.51" stroke="#000" stroke-width="2.0" />
<line x1="284.44" y1="919" x2="284.44" y2="940.05" stroke="#000" stroke-width="2.0" />
<line x1="280.44" y1="919" x2="288.44" y2="919" stroke="#000" stroke-width="2.0" />
<line x1="280.44" y1="940.05" x2="288.44" y2="940.05" stroke="#000" stroke-width="2.0" />
<line x1="287.58" y1="923.85" x2="287.58" y2="959.33" stroke="#000" stroke-width="2.0" />
<line x1="283.58" y1="923.85" x2="291.58" y2="923.85" stroke="#000" stroke-width="2.0" />
<line x1="283.58" y1="959.33" x2="291.58" y2="959.33" stroke="#000" stroke-width="2.0" />
<line x1="290.72" y1="914.43" x2="290.72" y2="936.52" stroke="#000" stroke-width="2.0" />
<line x1="286.72" y1="914.43" x2="294.72" y2="914.43" stroke="#000" stroke-width="2.0" />
<line x1="286.72" y1="936.52" x2="294.72" y2="936.52" stroke="#000" stroke-width="2.0" />
<line x1="293.85" y1="920.91" x2="293.85" y2="941.72" stroke="#000" stroke-width="2.0" />
<line x1="289.85" y1="920.91" x2="297.85" y2="920.91" stroke="#000" stroke-width="2.0" />
<line x1="289.85" y1="941.72" x2="297.85" y2="941.72" stroke="#000" stroke-width="2.0" />
<line x1="296.99" y1="936.3" x2="296.99" y2="960.3" stroke="#000" stroke-width="2.0" />
<line x1="292.99" y1="936.3" x2="300.99" y2="936.3" stroke="#000" stroke-width="2.0" />
<line x1="292.99" y1="960.3" x2="300.99" y2="960.3" stroke="#000" stroke-width="2.0" />
<line x1="300.13" y1="892.24" x2="300.13" y2="932.2" stroke="#000" stroke-width="2.0" />
<line x1="296.13" y1="892.24" x2="304.13" y2="892.24" stroke="#000" stroke-width="2.0" />
<line x1="296.13" y1="932.2" x2="304.13" y2="932.2" stroke="#000" stroke-width="2.0" />
<line x1="303.27" y1="924.51" x2="303.27" y2="960.66" stroke="#000" stroke-width="2.0" />
<line x1="299.27" y1="924.51" x2="307.27" y2="924.51" stroke="#000" stroke-width="2.0" />
<line x1="299.27" y1="960.66" x2="307.27" y2="960.66" stroke="#000" stroke-width="2.0" />
<line x1="306.41" y1="921.21" x2="306.41" y2="942.95" stroke="#000" stroke-width="2.0" />
<line x1="302.41" y1="921.21" x2="310.41" y2="921.21" stroke="#000" stroke-width="2.0" />
<line x1="302.41" y1="942.95" x2="310.41" y2="942.95" stroke="#000" stroke-width="2.0" />
<line x1="309.54" y1="904.68" x2="309.54" y2="930.39" stroke="#000" stroke-width="2.0" />
<line x1="305.54" y1="904.68" x2="313.54" y2="904.68" stroke="#000" stroke-width="2.0" />
<line x1="305.54" y1="930.39" x2="313.54" y2="930.39" stroke="#000" stroke-width="2.0" />
<line x1="312.68" y1="923.85" x2="312.68" y2="941.73" stroke="#000" stroke-width="2.0" />
<line x1="308.68" y1="923.85" x2="316.68" y2="923.85" stroke="#000" stroke-width="2.0" />
<line x1="308.68" y1="941.73" x2="316.68" y2="941.73" stroke="#000" stroke-width="2.0" />
<line x1="315.82" y1="917.47" x2="315.82" y2="956.53" stroke="#000" stroke-width="2.0" />
<line x1="311.82" y1="917.47" x2="319.82" y2="917.47" stroke="#000" stroke-width="2.0" />
<line x1="311.82" y1="956.53" x2="319.82" y2="956.53" stroke="#000" stroke-width="2.0" />
<line x1="318.96" y1="909.81" x2="318.96" y2="947.28" stroke="#000" stroke-width="2.0" />
<line x1="314.96" y1="909.81" x2="322.96" y2="909.81" stroke="#000" stroke-width="2.0" />
<line x1="314.96" y1="947.28" x2="322.96" y2="947.28" stroke="#000" stroke-width="2.0" />
<line x1="322.09" y1="920.91" x2="322.09" y2="953.71" stroke="#000" stroke-width="2.0" />
<line x1="318.09" y1="920.91" x2="326.09" y2="920.91" stroke="#000" stroke-width="2.0" />
<line x1="318.09" y1="953.71" x2="326.09" y2="953.71" stroke="#000" stroke-width="2.0" />
<line x1="325.23" y1="896.19" x2="325.23" y2="930.31" stroke="#000" stroke-width="2.0" />
<line x1="321.23" y1="896.19" x2="329.23" y2="896.19" stroke="#000" stroke-width="2.0" />
<line x1="321.23" y1="930.31" x2="329.23" y2="930.31" stroke="#000" stroke-width="2.0" />
<line x1="328.37" y1="917.77" x2="328.37" y2="944.9" stroke="#000" stroke-width="2.0" />
<line x1="324.37" y1="917.77" x2="332.37" y2="917.77" stroke="#000" stroke-width="2.0" />
<line x1="324.37" y1="944.9" x2="332.37" y2="944.9" stroke="#000" stroke-width="2.0" />
<line x1="331.51" y1="926.45" x2="331.51" y2="963.73" stroke="#000" stroke-width="2.0" />
<line x1="327.51" y1="926.45" x2="335.51" y2="926.45" stroke="#000" stroke-width="2.0" />
<line x1="327.51" y1="963.73" x2="335.51" y2="963.73" stroke="#000" stroke-width="2.0" />
<line x1="154.4" y1="811.1" x2="175.5" y2="811.1" stroke="#9b9ba1" stroke-width="2.2" />
<line x1="154.4" y1="838.8" x2="175.5" y2="838.8" stroke="#000" stroke-width="2.2" />
<text x="187.5" y="816.6" font-size="16.2" text-anchor="start"  >CB<tspan font-size="11.99" dy="3.89">2</tspan></text>
<text x="187.5" y="844" font-size="16.2" text-anchor="start"  >CB<tspan font-size="11.99" dy="3.89">2</tspan><tspan dy="-3.89"> + GRK2</tspan></text>
<text x="341.2" y="392.6" font-size="17.8" text-anchor="start" font-weight="bold" >E</text>
<text x="544" y="397.1" font-size="19.6" text-anchor="middle" font-weight="bold" >CB<tspan font-size="14.5" dy="4.7">1</tspan></text>
<line x1="439.3" y1="426.56" x2="439.3" y2="627.64" stroke="#000" stroke-width="2.0" />
<line x1="433.8" y1="427.56" x2="439.3" y2="427.56" stroke="#000" stroke-width="2.0" />
<text x="430.1" y="433.76" font-size="15.0" text-anchor="end" font-weight="bold" >150</text>
<line x1="433.8" y1="484.44" x2="439.3" y2="484.44" stroke="#000" stroke-width="2.0" />
<text x="430.1" y="490.64" font-size="15.0" text-anchor="end" font-weight="bold" >100</text>
<line x1="433.8" y1="541.32" x2="439.3" y2="541.32" stroke="#000" stroke-width="2.0" />
<text x="430.1" y="547.52" font-size="15.0" text-anchor="end" font-weight="bold" >50</text>
<line x1="433.8" y1="598.2" x2="439.3" y2="598.2" stroke="#000" stroke-width="2.0" />
<text x="430.1" y="604.4" font-size="15.0" text-anchor="end" font-weight="bold" >0</text>
<text transform="translate(376.8,526.4) rotate(-90)" font-size="16.7" text-anchor="middle" font-weight="bold">bβ-arrestin-1 translocation</text>
<text transform="translate(397.8,526.4) rotate(-90)" font-size="16.7" text-anchor="middle" font-weight="bold">(ΔBRET.sec)</text>
<line x1="438.3" y1="626.64" x2="651" y2="626.64" stroke="#000" stroke-width="2.0" />
<line x1="460.9" y1="626.64" x2="460.9" y2="632.64" stroke="#000" stroke-width="2.0" />
<line x1="494.3" y1="626.64" x2="494.3" y2="632.64" stroke="#000" stroke-width="2.0" />
<line x1="527.6" y1="626.64" x2="527.6" y2="632.64" stroke="#000" stroke-width="2.0" />
<line x1="560.9" y1="626.64" x2="560.9" y2="632.64" stroke="#000" stroke-width="2.0" />
<line x1="594.5" y1="626.64" x2="594.5" y2="632.64" stroke="#000" stroke-width="2.0" />
<line x1="627.8" y1="626.64" x2="627.8" y2="632.64" stroke="#000" stroke-width="2.0" />
<line x1="444" y1="598.2" x2="650" y2="598.2" stroke="#000" stroke-width="2" stroke-dasharray="2 4"/>
<circle cx="461.4" cy="563.05" r="4" fill="#000" stroke="none" stroke-width="0"/>
<circle cx="455" cy="578.41" r="4" fill="#000" stroke="none" stroke-width="0"/>
<circle cx="466.4" cy="581.7" r="4" fill="#000" stroke="none" stroke-width="0"/>
<line x1="450" y1="574.39" x2="471.8" y2="574.39" stroke="#000" stroke-width="2" />
<line x1="460.9" y1="568.64" x2="460.9" y2="580.13" stroke="#000" stroke-width="2.7" />
<line x1="455.7" y1="568.64" x2="466.1" y2="568.64" stroke="#000" stroke-width="2.7" />
<line x1="455.7" y1="580.13" x2="466.1" y2="580.13" stroke="#000" stroke-width="2.7" />
<circle cx="494.6" cy="547.01" r="4" fill="#000" stroke="none" stroke-width="0"/>
<circle cx="488.8" cy="560.77" r="4" fill="#000" stroke="none" stroke-width="0"/>
<circle cx="499.8" cy="571.35" r="4" fill="#000" stroke="none" stroke-width="0"/>
<line x1="483.4" y1="559.71" x2="505.2" y2="559.71" stroke="#000" stroke-width="2" />
<line x1="494.3" y1="552.66" x2="494.3" y2="566.76" stroke="#000" stroke-width="2.7" />
<line x1="489.1" y1="552.66" x2="499.5" y2="552.66" stroke="#000" stroke-width="2.7" />
<line x1="489.1" y1="566.76" x2="499.5" y2="566.76" stroke="#000" stroke-width="2.7" />
<circle cx="527.6" cy="583.52" r="4" fill="#000" stroke="none" stroke-width="0"/>
<circle cx="521.8" cy="588.3" r="4" fill="#000" stroke="none" stroke-width="0"/>
<circle cx="533.5" cy="598.2" r="4" fill="#000" stroke="none" stroke-width="0"/>
<line x1="516.7" y1="590.01" x2="538.5" y2="590.01" stroke="#000" stroke-width="2" />
<line x1="527.6" y1="585.69" x2="527.6" y2="594.33" stroke="#000" stroke-width="2.7" />
<line x1="522.4" y1="585.69" x2="532.8" y2="585.69" stroke="#000" stroke-width="2.7" />
<line x1="522.4" y1="594.33" x2="532.8" y2="594.33" stroke="#000" stroke-width="2.7" />
<circle cx="556" cy="591.15" r="4" fill="#000" stroke="none" stroke-width="0"/>
<circle cx="567.3" cy="593.76" r="4" fill="#000" stroke="none" stroke-width="0"/>
<circle cx="560.9" cy="606.96" r="4" fill="#000" stroke="none" stroke-width="0"/>
<line x1="550" y1="597.29" x2="571.8" y2="597.29" stroke="#000" stroke-width="2" />
<line x1="560.9" y1="592.4" x2="560.9" y2="602.18" stroke="#000" stroke-width="2.7" />
<line x1="555.7" y1="592.4" x2="566.1" y2="592.4" stroke="#000" stroke-width="2.7" />
<line x1="555.7" y1="602.18" x2="566.1" y2="602.18" stroke="#000" stroke-width="2.7" />
<circle cx="589.2" cy="582.39" r="4" fill="#000" stroke="none" stroke-width="0"/>
<circle cx="600.6" cy="587.62" r="4" fill="#000" stroke="none" stroke-width="0"/>
<circle cx="594.7" cy="602.18" r="4" fill="#000" stroke="none" stroke-width="0"/>
<line x1="583.6" y1="590.73" x2="605.4" y2="590.73" stroke="#000" stroke-width="2" />
<line x1="594.5" y1="584.81" x2="594.5" y2="596.65" stroke="#000" stroke-width="2.7" />
<line x1="589.3" y1="584.81" x2="599.7" y2="584.81" stroke="#000" stroke-width="2.7" />
<line x1="589.3" y1="596.65" x2="599.7" y2="596.65" stroke="#000" stroke-width="2.7" />
<circle cx="622.6" cy="534.84" r="4" fill="#000" stroke="none" stroke-width="0"/>
<circle cx="633.6" cy="538.82" r="4" fill="#000" stroke="none" stroke-width="0"/>
<circle cx="627.7" cy="555.31" r="4" fill="#000" stroke="none" stroke-width="0"/>
<line x1="616.9" y1="542.99" x2="638.7" y2="542.99" stroke="#000" stroke-width="2" />
<line x1="627.8" y1="536.72" x2="627.8" y2="549.26" stroke="#000" stroke-width="2.7" />
<line x1="622.6" y1="536.72" x2="633" y2="536.72" stroke="#000" stroke-width="2.7" />
<line x1="622.6" y1="549.26" x2="633" y2="549.26" stroke="#000" stroke-width="2.7" />
<text transform="translate(466.4,645.5) rotate(-45)" font-size="15.0" text-anchor="end" font-weight="bold">1 <tspan font-weight="normal" font-family="Liberation Serif">μ</tspan>M CP55,940</text>
<text transform="translate(499.8,645.5) rotate(-45)" font-size="15.0" text-anchor="end" font-weight="bold">31.6 <tspan font-weight="normal" font-family="Liberation Serif">μ</tspan>M 2-AG</text>
<text transform="translate(533.1,645.5) rotate(-45)" font-size="15.0" text-anchor="end" font-weight="bold">10 <tspan font-weight="normal" font-family="Liberation Serif">μ</tspan>M AEA</text>
<text transform="translate(566.4,645.5) rotate(-45)" font-size="15.0" text-anchor="end" font-weight="bold">10 <tspan font-weight="normal" font-family="Liberation Serif">μ</tspan>M BAY59-3074</text>
<text transform="translate(600,645.5) rotate(-45)" font-size="15.0" text-anchor="end" font-weight="bold">10 <tspan font-weight="normal" font-family="Liberation Serif">μ</tspan>M THC</text>
<text transform="translate(633.3,645.5) rotate(-45)" font-size="15.0" text-anchor="end" font-weight="bold">10 <tspan font-weight="normal" font-family="Liberation Serif">μ</tspan>M WIN55,212-2</text>
<text x="341.2" y="774" font-size="17.8" text-anchor="start" font-weight="bold" >H</text>
<text x="544" y="775.8" font-size="19.6" text-anchor="middle" font-weight="bold" >CB<tspan font-size="14.5" dy="4.7">2</tspan></text>
<line x1="439.3" y1="805.26" x2="439.3" y2="1006.34" stroke="#000" stroke-width="2.0" />
<line x1="433.8" y1="806.26" x2="439.3" y2="806.26" stroke="#000" stroke-width="2.0" />
<text x="430.1" y="812.46" font-size="15.0" text-anchor="end" font-weight="bold" >150</text>
<line x1="433.8" y1="863.14" x2="439.3" y2="863.14" stroke="#000" stroke-width="2.0" />
<text x="430.1" y="869.34" font-size="15.0" text-anchor="end" font-weight="bold" >100</text>
<line x1="433.8" y1="920.02" x2="439.3" y2="920.02" stroke="#000" stroke-width="2.0" />
<text x="430.1" y="926.22" font-size="15.0" text-anchor="end" font-weight="bold" >50</text>
<line x1="433.8" y1="976.9" x2="439.3" y2="976.9" stroke="#000" stroke-width="2.0" />
<text x="430.1" y="983.1" font-size="15.0" text-anchor="end" font-weight="bold" >0</text>
<text transform="translate(376.8,905.1) rotate(-90)" font-size="16.7" text-anchor="middle" font-weight="bold">bβ-arrestin-1 translocation</text>
<text transform="translate(397.8,905.1) rotate(-90)" font-size="16.7" text-anchor="middle" font-weight="bold">(ΔBRET.sec)</text>
<line x1="438.3" y1="1005.34" x2="651" y2="1005.34" stroke="#000" stroke-width="2.0" />
<line x1="460.9" y1="1005.34" x2="460.9" y2="1011.34" stroke="#000" stroke-width="2.0" />
<line x1="494.3" y1="1005.34" x2="494.3" y2="1011.34" stroke="#000" stroke-width="2.0" />
<line x1="527.6" y1="1005.34" x2="527.6" y2="1011.34" stroke="#000" stroke-width="2.0" />
<line x1="560.9" y1="1005.34" x2="560.9" y2="1011.34" stroke="#000" stroke-width="2.0" />
<line x1="594.5" y1="1005.34" x2="594.5" y2="1011.34" stroke="#000" stroke-width="2.0" />
<line x1="627.8" y1="1005.34" x2="627.8" y2="1011.34" stroke="#000" stroke-width="2.0" />
<line x1="444" y1="976.9" x2="650" y2="976.9" stroke="#000" stroke-width="2" stroke-dasharray="2 4"/>
<circle cx="461.3" cy="942.09" r="4" fill="#000" stroke="none" stroke-width="0"/>
<circle cx="455" cy="955.29" r="4" fill="#000" stroke="none" stroke-width="0"/>
<circle cx="466.8" cy="958.93" r="4" fill="#000" stroke="none" stroke-width="0"/>
<line x1="450" y1="952.1" x2="471.8" y2="952.1" stroke="#000" stroke-width="2" />
<line x1="460.9" y1="946.99" x2="460.9" y2="957.21" stroke="#000" stroke-width="2.7" />
<line x1="455.7" y1="946.99" x2="466.1" y2="946.99" stroke="#000" stroke-width="2.7" />
<line x1="455.7" y1="957.21" x2="466.1" y2="957.21" stroke="#000" stroke-width="2.7" />
<circle cx="495" cy="950.96" r="4" fill="#000" stroke="none" stroke-width="0"/>
<circle cx="489.5" cy="961.88" r="4" fill="#000" stroke="none" stroke-width="0"/>
<circle cx="499.8" cy="968.48" r="4" fill="#000" stroke="none" stroke-width="0"/>
<line x1="483.4" y1="960.44" x2="505.2" y2="960.44" stroke="#000" stroke-width="2" />
<line x1="494.3" y1="955.33" x2="494.3" y2="965.55" stroke="#000" stroke-width="2.7" />
<line x1="489.1" y1="955.33" x2="499.5" y2="955.33" stroke="#000" stroke-width="2.7" />
<line x1="489.1" y1="965.55" x2="499.5" y2="965.55" stroke="#000" stroke-width="2.7" />
<circle cx="522.5" cy="955.29" r="4" fill="#000" stroke="none" stroke-width="0"/>
<circle cx="534.2" cy="955.97" r="4" fill="#000" stroke="none" stroke-width="0"/>
<circle cx="528" cy="969.62" r="4" fill="#000" stroke="none" stroke-width="0"/>
<line x1="516.7" y1="960.29" x2="538.5" y2="960.29" stroke="#000" stroke-width="2" />
<line x1="527.6" y1="955.62" x2="527.6" y2="964.96" stroke="#000" stroke-width="2.7" />
<line x1="522.4" y1="955.62" x2="532.8" y2="955.62" stroke="#000" stroke-width="2.7" />
<line x1="522.4" y1="964.96" x2="532.8" y2="964.96" stroke="#000" stroke-width="2.7" />
<circle cx="561.8" cy="956.42" r="4" fill="#000" stroke="none" stroke-width="0"/>
<circle cx="556.1" cy="968.82" r="4" fill="#000" stroke="none" stroke-width="0"/>
<circle cx="567.1" cy="978.38" r="4" fill="#000" stroke="none" stroke-width="0"/>
<line x1="550" y1="967.88" x2="571.8" y2="967.88" stroke="#000" stroke-width="2" />
<line x1="560.9" y1="961.52" x2="560.9" y2="974.23" stroke="#000" stroke-width="2.7" />
<line x1="555.7" y1="961.52" x2="566.1" y2="961.52" stroke="#000" stroke-width="2.7" />
<line x1="555.7" y1="974.23" x2="566.1" y2="974.23" stroke="#000" stroke-width="2.7" />
<circle cx="589" cy="960.06" r="4" fill="#000" stroke="none" stroke-width="0"/>
<circle cx="594.9" cy="963.02" r="4" fill="#000" stroke="none" stroke-width="0"/>
<circle cx="600.8" cy="970.3" r="4" fill="#000" stroke="none" stroke-width="0"/>
<line x1="583.6" y1="964.46" x2="605.4" y2="964.46" stroke="#000" stroke-width="2" />
<line x1="594.5" y1="961.42" x2="594.5" y2="967.5" stroke="#000" stroke-width="2.7" />
<line x1="589.3" y1="961.42" x2="599.7" y2="961.42" stroke="#000" stroke-width="2.7" />
<line x1="589.3" y1="967.5" x2="599.7" y2="967.5" stroke="#000" stroke-width="2.7" />
<circle cx="628.7" cy="942.09" r="4" fill="#000" stroke="none" stroke-width="0"/>
<circle cx="622.3" cy="950.51" r="4" fill="#000" stroke="none" stroke-width="0"/>
<circle cx="633.7" cy="960.75" r="4" fill="#000" stroke="none" stroke-width="0"/>
<line x1="616.9" y1="951.11" x2="638.7" y2="951.11" stroke="#000" stroke-width="2" />
<line x1="627.8" y1="945.72" x2="627.8" y2="956.51" stroke="#000" stroke-width="2.7" />
<line x1="622.6" y1="945.72" x2="633" y2="945.72" stroke="#000" stroke-width="2.7" />
<line x1="622.6" y1="956.51" x2="633" y2="956.51" stroke="#000" stroke-width="2.7" />
<text transform="translate(466.4,1024.2) rotate(-45)" font-size="15.0" text-anchor="end" font-weight="bold">1 <tspan font-weight="normal" font-family="Liberation Serif">μ</tspan>M CP55,940</text>
<text transform="translate(499.8,1024.2) rotate(-45)" font-size="15.0" text-anchor="end" font-weight="bold">31.6 <tspan font-weight="normal" font-family="Liberation Serif">μ</tspan>M 2-AG</text>
<text transform="translate(533.1,1024.2) rotate(-45)" font-size="15.0" text-anchor="end" font-weight="bold">10 <tspan font-weight="normal" font-family="Liberation Serif">μ</tspan>M JWH-015</text>
<text transform="translate(566.4,1024.2) rotate(-45)" font-size="15.0" text-anchor="end" font-weight="bold">10 <tspan font-weight="normal" font-family="Liberation Serif">μ</tspan>M JWH-133</text>
<text transform="translate(600,1024.2) rotate(-45)" font-size="15.0" text-anchor="end" font-weight="bold">10 <tspan font-weight="normal" font-family="Liberation Serif">μ</tspan>M THC</text>
<text transform="translate(633.3,1024.2) rotate(-45)" font-size="15.0" text-anchor="end" font-weight="bold">10 <tspan font-weight="normal" font-family="Liberation Serif">μ</tspan>M WIN55,212-2</text>
<text x="691.9" y="392.6" font-size="17.8" text-anchor="start" font-weight="bold" >F</text>
<text x="825.2" y="398.3" font-size="19.6" text-anchor="middle" font-weight="bold" >CB<tspan font-size="14.5" dy="4.7">1</tspan><tspan dy="-4.7"> + GRK2</tspan></text>
<line x1="771.8" y1="426.8" x2="771.8" y2="628.3" stroke="#000" stroke-width="2.0" />
<line x1="766.3" y1="427.8" x2="771.8" y2="427.8" stroke="#000" stroke-width="2.0" />
<text x="762.6" y="434" font-size="15.0" text-anchor="end" font-weight="bold" >150</text>
<line x1="766.3" y1="484.8" x2="771.8" y2="484.8" stroke="#000" stroke-width="2.0" />
<text x="762.6" y="491" font-size="15.0" text-anchor="end" font-weight="bold" >100</text>
<line x1="766.3" y1="541.8" x2="771.8" y2="541.8" stroke="#000" stroke-width="2.0" />
<text x="762.6" y="548" font-size="15.0" text-anchor="end" font-weight="bold" >50</text>
<line x1="766.3" y1="598.8" x2="771.8" y2="598.8" stroke="#000" stroke-width="2.0" />
<text x="762.6" y="605" font-size="15.0" text-anchor="end" font-weight="bold" >0</text>
<text transform="translate(709.6,526.9) rotate(-90)" font-size="16.7" text-anchor="middle" font-weight="bold">bβ-arrestin-1 translocation</text>
<text transform="translate(730.5,526.9) rotate(-90)" font-size="16.7" text-anchor="middle" font-weight="bold">(ΔBRET.sec)</text>
<line x1="770.8" y1="627.3" x2="880" y2="627.3" stroke="#000" stroke-width="2.0" />
<line x1="801.6" y1="627.3" x2="801.6" y2="633.3" stroke="#000" stroke-width="2.0" />
<line x1="848" y1="627.3" x2="848" y2="633.3" stroke="#000" stroke-width="2.0" />
<line x1="775.5" y1="598.8" x2="881" y2="598.8" stroke="#000" stroke-width="2" stroke-dasharray="2 4"/>
<circle cx="791.3" cy="543.51" r="4" fill="#000" stroke="none" stroke-width="0"/>
<circle cx="802" cy="545.33" r="4" fill="#000" stroke="none" stroke-width="0"/>
<circle cx="812.4" cy="553.43" r="4" fill="#000" stroke="none" stroke-width="0"/>
<line x1="786.6" y1="547.42" x2="816.6" y2="547.42" stroke="#000" stroke-width="2" />
<line x1="801.6" y1="544.38" x2="801.6" y2="550.47" stroke="#000" stroke-width="2.7" />
<line x1="794.4" y1="544.38" x2="808.8" y2="544.38" stroke="#000" stroke-width="2.7" />
<line x1="794.4" y1="550.47" x2="808.8" y2="550.47" stroke="#000" stroke-width="2.7" />
<circle cx="848.4" cy="533.59" r="4" fill="#000" stroke="none" stroke-width="0"/>
<circle cx="839.9" cy="541.69" r="4" fill="#000" stroke="none" stroke-width="0"/>
<circle cx="856" cy="551.6" r="4" fill="#000" stroke="none" stroke-width="0"/>
<line x1="833" y1="542.29" x2="863" y2="542.29" stroke="#000" stroke-width="2" />
<line x1="848" y1="537.09" x2="848" y2="547.5" stroke="#000" stroke-width="2.7" />
<line x1="840.8" y1="537.09" x2="855.2" y2="537.09" stroke="#000" stroke-width="2.7" />
<line x1="840.8" y1="547.5" x2="855.2" y2="547.5" stroke="#000" stroke-width="2.7" />
<text transform="translate(807.1,645.5) rotate(-45)" font-size="15.0" text-anchor="end" font-weight="bold">1 <tspan font-weight="normal" font-family="Liberation Serif">μ</tspan>M CP55,940</text>
<text transform="translate(853.5,645.5) rotate(-45)" font-size="15.0" text-anchor="end" font-weight="bold">31.6 <tspan font-weight="normal" font-family="Liberation Serif">μ</tspan>M 2-AG</text>
<text x="691.9" y="774" font-size="17.8" text-anchor="start" font-weight="bold" >I</text>
<text x="827.8" y="775.8" font-size="19.6" text-anchor="middle" font-weight="bold" >CB<tspan font-size="14.5" dy="4.7">2</tspan><tspan dy="-4.7"> + GRK2</tspan></text>
<line x1="771.8" y1="804" x2="771.8" y2="1005.5" stroke="#000" stroke-width="2.0" />
<line x1="766.3" y1="805" x2="771.8" y2="805" stroke="#000" stroke-width="2.0" />
<text x="762.6" y="811.2" font-size="15.0" text-anchor="end" font-weight="bold" >150</text>
<line x1="766.3" y1="862" x2="771.8" y2="862" stroke="#000" stroke-width="2.0" />
<text x="762.6" y="868.2" font-size="15.0" text-anchor="end" font-weight="bold" >100</text>
<line x1="766.3" y1="919" x2="771.8" y2="919" stroke="#000" stroke-width="2.0" />
<text x="762.6" y="925.2" font-size="15.0" text-anchor="end" font-weight="bold" >50</text>
<line x1="766.3" y1="976" x2="771.8" y2="976" stroke="#000" stroke-width="2.0" />
<text x="762.6" y="982.2" font-size="15.0" text-anchor="end" font-weight="bold" >0</text>
<text transform="translate(709.6,904.4) rotate(-90)" font-size="16.7" text-anchor="middle" font-weight="bold">bβ-arrestin-1 translocation</text>
<text transform="translate(730.5,904.4) rotate(-90)" font-size="16.7" text-anchor="middle" font-weight="bold">(ΔBRET.sec)</text>
<line x1="770.8" y1="1004.5" x2="884.8" y2="1004.5" stroke="#000" stroke-width="2.0" />
<line x1="803.2" y1="1004.5" x2="803.2" y2="1010.5" stroke="#000" stroke-width="2.0" />
<line x1="852.8" y1="1004.5" x2="852.8" y2="1010.5" stroke="#000" stroke-width="2.0" />
<line x1="775.5" y1="976" x2="885.8" y2="976" stroke="#000" stroke-width="2" stroke-dasharray="2 4"/>
<circle cx="792.6" cy="938.38" r="4" fill="#000" stroke="none" stroke-width="0"/>
<circle cx="803.2" cy="945.22" r="4" fill="#000" stroke="none" stroke-width="0"/>
<circle cx="814.4" cy="946.47" r="4" fill="#000" stroke="none" stroke-width="0"/>
<line x1="788.2" y1="943.36" x2="818.2" y2="943.36" stroke="#000" stroke-width="2" />
<line x1="803.2" y1="940.84" x2="803.2" y2="945.87" stroke="#000" stroke-width="2.7" />
<line x1="796" y1="940.84" x2="810.4" y2="940.84" stroke="#000" stroke-width="2.7" />
<line x1="796" y1="945.87" x2="810.4" y2="945.87" stroke="#000" stroke-width="2.7" />
<circle cx="841.6" cy="952.06" r="4" fill="#000" stroke="none" stroke-width="0"/>
<circle cx="852.8" cy="958.44" r="4" fill="#000" stroke="none" stroke-width="0"/>
<circle cx="863" cy="959.47" r="4" fill="#000" stroke="none" stroke-width="0"/>
<line x1="837.8" y1="956.66" x2="867.8" y2="956.66" stroke="#000" stroke-width="2" />
<line x1="852.8" y1="954.34" x2="852.8" y2="958.98" stroke="#000" stroke-width="2.7" />
<line x1="845.6" y1="954.34" x2="860" y2="954.34" stroke="#000" stroke-width="2.7" />
<line x1="845.6" y1="958.98" x2="860" y2="958.98" stroke="#000" stroke-width="2.7" />
<text transform="translate(808.7,1023) rotate(-45)" font-size="15.0" text-anchor="end" font-weight="bold">1 <tspan font-weight="normal" font-family="Liberation Serif">μ</tspan>M CP55,940</text>
<text transform="translate(858.3,1023) rotate(-45)" font-size="15.0" text-anchor="end" font-weight="bold">31.6 <tspan font-weight="normal" font-family="Liberation Serif">μ</tspan>M 2-AG</text>
<text x="4" y="1103.3" font-size="17.8" text-anchor="start" font-weight="bold" >J</text>
<line x1="127" y1="1119.4" x2="127" y2="1315.2" stroke="#000" stroke-width="2.0" />
<line x1="121.5" y1="1120.4" x2="127" y2="1120.4" stroke="#000" stroke-width="2.0" />
<text x="118.2" y="1126.38" font-size="14.4" text-anchor="end" font-weight="bold" >400000</text>
<line x1="121.5" y1="1168.85" x2="127" y2="1168.85" stroke="#000" stroke-width="2.0" />
<text x="118.2" y="1174.83" font-size="14.4" text-anchor="end" font-weight="bold" >300000</text>
<line x1="121.5" y1="1217.3" x2="127" y2="1217.3" stroke="#000" stroke-width="2.0" />
<text x="118.2" y="1223.28" font-size="14.4" text-anchor="end" font-weight="bold" >200000</text>
<line x1="121.5" y1="1265.75" x2="127" y2="1265.75" stroke="#000" stroke-width="2.0" />
<text x="118.2" y="1271.73" font-size="14.4" text-anchor="end" font-weight="bold" >100000</text>
<line x1="121.5" y1="1314.2" x2="127" y2="1314.2" stroke="#000" stroke-width="2.0" />
<text x="118.2" y="1320.18" font-size="14.4" text-anchor="end" font-weight="bold" >0</text>
<text transform="translate(43.3,1216.2) rotate(-90)" font-size="16" text-anchor="middle" font-weight="bold">Integrated intensity</text>
<text transform="translate(63.1,1216.2) rotate(-90)" font-size="16" text-anchor="middle" font-weight="bold">per positive cell (AU)</text>
<line x1="126" y1="1314.2" x2="380.5" y2="1314.2" stroke="#000" stroke-width="2.0" />
<line x1="146.8" y1="1314.2" x2="146.8" y2="1320.2" stroke="#000" stroke-width="2.0" />
<line x1="177.15" y1="1314.2" x2="177.15" y2="1320.2" stroke="#000" stroke-width="2.0" />
<line x1="207.5" y1="1314.2" x2="207.5" y2="1320.2" stroke="#000" stroke-width="2.0" />
<line x1="237.85" y1="1314.2" x2="237.85" y2="1320.2" stroke="#000" stroke-width="2.0" />
<line x1="268.2" y1="1314.2" x2="268.2" y2="1320.2" stroke="#000" stroke-width="2.0" />
<line x1="298.55" y1="1314.2" x2="298.55" y2="1320.2" stroke="#000" stroke-width="2.0" />
<line x1="328.9" y1="1314.2" x2="328.9" y2="1320.2" stroke="#000" stroke-width="2.0" />
<line x1="359.25" y1="1314.2" x2="359.25" y2="1320.2" stroke="#000" stroke-width="2.0" />
<circle cx="147.9" cy="1226.12" r="4" fill="#000" stroke="none" stroke-width="0"/>
<circle cx="141.8" cy="1232.8" r="4" fill="#000" stroke="none" stroke-width="0"/>
<circle cx="152.5" cy="1240.07" r="4" fill="#000" stroke="none" stroke-width="0"/>
<line x1="136.9" y1="1233" x2="156.7" y2="1233" stroke="#000" stroke-width="2" />
<line x1="146.8" y1="1228.97" x2="146.8" y2="1237.03" stroke="#000" stroke-width="2.7" />
<line x1="141.7" y1="1228.97" x2="151.9" y2="1228.97" stroke="#000" stroke-width="2.7" />
<line x1="141.7" y1="1237.03" x2="151.9" y2="1237.03" stroke="#000" stroke-width="2.7" />
<circle cx="177.15" cy="1201.31" r="4" fill="#000" stroke="none" stroke-width="0"/>
<circle cx="177.15" cy="1243.95" r="4" fill="#000" stroke="none" stroke-width="0"/>
<circle cx="176.65" cy="1226.02" r="4" fill="#000" stroke="none" stroke-width="0"/>
<line x1="167.25" y1="1223.76" x2="187.05" y2="1223.76" stroke="#000" stroke-width="2" />
<line x1="177.15" y1="1211.4" x2="177.15" y2="1236.12" stroke="#000" stroke-width="2.7" />
<line x1="172.05" y1="1211.4" x2="182.25" y2="1211.4" stroke="#000" stroke-width="2.7" />
<line x1="172.05" y1="1236.12" x2="182.25" y2="1236.12" stroke="#000" stroke-width="2.7" />
<circle cx="202.9" cy="1198.4" r="4" fill="#000" stroke="none" stroke-width="0"/>
<circle cx="213.2" cy="1200.34" r="4" fill="#000" stroke="none" stroke-width="0"/>
<circle cx="207.5" cy="1232.51" r="4" fill="#000" stroke="none" stroke-width="0"/>
<line x1="197.6" y1="1210.42" x2="217.4" y2="1210.42" stroke="#000" stroke-width="2" />
<line x1="207.5" y1="1199.36" x2="207.5" y2="1221.48" stroke="#000" stroke-width="2.7" />
<line x1="202.4" y1="1199.36" x2="212.6" y2="1199.36" stroke="#000" stroke-width="2.7" />
<line x1="202.4" y1="1221.48" x2="212.6" y2="1221.48" stroke="#000" stroke-width="2.7" />
<circle cx="232.85" cy="1228.93" r="4" fill="#000" stroke="none" stroke-width="0"/>
<circle cx="237.85" cy="1232.8" r="4" fill="#000" stroke="none" stroke-width="0"/>
<circle cx="243.55" cy="1237.65" r="4" fill="#000" stroke="none" stroke-width="0"/>
<line x1="227.95" y1="1233.13" x2="247.75" y2="1233.13" stroke="#000" stroke-width="2" />
<line x1="237.85" y1="1230.6" x2="237.85" y2="1235.65" stroke="#000" stroke-width="2.7" />
<line x1="232.75" y1="1230.6" x2="242.95" y2="1230.6" stroke="#000" stroke-width="2.7" />
<line x1="232.75" y1="1235.65" x2="242.95" y2="1235.65" stroke="#000" stroke-width="2.7" />
<circle cx="262.5" cy="1188.23" r="4" fill="#000" stroke="none" stroke-width="0"/>
<circle cx="273.1" cy="1198.4" r="4" fill="#000" stroke="none" stroke-width="0"/>
<circle cx="268.2" cy="1221.18" r="4" fill="#000" stroke="none" stroke-width="0"/>
<line x1="258.3" y1="1202.6" x2="278.1" y2="1202.6" stroke="#000" stroke-width="2" />
<line x1="268.2" y1="1192.86" x2="268.2" y2="1212.34" stroke="#000" stroke-width="2.7" />
<line x1="263.1" y1="1192.86" x2="273.3" y2="1192.86" stroke="#000" stroke-width="2.7" />
<line x1="263.1" y1="1212.34" x2="273.3" y2="1212.34" stroke="#000" stroke-width="2.7" />
<circle cx="298.75" cy="1179.51" r="4" fill="#000" stroke="none" stroke-width="0"/>
<circle cx="293.05" cy="1223.11" r="4" fill="#000" stroke="none" stroke-width="0"/>
<circle cx="303.65" cy="1232.8" r="4" fill="#000" stroke="none" stroke-width="0"/>
<line x1="288.65" y1="1211.81" x2="308.45" y2="1211.81" stroke="#000" stroke-width="2" />
<line x1="298.55" y1="1195.42" x2="298.55" y2="1228.2" stroke="#000" stroke-width="2.7" />
<line x1="293.45" y1="1195.42" x2="303.65" y2="1195.42" stroke="#000" stroke-width="2.7" />
<line x1="293.45" y1="1228.2" x2="303.65" y2="1228.2" stroke="#000" stroke-width="2.7" />
<circle cx="329.2" cy="1215.51" r="4" fill="#000" stroke="none" stroke-width="0"/>
<circle cx="322.8" cy="1225.05" r="4" fill="#000" stroke="none" stroke-width="0"/>
<circle cx="334.2" cy="1228.93" r="4" fill="#000" stroke="none" stroke-width="0"/>
<line x1="319" y1="1223.16" x2="338.8" y2="1223.16" stroke="#000" stroke-width="2" />
<line x1="328.9" y1="1219.17" x2="328.9" y2="1227.15" stroke="#000" stroke-width="2.7" />
<line x1="323.8" y1="1219.17" x2="334" y2="1219.17" stroke="#000" stroke-width="2.7" />
<line x1="323.8" y1="1227.15" x2="334" y2="1227.15" stroke="#000" stroke-width="2.7" />
<circle cx="353.65" cy="1302.81" r="4" fill="#000" stroke="none" stroke-width="0"/>
<circle cx="359.25" cy="1308.39" r="4" fill="#000" stroke="none" stroke-width="0"/>
<circle cx="365.05" cy="1312.26" r="4" fill="#000" stroke="none" stroke-width="0"/>
<line x1="349.35" y1="1307.82" x2="369.15" y2="1307.82" stroke="#000" stroke-width="2" />
<line x1="359.25" y1="1305.08" x2="359.25" y2="1310.56" stroke="#000" stroke-width="2.7" />
<line x1="354.15" y1="1305.08" x2="364.35" y2="1305.08" stroke="#000" stroke-width="2.7" />
<line x1="354.15" y1="1310.56" x2="364.35" y2="1310.56" stroke="#000" stroke-width="2.7" />
<text transform="translate(152.3,1333.5) rotate(-45)" font-size="15.0" text-anchor="end" font-weight="bold">V<tspan font-size="11.1" dy="3.6" font-weight="normal">2</tspan><tspan dy="-3.6">R</tspan></text>
<text transform="translate(182.65,1333.5) rotate(-45)" font-size="15.0" text-anchor="end" font-weight="bold">D<tspan font-size="11.1" dy="3.6" font-weight="normal">2</tspan><tspan dy="-3.6">R</tspan></text>
<text transform="translate(213,1333.5) rotate(-45)" font-size="15.0" text-anchor="end" font-weight="bold">D<tspan font-size="11.1" dy="3.6" font-weight="normal">2</tspan><tspan dy="-3.6">R + GRK2</tspan></text>
<text transform="translate(243.35,1333.5) rotate(-45)" font-size="15.0" text-anchor="end" font-weight="bold">CB<tspan font-size="11.1" dy="3.6" font-weight="normal">1</tspan></text>
<text transform="translate(273.7,1333.5) rotate(-45)" font-size="15.0" text-anchor="end" font-weight="bold">CB<tspan font-size="11.1" dy="3.6" font-weight="normal">1</tspan><tspan dy="-3.6">+ GRK2</tspan></text>
<text transform="translate(304.05,1333.5) rotate(-45)" font-size="15.0" text-anchor="end" font-weight="bold">CB<tspan font-size="11.1" dy="3.6" font-weight="normal">2</tspan></text>
<text transform="translate(334.4,1333.5) rotate(-45)" font-size="15.0" text-anchor="end" font-weight="bold">CB<tspan font-size="11.1" dy="3.6" font-weight="normal">2</tspan><tspan dy="-3.6">+ GRK2</tspan></text>
<text transform="translate(364.75,1333.5) rotate(-45)" font-size="15.0" text-anchor="end" font-weight="bold">No receptor</text>
</svg>
</body></html>
